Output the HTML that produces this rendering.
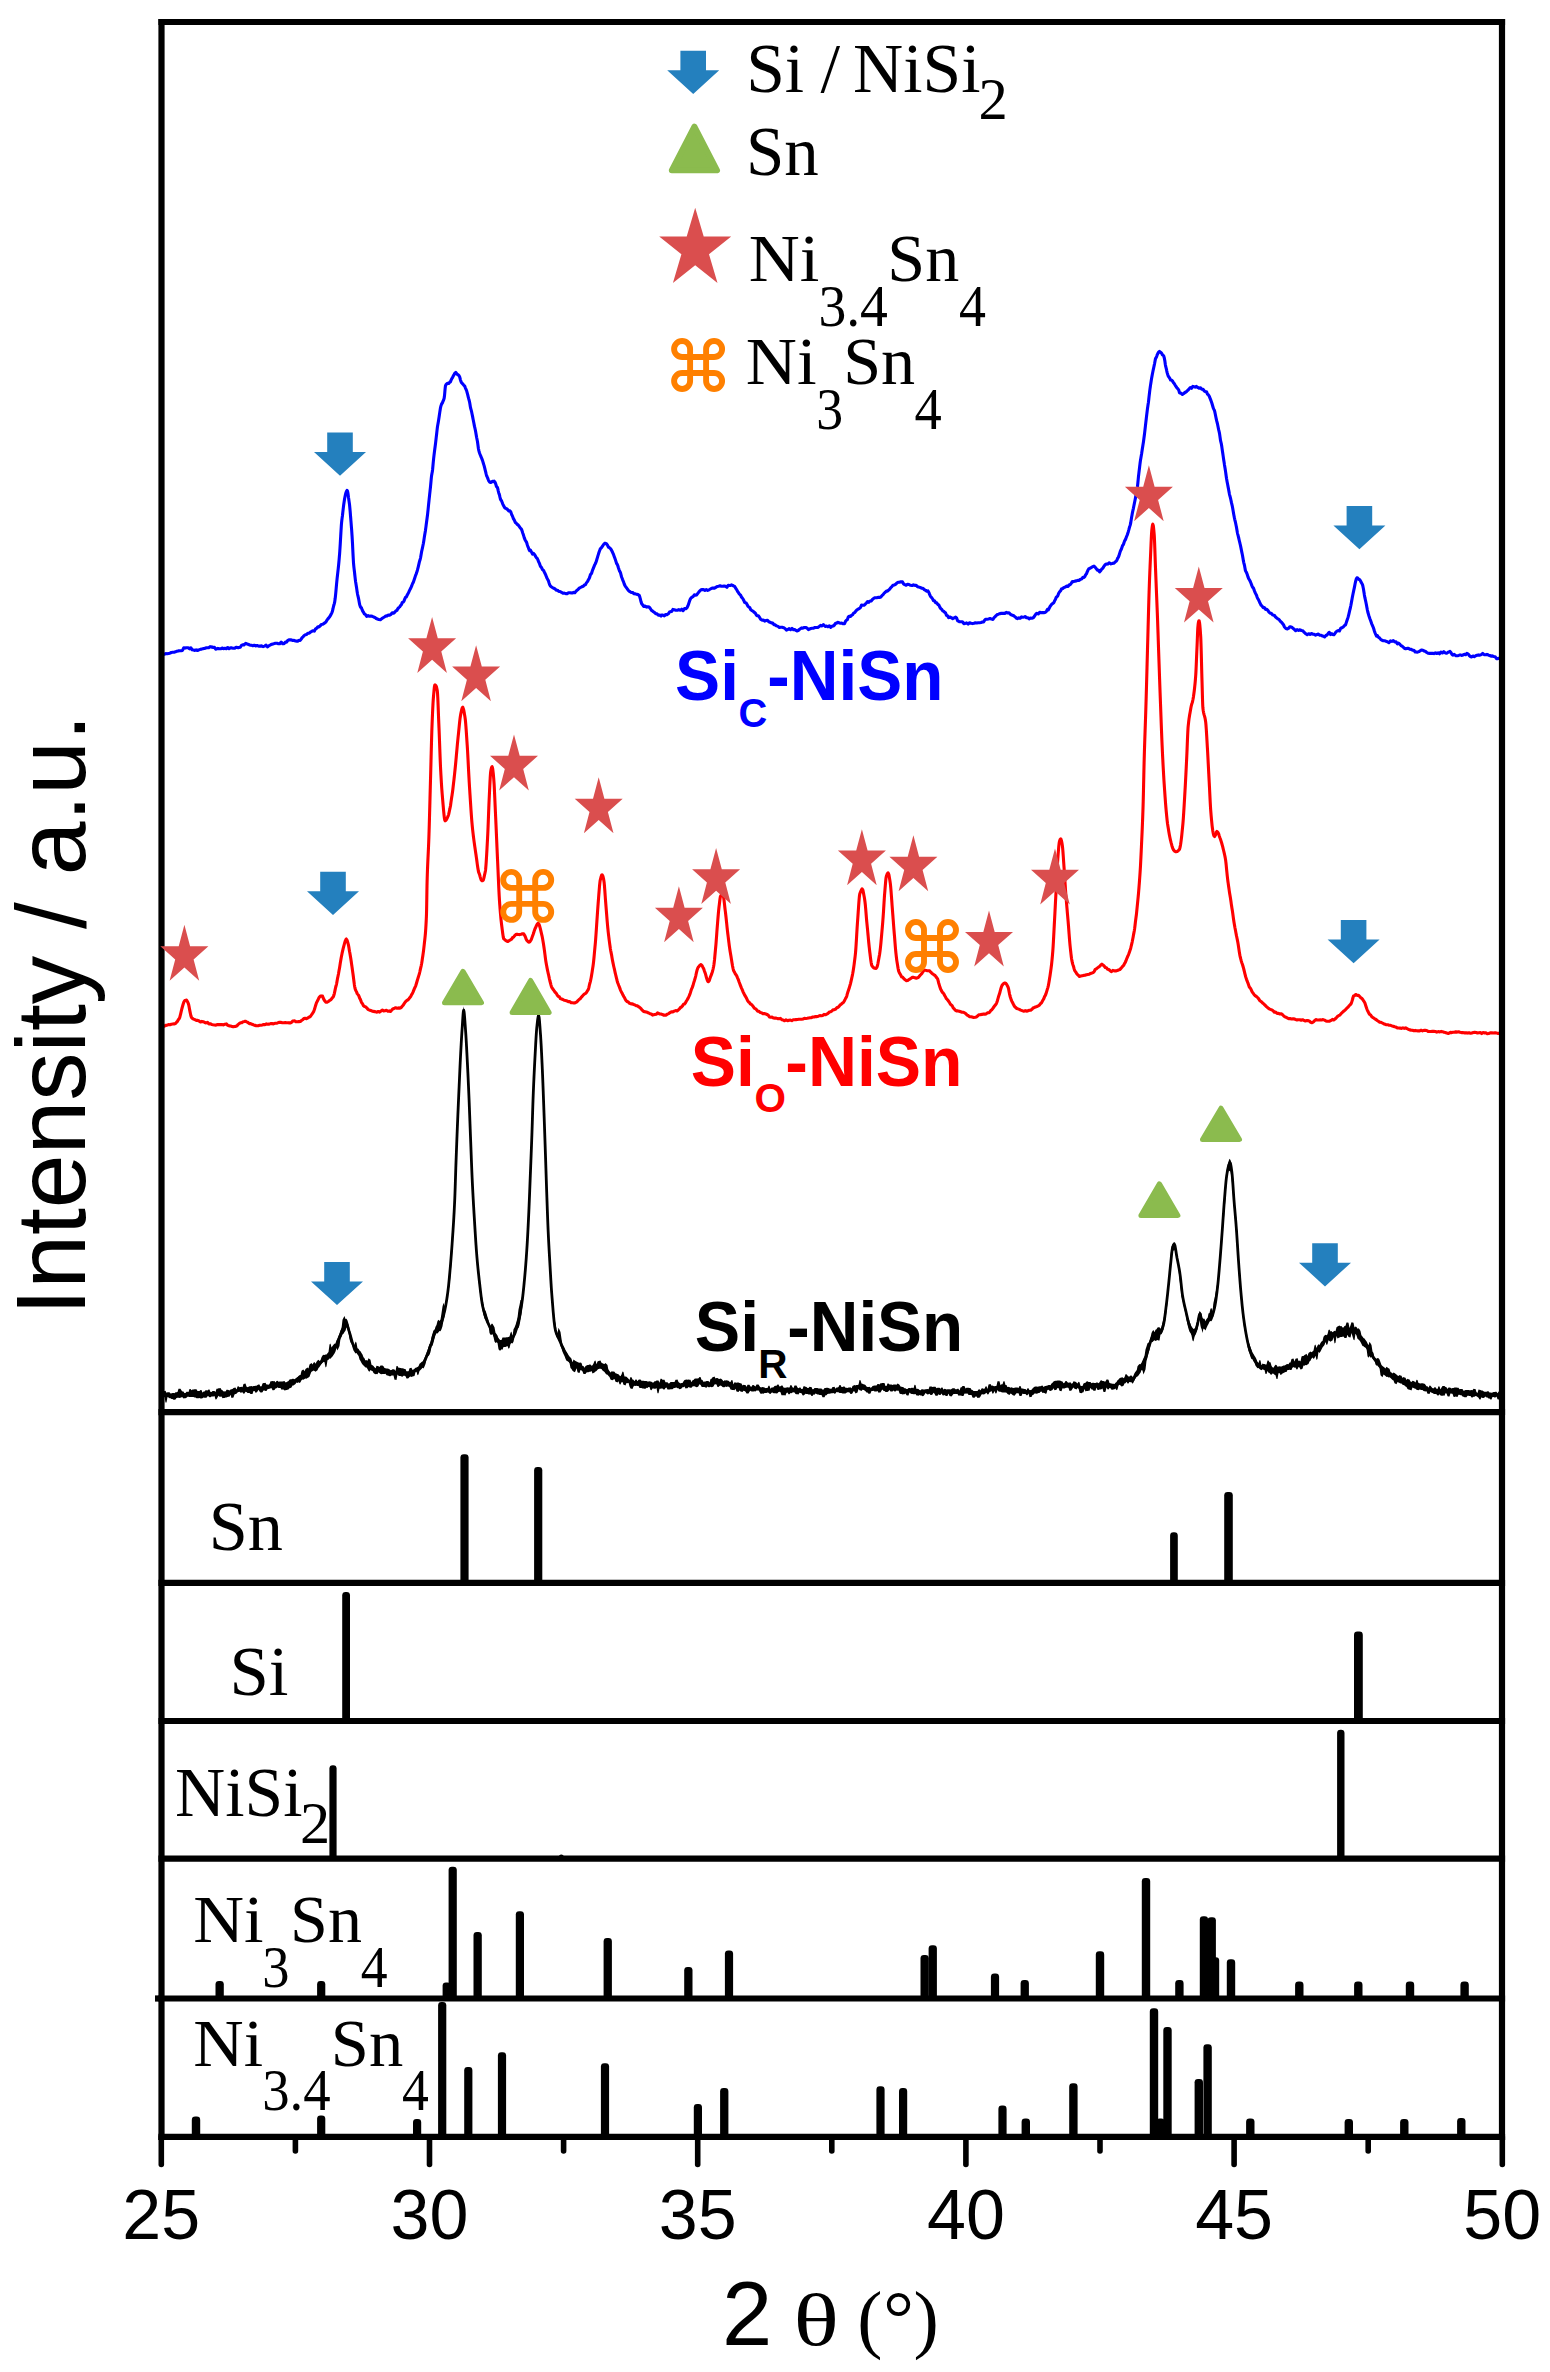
<!DOCTYPE html>
<html><head><meta charset="utf-8"><title>XRD patterns</title>
<style>html,body{margin:0;padding:0;background:#fff}svg text{white-space:pre}</style></head>
<body>
<svg width="1550" height="2372" viewBox="0 0 1550 2372" style="display:block">
<rect width="1550" height="2372" fill="#fff"/>
<path d="M161.5,1390.0 L162.5,1390.0 L163.5,1390.9 L164.5,1390.9 L165.5,1390.8 L166.5,1392.7 L167.5,1392.3 L168.5,1392.3 L169.5,1392.2 L170.5,1393.6 L171.5,1393.6 L172.5,1393.0 L173.5,1393.0 L174.5,1393.3 L175.5,1392.2 L176.5,1392.2 L177.5,1392.1 L178.5,1388.8 L179.5,1388.7 L180.5,1388.7 L181.5,1390.6 L182.5,1391.6 L183.5,1391.5 L184.5,1393.3 L185.5,1393.0 L186.5,1391.7 L187.5,1391.7 L188.5,1391.9 L189.5,1388.9 L190.5,1388.9 L191.5,1390.3 L192.5,1389.6 L193.5,1389.6 L194.5,1389.3 L195.5,1389.3 L196.5,1389.3 L197.5,1390.9 L198.5,1390.9 L199.5,1391.1 L200.5,1389.9 L201.5,1389.9 L202.5,1392.8 L203.5,1391.4 L204.5,1391.4 L205.5,1390.2 L206.5,1390.2 L207.5,1390.5 L208.5,1389.6 L209.5,1389.6 L210.5,1392.0 L211.5,1391.9 L212.5,1391.1 L213.5,1391.0 L214.5,1391.0 L215.5,1392.1 L216.5,1388.7 L217.5,1388.7 L218.5,1388.2 L219.5,1388.2 L220.5,1388.1 L221.5,1389.8 L222.5,1390.3 L223.5,1391.6 L224.5,1391.5 L225.5,1391.8 L226.5,1389.8 L227.5,1389.7 L228.5,1390.1 L229.5,1390.6 L230.5,1389.5 L231.5,1389.3 L232.5,1389.1 L233.5,1388.1 L234.5,1387.8 L235.5,1387.5 L236.5,1389.7 L237.5,1386.6 L238.5,1386.3 L239.5,1387.3 L240.5,1387.0 L241.5,1386.8 L242.5,1387.3 L243.5,1383.9 L244.5,1383.7 L245.5,1383.6 L246.5,1386.6 L247.5,1387.4 L248.5,1386.8 L249.5,1386.2 L250.5,1386.2 L251.5,1386.1 L252.5,1386.4 L253.5,1386.0 L254.5,1385.9 L255.5,1385.7 L256.5,1385.7 L257.5,1385.1 L258.5,1384.6 L259.5,1384.5 L260.5,1386.7 L261.5,1386.6 L262.5,1383.5 L263.5,1383.1 L264.5,1383.0 L265.5,1382.8 L266.5,1384.5 L267.5,1384.4 L268.5,1384.7 L269.5,1384.1 L270.5,1381.3 L271.5,1381.2 L272.5,1381.0 L273.5,1381.2 L274.5,1381.0 L275.5,1382.6 L276.5,1381.0 L277.5,1380.8 L278.5,1381.7 L279.5,1381.6 L280.5,1381.6 L281.5,1381.4 L282.5,1381.5 L283.5,1381.3 L284.5,1381.1 L285.5,1382.5 L286.5,1382.3 L287.5,1381.4 L288.5,1381.1 L289.5,1379.5 L290.5,1379.2 L291.5,1379.3 L292.5,1378.8 L293.5,1378.7 L294.5,1379.6 L295.5,1378.9 L296.5,1378.0 L297.5,1377.3 L298.5,1376.0 L299.5,1375.3 L300.5,1375.0 L301.5,1370.7 L302.5,1370.1 L303.5,1369.5 L304.5,1371.2 L305.5,1368.9 L306.5,1368.2 L307.5,1367.6 L308.5,1368.4 L309.5,1364.5 L310.5,1363.8 L311.5,1363.1 L312.5,1364.4 L313.5,1362.8 L314.5,1362.0 L315.5,1363.7 L316.5,1361.8 L317.5,1360.5 L318.5,1359.7 L319.5,1361.1 L320.5,1360.2 L321.5,1357.2 L322.5,1355.6 L323.5,1354.7 L324.5,1355.0 L325.5,1354.5 L326.5,1354.4 L327.5,1353.2 L328.5,1351.9 L329.5,1344.5 L330.5,1343.4 L331.5,1347.4 L332.5,1346.1 L333.5,1344.8 L334.5,1343.5 L335.5,1344.6 L336.5,1340.5 L337.5,1338.4 L338.5,1335.8 L339.5,1333.5 L340.5,1330.8 L341.5,1328.6 L342.5,1319.7 L343.5,1317.8 L344.5,1316.0 L345.5,1319.0 L346.5,1318.7 L347.5,1320.6 L348.5,1323.8 L349.5,1329.2 L350.5,1332.5 L351.5,1336.7 L352.5,1340.0 L353.5,1343.1 L354.5,1345.4 L355.5,1341.5 L356.5,1342.8 L357.5,1348.4 L358.5,1348.7 L359.5,1350.5 L360.5,1351.3 L361.5,1352.9 L362.5,1354.4 L363.5,1357.3 L364.5,1358.3 L365.5,1361.1 L366.5,1359.9 L367.5,1360.7 L368.5,1358.3 L369.5,1359.0 L370.5,1359.8 L371.5,1364.8 L372.5,1365.2 L373.5,1366.0 L374.5,1367.6 L375.5,1368.6 L376.5,1365.8 L377.5,1366.0 L378.5,1366.2 L379.5,1366.9 L380.5,1365.4 L381.5,1365.5 L382.5,1365.6 L383.5,1366.2 L384.5,1368.1 L385.5,1368.2 L386.5,1368.5 L387.5,1368.6 L388.5,1368.8 L389.5,1369.3 L390.5,1370.3 L391.5,1369.9 L392.5,1369.2 L393.5,1369.3 L394.5,1369.4 L395.5,1370.9 L396.5,1365.9 L397.5,1366.0 L398.5,1367.7 L399.5,1367.8 L400.5,1367.9 L401.5,1368.3 L402.5,1368.3 L403.5,1368.4 L404.5,1368.9 L405.5,1368.9 L406.5,1371.4 L407.5,1371.6 L408.5,1371.5 L409.5,1368.3 L410.5,1368.0 L411.5,1367.7 L412.5,1370.1 L413.5,1369.7 L414.5,1368.7 L415.5,1367.8 L416.5,1367.4 L417.5,1366.9 L418.5,1366.3 L419.5,1363.7 L420.5,1362.9 L421.5,1362.0 L422.5,1361.6 L423.5,1359.9 L424.5,1357.8 L425.5,1355.2 L426.5,1352.8 L427.5,1350.3 L428.5,1346.7 L429.5,1343.9 L430.5,1343.6 L431.5,1336.9 L432.5,1333.7 L433.5,1330.3 L434.5,1330.4 L435.5,1326.7 L436.5,1325.0 L437.5,1320.9 L438.5,1319.8 L439.5,1321.1 L440.5,1319.6 L441.5,1313.2 L442.5,1306.4 L443.5,1302.8 L444.5,1306.5 L445.5,1302.3 L446.5,1296.6 L447.5,1290.8 L448.5,1282.7 L449.5,1272.6 L450.5,1255.7 L451.5,1243.1 L452.5,1229.0 L453.5,1218.8 L454.5,1199.5 L455.5,1172.4 L456.5,1144.0 L457.5,1121.8 L458.5,1095.7 L459.5,1073.3 L460.5,1054.5 L461.5,1034.7 L462.5,1019.1 L463.5,1006.3 L464.5,1011.5 L465.5,1023.5 L466.5,1038.2 L467.5,1057.4 L468.5,1078.7 L469.5,1109.2 L470.5,1132.2 L471.5,1158.2 L472.5,1175.8 L473.5,1194.5 L474.5,1217.4 L475.5,1233.0 L476.5,1247.5 L477.5,1259.2 L478.5,1270.2 L479.5,1278.2 L480.5,1286.9 L481.5,1293.4 L482.5,1299.5 L483.5,1304.0 L484.5,1310.7 L485.5,1310.6 L486.5,1313.4 L487.5,1316.9 L488.5,1320.1 L489.5,1324.1 L490.5,1326.0 L491.5,1323.8 L492.5,1323.7 L493.5,1325.5 L494.5,1327.2 L495.5,1332.7 L496.5,1334.1 L497.5,1335.4 L498.5,1338.6 L499.5,1340.0 L500.5,1339.9 L501.5,1339.9 L502.5,1337.6 L503.5,1337.6 L504.5,1337.5 L505.5,1337.4 L506.5,1337.2 L507.5,1337.3 L508.5,1336.9 L509.5,1336.4 L510.5,1332.7 L511.5,1331.5 L512.5,1336.2 L513.5,1329.2 L514.5,1327.4 L515.5,1325.1 L516.5,1321.8 L517.5,1317.7 L518.5,1309.5 L519.5,1305.1 L520.5,1300.0 L521.5,1299.9 L522.5,1292.4 L523.5,1283.6 L524.5,1272.9 L525.5,1261.4 L526.5,1248.0 L527.5,1235.6 L528.5,1215.7 L529.5,1192.8 L530.5,1167.7 L531.5,1141.2 L532.5,1111.2 L533.5,1083.1 L534.5,1061.4 L535.5,1040.7 L536.5,1023.9 L537.5,1014.4 L538.5,1012.2 L539.5,1019.6 L540.5,1030.2 L541.5,1044.0 L542.5,1065.5 L543.5,1095.9 L544.5,1123.3 L545.5,1150.3 L546.5,1180.6 L547.5,1209.6 L548.5,1233.2 L549.5,1249.2 L550.5,1266.6 L551.5,1284.3 L552.5,1295.8 L553.5,1307.8 L554.5,1318.3 L555.5,1324.0 L556.5,1330.8 L557.5,1333.3 L558.5,1327.8 L559.5,1329.8 L560.5,1332.1 L561.5,1338.7 L562.5,1344.8 L563.5,1346.0 L564.5,1348.1 L565.5,1350.2 L566.5,1351.7 L567.5,1353.3 L568.5,1355.1 L569.5,1356.4 L570.5,1357.6 L571.5,1358.7 L572.5,1362.6 L573.5,1359.5 L574.5,1360.3 L575.5,1361.0 L576.5,1361.5 L577.5,1362.0 L578.5,1362.4 L579.5,1362.8 L580.5,1362.6 L581.5,1362.9 L582.5,1365.9 L583.5,1366.0 L584.5,1367.9 L585.5,1366.1 L586.5,1365.6 L587.5,1364.9 L588.5,1364.9 L589.5,1364.4 L590.5,1364.4 L591.5,1365.7 L592.5,1365.3 L593.5,1363.6 L594.5,1361.0 L595.5,1360.6 L596.5,1364.3 L597.5,1361.6 L598.5,1361.1 L599.5,1360.7 L600.5,1360.6 L601.5,1362.7 L602.5,1363.3 L603.5,1363.7 L604.5,1363.9 L605.5,1362.9 L606.5,1363.9 L607.5,1365.0 L608.5,1370.4 L609.5,1371.7 L610.5,1373.0 L611.5,1371.2 L612.5,1371.4 L613.5,1371.4 L614.5,1371.8 L615.5,1373.2 L616.5,1373.5 L617.5,1373.9 L618.5,1374.2 L619.5,1375.4 L620.5,1376.2 L621.5,1374.5 L622.5,1371.5 L623.5,1371.9 L624.5,1376.4 L625.5,1376.5 L626.5,1376.8 L627.5,1377.8 L628.5,1378.7 L629.5,1380.1 L630.5,1377.0 L631.5,1377.3 L632.5,1379.5 L633.5,1379.7 L634.5,1381.3 L635.5,1379.5 L636.5,1379.6 L637.5,1381.2 L638.5,1379.7 L639.5,1379.4 L640.5,1379.5 L641.5,1380.7 L642.5,1380.8 L643.5,1380.8 L644.5,1380.9 L645.5,1380.9 L646.5,1381.0 L647.5,1381.5 L648.5,1381.6 L649.5,1381.3 L650.5,1381.5 L651.5,1381.7 L652.5,1382.4 L653.5,1382.6 L654.5,1381.2 L655.5,1381.3 L656.5,1380.4 L657.5,1380.4 L658.5,1380.4 L659.5,1382.8 L660.5,1378.7 L661.5,1378.7 L662.5,1379.8 L663.5,1379.8 L664.5,1379.8 L665.5,1382.2 L666.5,1382.2 L667.5,1382.2 L668.5,1383.5 L669.5,1383.2 L670.5,1381.9 L671.5,1381.9 L672.5,1382.1 L673.5,1382.1 L674.5,1382.0 L675.5,1379.7 L676.5,1379.7 L677.5,1379.6 L678.5,1382.1 L679.5,1382.8 L680.5,1383.7 L681.5,1383.1 L682.5,1383.0 L683.5,1381.2 L684.5,1379.9 L685.5,1379.7 L686.5,1379.6 L687.5,1379.7 L688.5,1379.6 L689.5,1379.8 L690.5,1379.7 L691.5,1382.3 L692.5,1380.2 L693.5,1380.0 L694.5,1378.7 L695.5,1378.5 L696.5,1378.4 L697.5,1378.4 L698.5,1378.3 L699.5,1377.0 L700.5,1377.1 L701.5,1379.8 L702.5,1379.9 L703.5,1382.1 L704.5,1381.5 L705.5,1381.5 L706.5,1381.1 L707.5,1381.1 L708.5,1381.1 L709.5,1382.4 L710.5,1379.0 L711.5,1378.7 L712.5,1377.2 L713.5,1376.9 L714.5,1376.6 L715.5,1378.6 L716.5,1378.0 L717.5,1377.9 L718.5,1378.7 L719.5,1378.9 L720.5,1378.5 L721.5,1378.9 L722.5,1379.9 L723.5,1381.3 L724.5,1380.2 L725.5,1380.5 L726.5,1380.2 L727.5,1380.4 L728.5,1380.7 L729.5,1381.8 L730.5,1381.9 L731.5,1380.0 L732.5,1380.2 L733.5,1384.6 L734.5,1382.3 L735.5,1382.5 L736.5,1382.7 L737.5,1382.4 L738.5,1382.6 L739.5,1383.1 L740.5,1383.3 L741.5,1383.5 L742.5,1385.4 L743.5,1384.8 L744.5,1384.9 L745.5,1385.1 L746.5,1386.9 L747.5,1384.7 L748.5,1384.8 L749.5,1384.8 L750.5,1386.6 L751.5,1386.7 L752.5,1385.1 L753.5,1385.1 L754.5,1385.8 L755.5,1386.4 L756.5,1384.5 L757.5,1384.5 L758.5,1384.6 L759.5,1386.1 L760.5,1387.6 L761.5,1387.4 L762.5,1387.1 L763.5,1387.2 L764.5,1387.4 L765.5,1388.3 L766.5,1388.0 L767.5,1388.0 L768.5,1385.7 L769.5,1385.8 L770.5,1388.9 L771.5,1387.4 L772.5,1387.4 L773.5,1387.2 L774.5,1385.9 L775.5,1385.8 L776.5,1385.7 L777.5,1384.6 L778.5,1384.5 L779.5,1386.4 L780.5,1386.3 L781.5,1385.5 L782.5,1385.5 L783.5,1387.6 L784.5,1387.7 L785.5,1387.7 L786.5,1387.5 L787.5,1387.3 L788.5,1387.4 L789.5,1387.5 L790.5,1385.1 L791.5,1385.2 L792.5,1387.2 L793.5,1387.9 L794.5,1385.5 L795.5,1385.6 L796.5,1385.6 L797.5,1387.4 L798.5,1388.2 L799.5,1387.5 L800.5,1387.5 L801.5,1389.2 L802.5,1389.3 L803.5,1386.2 L804.5,1386.3 L805.5,1386.8 L806.5,1386.9 L807.5,1387.9 L808.5,1388.0 L809.5,1386.8 L810.5,1386.9 L811.5,1386.9 L812.5,1389.5 L813.5,1389.3 L814.5,1388.1 L815.5,1388.1 L816.5,1387.9 L817.5,1387.9 L818.5,1388.5 L819.5,1388.5 L820.5,1388.4 L821.5,1388.4 L822.5,1389.7 L823.5,1389.7 L824.5,1388.0 L825.5,1388.0 L826.5,1387.7 L827.5,1387.7 L828.5,1388.1 L829.5,1388.4 L830.5,1388.8 L831.5,1388.8 L832.5,1387.1 L833.5,1386.9 L834.5,1386.8 L835.5,1388.8 L836.5,1387.6 L837.5,1387.6 L838.5,1387.0 L839.5,1385.0 L840.5,1385.0 L841.5,1386.9 L842.5,1387.0 L843.5,1386.6 L844.5,1386.6 L845.5,1387.8 L846.5,1387.8 L847.5,1388.0 L848.5,1387.5 L849.5,1387.5 L850.5,1387.3 L851.5,1388.6 L852.5,1386.0 L853.5,1385.4 L854.5,1384.9 L855.5,1385.6 L856.5,1385.0 L857.5,1384.9 L858.5,1384.7 L859.5,1380.1 L860.5,1380.3 L861.5,1383.4 L862.5,1383.7 L863.5,1384.3 L864.5,1384.5 L865.5,1385.0 L866.5,1386.6 L867.5,1386.9 L868.5,1386.9 L869.5,1386.8 L870.5,1387.7 L871.5,1387.5 L872.5,1386.1 L873.5,1385.8 L874.5,1385.6 L875.5,1385.5 L876.5,1385.5 L877.5,1384.1 L878.5,1384.0 L879.5,1384.4 L880.5,1383.3 L881.5,1383.3 L882.5,1383.0 L883.5,1383.0 L884.5,1382.9 L885.5,1385.9 L886.5,1385.9 L887.5,1383.6 L888.5,1383.6 L889.5,1384.4 L890.5,1384.5 L891.5,1384.5 L892.5,1385.0 L893.5,1384.5 L894.5,1384.5 L895.5,1384.6 L896.5,1384.8 L897.5,1383.6 L898.5,1384.0 L899.5,1384.7 L900.5,1386.4 L901.5,1386.7 L902.5,1387.0 L903.5,1387.2 L904.5,1388.2 L905.5,1388.3 L906.5,1389.0 L907.5,1388.9 L908.5,1388.0 L909.5,1388.0 L910.5,1388.3 L911.5,1387.8 L912.5,1387.8 L913.5,1388.3 L914.5,1384.8 L915.5,1385.0 L916.5,1389.0 L917.5,1388.7 L918.5,1388.9 L919.5,1390.0 L920.5,1390.4 L921.5,1389.3 L922.5,1389.2 L923.5,1389.6 L924.5,1389.4 L925.5,1389.2 L926.5,1389.2 L927.5,1389.0 L928.5,1389.5 L929.5,1386.5 L930.5,1386.5 L931.5,1386.5 L932.5,1386.9 L933.5,1386.7 L934.5,1386.8 L935.5,1386.8 L936.5,1388.3 L937.5,1387.7 L938.5,1387.8 L939.5,1387.8 L940.5,1388.7 L941.5,1387.5 L942.5,1387.6 L943.5,1389.8 L944.5,1388.8 L945.5,1389.0 L946.5,1389.6 L947.5,1389.2 L948.5,1389.2 L949.5,1389.3 L950.5,1389.6 L951.5,1388.9 L952.5,1388.3 L953.5,1388.3 L954.5,1388.3 L955.5,1389.3 L956.5,1389.3 L957.5,1388.8 L958.5,1388.7 L959.5,1390.7 L960.5,1387.4 L961.5,1387.3 L962.5,1385.9 L963.5,1385.9 L964.5,1385.9 L965.5,1388.6 L966.5,1387.7 L967.5,1387.8 L968.5,1387.8 L969.5,1387.9 L970.5,1388.0 L971.5,1389.8 L972.5,1389.9 L973.5,1391.1 L974.5,1391.1 L975.5,1391.2 L976.5,1391.1 L977.5,1391.1 L978.5,1389.5 L979.5,1389.3 L980.5,1390.5 L981.5,1388.5 L982.5,1388.3 L983.5,1388.7 L984.5,1388.8 L985.5,1386.4 L986.5,1386.2 L987.5,1388.9 L988.5,1384.6 L989.5,1384.2 L990.5,1383.9 L991.5,1385.8 L992.5,1385.4 L993.5,1386.0 L994.5,1386.6 L995.5,1386.2 L996.5,1385.7 L997.5,1381.3 L998.5,1381.3 L999.5,1381.3 L1000.5,1385.3 L1001.5,1384.3 L1002.5,1384.3 L1003.5,1381.2 L1004.5,1381.3 L1005.5,1384.9 L1006.5,1385.1 L1007.5,1387.2 L1008.5,1386.8 L1009.5,1387.2 L1010.5,1387.7 L1011.5,1387.3 L1012.5,1387.8 L1013.5,1388.1 L1014.5,1387.8 L1015.5,1387.4 L1016.5,1387.4 L1017.5,1387.4 L1018.5,1387.9 L1019.5,1386.1 L1020.5,1386.1 L1021.5,1388.5 L1022.5,1388.5 L1023.5,1388.7 L1024.5,1389.1 L1025.5,1389.1 L1026.5,1390.2 L1027.5,1388.3 L1028.5,1388.3 L1029.5,1390.3 L1030.5,1390.2 L1031.5,1389.7 L1032.5,1388.5 L1033.5,1387.6 L1034.5,1386.7 L1035.5,1386.6 L1036.5,1386.4 L1037.5,1386.7 L1038.5,1386.5 L1039.5,1386.3 L1040.5,1386.2 L1041.5,1385.8 L1042.5,1385.6 L1043.5,1387.0 L1044.5,1386.3 L1045.5,1386.1 L1046.5,1385.7 L1047.5,1385.4 L1048.5,1385.1 L1049.5,1385.1 L1050.5,1385.3 L1051.5,1383.4 L1052.5,1382.7 L1053.5,1381.4 L1054.5,1381.0 L1055.5,1380.8 L1056.5,1380.7 L1057.5,1380.5 L1058.5,1380.4 L1059.5,1380.5 L1060.5,1380.7 L1061.5,1381.3 L1062.5,1381.5 L1063.5,1383.3 L1064.5,1382.7 L1065.5,1381.0 L1066.5,1381.0 L1067.5,1382.3 L1068.5,1382.7 L1069.5,1382.5 L1070.5,1382.3 L1071.5,1383.9 L1072.5,1383.4 L1073.5,1381.3 L1074.5,1381.4 L1075.5,1381.7 L1076.5,1382.4 L1077.5,1383.6 L1078.5,1381.8 L1079.5,1382.2 L1080.5,1385.8 L1081.5,1385.9 L1082.5,1385.9 L1083.5,1383.4 L1084.5,1383.1 L1085.5,1382.7 L1086.5,1381.4 L1087.5,1381.2 L1088.5,1382.0 L1089.5,1382.0 L1090.5,1382.0 L1091.5,1383.3 L1092.5,1382.7 L1093.5,1382.7 L1094.5,1383.1 L1095.5,1383.0 L1096.5,1382.5 L1097.5,1382.5 L1098.5,1383.2 L1099.5,1382.3 L1100.5,1380.5 L1101.5,1380.3 L1102.5,1381.1 L1103.5,1381.0 L1104.5,1381.6 L1105.5,1381.5 L1106.5,1379.6 L1107.5,1379.6 L1108.5,1379.8 L1109.5,1382.9 L1110.5,1383.2 L1111.5,1383.5 L1112.5,1383.8 L1113.5,1383.8 L1114.5,1384.0 L1115.5,1382.7 L1116.5,1382.1 L1117.5,1380.3 L1118.5,1379.6 L1119.5,1378.2 L1120.5,1377.8 L1121.5,1377.6 L1122.5,1377.2 L1123.5,1378.2 L1124.5,1377.3 L1125.5,1374.3 L1126.5,1374.2 L1127.5,1375.4 L1128.5,1376.6 L1129.5,1376.6 L1130.5,1375.6 L1131.5,1375.6 L1132.5,1376.7 L1133.5,1376.8 L1134.5,1375.0 L1135.5,1372.5 L1136.5,1371.4 L1137.5,1366.2 L1138.5,1365.1 L1139.5,1364.1 L1140.5,1364.2 L1141.5,1362.8 L1142.5,1360.4 L1143.5,1358.3 L1144.5,1356.0 L1145.5,1349.4 L1146.5,1346.6 L1147.5,1343.2 L1148.5,1342.8 L1149.5,1340.7 L1150.5,1337.5 L1151.5,1333.1 L1152.5,1331.0 L1153.5,1329.9 L1154.5,1332.3 L1155.5,1329.8 L1156.5,1329.3 L1157.5,1327.4 L1158.5,1327.3 L1159.5,1327.3 L1160.5,1328.7 L1161.5,1326.7 L1162.5,1322.4 L1163.5,1318.9 L1164.5,1313.3 L1165.5,1306.4 L1166.5,1299.0 L1167.5,1290.3 L1168.5,1283.1 L1169.5,1269.7 L1170.5,1256.3 L1171.5,1246.5 L1172.5,1245.2 L1173.5,1242.8 L1174.5,1242.1 L1175.5,1246.9 L1176.5,1251.0 L1177.5,1256.3 L1178.5,1261.4 L1179.5,1268.1 L1180.5,1275.3 L1181.5,1285.9 L1182.5,1294.0 L1183.5,1299.5 L1184.5,1303.4 L1185.5,1307.6 L1186.5,1311.9 L1187.5,1317.1 L1188.5,1318.2 L1189.5,1321.3 L1190.5,1323.9 L1191.5,1326.5 L1192.5,1327.8 L1193.5,1328.9 L1194.5,1328.5 L1195.5,1327.5 L1196.5,1323.3 L1197.5,1319.8 L1198.5,1314.5 L1199.5,1311.1 L1200.5,1312.0 L1201.5,1313.4 L1202.5,1317.9 L1203.5,1318.8 L1204.5,1318.7 L1205.5,1321.3 L1206.5,1321.0 L1207.5,1318.7 L1208.5,1313.6 L1209.5,1313.1 L1210.5,1308.7 L1211.5,1307.9 L1212.5,1311.5 L1213.5,1302.6 L1214.5,1298.4 L1215.5,1293.2 L1216.5,1287.8 L1217.5,1281.2 L1218.5,1271.4 L1219.5,1261.3 L1220.5,1249.1 L1221.5,1237.4 L1222.5,1223.8 L1223.5,1209.3 L1224.5,1196.1 L1225.5,1181.9 L1226.5,1172.0 L1227.5,1165.7 L1228.5,1161.6 L1229.5,1158.8 L1230.5,1160.1 L1231.5,1163.4 L1232.5,1172.7 L1233.5,1191.9 L1234.5,1203.6 L1235.5,1211.7 L1236.5,1220.3 L1237.5,1235.4 L1238.5,1250.6 L1239.5,1270.8 L1240.5,1283.6 L1241.5,1295.8 L1242.5,1305.9 L1243.5,1315.3 L1244.5,1321.7 L1245.5,1327.1 L1246.5,1332.8 L1247.5,1339.2 L1248.5,1341.1 L1249.5,1344.5 L1250.5,1347.2 L1251.5,1349.8 L1252.5,1352.5 L1253.5,1354.1 L1254.5,1355.8 L1255.5,1357.3 L1256.5,1359.3 L1257.5,1362.1 L1258.5,1362.9 L1259.5,1360.0 L1260.5,1360.6 L1261.5,1365.5 L1262.5,1363.6 L1263.5,1363.9 L1264.5,1364.1 L1265.5,1364.4 L1266.5,1364.5 L1267.5,1360.5 L1268.5,1360.6 L1269.5,1362.2 L1270.5,1362.3 L1271.5,1365.8 L1272.5,1367.4 L1273.5,1367.8 L1274.5,1366.0 L1275.5,1364.7 L1276.5,1364.9 L1277.5,1366.8 L1278.5,1366.6 L1279.5,1366.3 L1280.5,1366.5 L1281.5,1366.4 L1282.5,1365.9 L1283.5,1365.5 L1284.5,1365.4 L1285.5,1365.1 L1286.5,1364.2 L1287.5,1364.1 L1288.5,1364.2 L1289.5,1362.6 L1290.5,1362.4 L1291.5,1358.9 L1292.5,1358.7 L1293.5,1358.5 L1294.5,1361.4 L1295.5,1358.7 L1296.5,1358.4 L1297.5,1358.0 L1298.5,1361.0 L1299.5,1360.6 L1300.5,1361.4 L1301.5,1356.6 L1302.5,1356.1 L1303.5,1355.9 L1304.5,1355.0 L1305.5,1354.4 L1306.5,1353.8 L1307.5,1356.0 L1308.5,1352.9 L1309.5,1352.2 L1310.5,1351.4 L1311.5,1352.2 L1312.5,1351.4 L1313.5,1350.5 L1314.5,1345.4 L1315.5,1344.4 L1316.5,1347.9 L1317.5,1345.4 L1318.5,1344.3 L1319.5,1345.0 L1320.5,1343.0 L1321.5,1341.5 L1322.5,1340.9 L1323.5,1336.8 L1324.5,1335.6 L1325.5,1334.7 L1326.5,1335.3 L1327.5,1334.2 L1328.5,1330.0 L1329.5,1329.4 L1330.5,1331.6 L1331.5,1331.0 L1332.5,1332.3 L1333.5,1331.6 L1334.5,1330.8 L1335.5,1331.2 L1336.5,1327.2 L1337.5,1326.6 L1338.5,1326.0 L1339.5,1325.6 L1340.5,1326.3 L1341.5,1325.9 L1342.5,1327.6 L1343.5,1327.6 L1344.5,1325.9 L1345.5,1325.8 L1346.5,1322.5 L1347.5,1322.6 L1348.5,1322.8 L1349.5,1328.0 L1350.5,1325.2 L1351.5,1322.3 L1352.5,1322.5 L1353.5,1322.8 L1354.5,1327.4 L1355.5,1326.5 L1356.5,1327.1 L1357.5,1328.8 L1358.5,1328.3 L1359.5,1329.3 L1360.5,1331.0 L1361.5,1335.7 L1362.5,1336.4 L1363.5,1338.1 L1364.5,1338.5 L1365.5,1339.9 L1366.5,1341.2 L1367.5,1343.2 L1368.5,1345.2 L1369.5,1341.7 L1370.5,1343.3 L1371.5,1345.0 L1372.5,1351.5 L1373.5,1353.1 L1374.5,1357.4 L1375.5,1358.2 L1376.5,1358.8 L1377.5,1357.9 L1378.5,1358.3 L1379.5,1359.6 L1380.5,1362.2 L1381.5,1365.0 L1382.5,1366.1 L1383.5,1366.7 L1384.5,1367.5 L1385.5,1368.5 L1386.5,1366.8 L1387.5,1367.5 L1388.5,1368.2 L1389.5,1368.8 L1390.5,1372.0 L1391.5,1372.6 L1392.5,1373.6 L1393.5,1372.6 L1394.5,1373.1 L1395.5,1373.7 L1396.5,1374.6 L1397.5,1375.6 L1398.5,1376.0 L1399.5,1374.9 L1400.5,1375.4 L1401.5,1375.8 L1402.5,1377.9 L1403.5,1377.0 L1404.5,1377.4 L1405.5,1377.8 L1406.5,1380.1 L1407.5,1378.8 L1408.5,1379.2 L1409.5,1379.6 L1410.5,1381.6 L1411.5,1382.0 L1412.5,1380.8 L1413.5,1381.1 L1414.5,1381.4 L1415.5,1382.6 L1416.5,1379.8 L1417.5,1380.1 L1418.5,1383.0 L1419.5,1383.2 L1420.5,1383.5 L1421.5,1383.2 L1422.5,1383.2 L1423.5,1383.4 L1424.5,1383.7 L1425.5,1384.7 L1426.5,1386.2 L1427.5,1386.3 L1428.5,1387.7 L1429.5,1385.5 L1430.5,1385.7 L1431.5,1387.0 L1432.5,1388.3 L1433.5,1388.6 L1434.5,1387.2 L1435.5,1387.3 L1436.5,1388.7 L1437.5,1388.9 L1438.5,1386.3 L1439.5,1386.4 L1440.5,1389.6 L1441.5,1387.5 L1442.5,1385.9 L1443.5,1386.0 L1444.5,1386.1 L1445.5,1387.1 L1446.5,1387.2 L1447.5,1389.0 L1448.5,1387.5 L1449.5,1387.6 L1450.5,1387.7 L1451.5,1388.4 L1452.5,1388.0 L1453.5,1388.1 L1454.5,1387.5 L1455.5,1387.6 L1456.5,1387.6 L1457.5,1387.7 L1458.5,1387.8 L1459.5,1389.3 L1460.5,1389.0 L1461.5,1389.0 L1462.5,1389.1 L1463.5,1390.7 L1464.5,1390.4 L1465.5,1390.1 L1466.5,1390.1 L1467.5,1389.9 L1468.5,1389.9 L1469.5,1390.2 L1470.5,1390.2 L1471.5,1390.1 L1472.5,1390.2 L1473.5,1388.8 L1474.5,1389.0 L1475.5,1389.1 L1476.5,1392.2 L1477.5,1392.9 L1478.5,1389.6 L1479.5,1389.8 L1480.5,1389.9 L1481.5,1390.5 L1482.5,1390.5 L1483.5,1391.2 L1484.5,1391.7 L1485.5,1391.7 L1486.5,1391.7 L1487.5,1391.2 L1488.5,1391.2 L1489.5,1392.4 L1490.5,1392.4 L1491.5,1392.8 L1492.5,1392.5 L1493.5,1392.0 L1494.5,1392.0 L1495.5,1391.7 L1496.5,1391.8 L1497.5,1393.2 L1498.5,1391.7 L1499.5,1390.7 L1500.5,1390.7 L1501.5,1392.7 L1501.5,1397.3 L1500.5,1397.3 L1499.5,1399.5 L1498.5,1399.4 L1497.5,1399.3 L1496.5,1396.6 L1495.5,1397.6 L1494.5,1397.5 L1493.5,1396.9 L1492.5,1396.9 L1491.5,1399.6 L1490.5,1399.6 L1489.5,1398.4 L1488.5,1398.4 L1487.5,1397.4 L1486.5,1397.4 L1485.5,1396.6 L1484.5,1397.5 L1483.5,1397.9 L1482.5,1397.9 L1481.5,1397.3 L1480.5,1399.6 L1479.5,1399.5 L1478.5,1397.7 L1477.5,1397.1 L1476.5,1396.3 L1475.5,1396.1 L1474.5,1396.8 L1473.5,1396.7 L1472.5,1397.5 L1471.5,1397.4 L1470.5,1396.0 L1469.5,1395.9 L1468.5,1395.7 L1467.5,1395.7 L1466.5,1397.2 L1465.5,1397.2 L1464.5,1397.2 L1463.5,1396.7 L1462.5,1396.4 L1461.5,1395.2 L1460.5,1395.2 L1459.5,1394.8 L1458.5,1394.7 L1457.5,1396.9 L1456.5,1396.8 L1455.5,1396.5 L1454.5,1396.9 L1453.5,1396.8 L1452.5,1393.8 L1451.5,1393.3 L1450.5,1393.2 L1449.5,1396.5 L1448.5,1396.4 L1447.5,1396.3 L1446.5,1393.4 L1445.5,1393.3 L1444.5,1395.7 L1443.5,1395.6 L1442.5,1395.8 L1441.5,1395.7 L1440.5,1395.6 L1439.5,1394.2 L1438.5,1395.6 L1437.5,1395.5 L1436.5,1394.3 L1435.5,1394.1 L1434.5,1393.9 L1433.5,1393.8 L1432.5,1392.9 L1431.5,1392.8 L1430.5,1391.7 L1429.5,1394.0 L1428.5,1393.8 L1427.5,1393.7 L1426.5,1391.2 L1425.5,1391.5 L1424.5,1391.3 L1423.5,1391.1 L1422.5,1389.9 L1421.5,1389.9 L1420.5,1389.7 L1419.5,1389.4 L1418.5,1390.3 L1417.5,1390.0 L1416.5,1389.7 L1415.5,1388.8 L1414.5,1388.5 L1413.5,1388.1 L1412.5,1387.5 L1411.5,1390.5 L1410.5,1390.1 L1409.5,1389.7 L1408.5,1389.4 L1407.5,1389.0 L1406.5,1387.0 L1405.5,1386.6 L1404.5,1385.5 L1403.5,1385.1 L1402.5,1384.7 L1401.5,1383.6 L1400.5,1383.5 L1399.5,1383.1 L1398.5,1382.6 L1397.5,1382.1 L1396.5,1384.3 L1395.5,1383.8 L1394.5,1383.3 L1393.5,1380.4 L1392.5,1379.9 L1391.5,1379.0 L1390.5,1377.9 L1389.5,1377.3 L1388.5,1377.5 L1387.5,1376.8 L1386.5,1376.9 L1385.5,1376.1 L1384.5,1375.3 L1383.5,1374.5 L1382.5,1377.2 L1381.5,1376.3 L1380.5,1375.2 L1379.5,1367.7 L1378.5,1366.0 L1377.5,1364.7 L1376.5,1365.8 L1375.5,1364.4 L1374.5,1360.4 L1373.5,1359.9 L1372.5,1358.7 L1371.5,1357.0 L1370.5,1357.7 L1369.5,1356.1 L1368.5,1357.7 L1367.5,1356.3 L1366.5,1348.4 L1365.5,1347.2 L1364.5,1347.3 L1363.5,1346.2 L1362.5,1345.9 L1361.5,1343.9 L1360.5,1341.9 L1359.5,1340.6 L1358.5,1339.5 L1357.5,1338.8 L1356.5,1335.5 L1355.5,1333.5 L1354.5,1340.2 L1353.5,1339.8 L1352.5,1336.4 L1351.5,1332.9 L1350.5,1337.4 L1349.5,1337.2 L1348.5,1337.0 L1347.5,1334.8 L1346.5,1337.9 L1345.5,1337.9 L1344.5,1337.9 L1343.5,1336.5 L1342.5,1336.7 L1341.5,1337.1 L1340.5,1337.0 L1339.5,1337.5 L1338.5,1338.0 L1337.5,1338.5 L1336.5,1335.9 L1335.5,1342.7 L1334.5,1343.4 L1333.5,1337.3 L1332.5,1340.4 L1331.5,1341.1 L1330.5,1341.7 L1329.5,1340.9 L1328.5,1340.2 L1327.5,1344.2 L1326.5,1344.9 L1325.5,1341.7 L1324.5,1345.1 L1323.5,1346.2 L1322.5,1347.5 L1321.5,1349.5 L1320.5,1351.5 L1319.5,1352.9 L1318.5,1351.8 L1317.5,1358.9 L1316.5,1360.0 L1315.5,1355.8 L1314.5,1357.9 L1313.5,1358.9 L1312.5,1357.1 L1311.5,1358.3 L1310.5,1360.8 L1309.5,1361.6 L1308.5,1363.9 L1307.5,1364.6 L1306.5,1365.2 L1305.5,1365.1 L1304.5,1365.7 L1303.5,1365.6 L1302.5,1368.7 L1301.5,1369.2 L1300.5,1369.6 L1299.5,1367.4 L1298.5,1367.1 L1297.5,1369.3 L1296.5,1369.6 L1295.5,1367.4 L1294.5,1367.7 L1293.5,1367.0 L1292.5,1367.4 L1291.5,1369.9 L1290.5,1370.1 L1289.5,1369.8 L1288.5,1370.0 L1287.5,1370.1 L1286.5,1371.9 L1285.5,1372.1 L1284.5,1372.4 L1283.5,1372.9 L1282.5,1373.5 L1281.5,1374.5 L1280.5,1375.1 L1279.5,1372.9 L1278.5,1373.2 L1277.5,1379.1 L1276.5,1379.1 L1275.5,1375.2 L1274.5,1374.8 L1273.5,1373.7 L1272.5,1373.4 L1271.5,1374.8 L1270.5,1374.6 L1269.5,1372.9 L1268.5,1372.8 L1267.5,1371.1 L1266.5,1374.0 L1265.5,1373.9 L1264.5,1370.0 L1263.5,1369.7 L1262.5,1369.2 L1261.5,1370.2 L1260.5,1369.7 L1259.5,1369.1 L1258.5,1368.1 L1257.5,1368.2 L1256.5,1367.1 L1255.5,1365.8 L1254.5,1362.7 L1253.5,1361.0 L1252.5,1357.9 L1251.5,1359.3 L1250.5,1356.7 L1249.5,1353.6 L1248.5,1350.9 L1247.5,1346.7 L1246.5,1339.3 L1245.5,1331.8 L1244.5,1330.7 L1243.5,1323.4 L1242.5,1315.0 L1241.5,1303.8 L1240.5,1296.6 L1239.5,1283.8 L1238.5,1270.0 L1237.5,1250.0 L1236.5,1238.9 L1235.5,1226.3 L1234.5,1214.7 L1233.5,1202.2 L1232.5,1187.7 L1231.5,1178.4 L1230.5,1171.4 L1229.5,1171.1 L1228.5,1170.4 L1227.5,1175.0 L1226.5,1181.5 L1225.5,1198.5 L1224.5,1210.9 L1223.5,1224.2 L1222.5,1232.1 L1221.5,1246.6 L1220.5,1259.7 L1219.5,1270.2 L1218.5,1281.3 L1217.5,1292.0 L1216.5,1300.2 L1215.5,1307.1 L1214.5,1310.9 L1213.5,1315.9 L1212.5,1319.3 L1211.5,1321.3 L1210.5,1321.1 L1209.5,1321.7 L1208.5,1324.1 L1207.5,1325.7 L1206.5,1328.1 L1205.5,1330.5 L1204.5,1329.3 L1203.5,1328.3 L1202.5,1333.1 L1201.5,1328.6 L1200.5,1321.1 L1199.5,1316.6 L1198.5,1324.4 L1197.5,1329.6 L1196.5,1331.1 L1195.5,1334.5 L1194.5,1337.0 L1193.5,1341.6 L1192.5,1340.5 L1191.5,1335.6 L1190.5,1333.0 L1189.5,1331.8 L1188.5,1328.7 L1187.5,1324.7 L1186.5,1319.7 L1185.5,1314.1 L1184.5,1309.9 L1183.5,1305.3 L1182.5,1300.5 L1181.5,1296.4 L1180.5,1287.2 L1179.5,1279.3 L1178.5,1269.7 L1177.5,1262.1 L1176.5,1259.3 L1175.5,1252.8 L1174.5,1249.8 L1173.5,1250.4 L1172.5,1251.7 L1171.5,1257.0 L1170.5,1268.3 L1169.5,1278.9 L1168.5,1289.7 L1167.5,1302.7 L1166.5,1311.4 L1165.5,1319.5 L1164.5,1323.9 L1163.5,1329.5 L1162.5,1331.4 L1161.5,1334.2 L1160.5,1334.5 L1159.5,1340.5 L1158.5,1340.5 L1157.5,1340.0 L1156.5,1340.4 L1155.5,1340.9 L1154.5,1340.2 L1153.5,1341.1 L1152.5,1342.2 L1151.5,1341.4 L1150.5,1344.7 L1149.5,1349.7 L1148.5,1352.9 L1147.5,1357.6 L1146.5,1361.0 L1145.5,1369.5 L1144.5,1372.1 L1143.5,1374.5 L1142.5,1370.5 L1141.5,1370.1 L1140.5,1372.8 L1139.5,1373.9 L1138.5,1375.4 L1137.5,1376.4 L1136.5,1377.1 L1135.5,1378.6 L1134.5,1380.0 L1133.5,1382.5 L1132.5,1383.8 L1131.5,1382.2 L1130.5,1382.2 L1129.5,1381.8 L1128.5,1383.6 L1127.5,1383.6 L1126.5,1381.8 L1125.5,1383.3 L1124.5,1383.6 L1123.5,1385.7 L1122.5,1386.2 L1121.5,1386.6 L1120.5,1385.5 L1119.5,1384.5 L1118.5,1385.5 L1117.5,1389.5 L1116.5,1390.2 L1115.5,1388.5 L1114.5,1389.3 L1113.5,1389.5 L1112.5,1389.8 L1111.5,1389.7 L1110.5,1388.2 L1109.5,1388.0 L1108.5,1389.4 L1107.5,1389.2 L1106.5,1387.4 L1105.5,1391.8 L1104.5,1391.9 L1103.5,1392.0 L1102.5,1388.6 L1101.5,1389.3 L1100.5,1389.5 L1099.5,1389.6 L1098.5,1389.9 L1097.5,1389.9 L1096.5,1387.4 L1095.5,1390.8 L1094.5,1390.8 L1093.5,1390.8 L1092.5,1389.5 L1091.5,1389.5 L1090.5,1387.7 L1089.5,1390.7 L1088.5,1390.7 L1087.5,1390.9 L1086.5,1391.1 L1085.5,1391.5 L1084.5,1388.9 L1083.5,1392.2 L1082.5,1392.4 L1081.5,1393.3 L1080.5,1393.1 L1079.5,1392.8 L1078.5,1388.2 L1077.5,1388.1 L1076.5,1389.5 L1075.5,1389.0 L1074.5,1388.7 L1073.5,1387.6 L1072.5,1388.8 L1071.5,1390.5 L1070.5,1390.7 L1069.5,1390.9 L1068.5,1388.1 L1067.5,1387.3 L1066.5,1387.4 L1065.5,1387.9 L1064.5,1388.5 L1063.5,1388.4 L1062.5,1388.2 L1061.5,1391.2 L1060.5,1391.0 L1059.5,1390.8 L1058.5,1388.1 L1057.5,1388.0 L1056.5,1389.7 L1055.5,1389.9 L1054.5,1390.2 L1053.5,1388.3 L1052.5,1390.0 L1051.5,1390.5 L1050.5,1391.0 L1049.5,1390.8 L1048.5,1389.5 L1047.5,1389.7 L1046.5,1393.6 L1045.5,1393.8 L1044.5,1393.0 L1043.5,1392.7 L1042.5,1392.9 L1041.5,1391.6 L1040.5,1391.8 L1039.5,1392.9 L1038.5,1393.1 L1037.5,1393.6 L1036.5,1393.8 L1035.5,1393.4 L1034.5,1393.6 L1033.5,1394.8 L1032.5,1395.0 L1031.5,1397.0 L1030.5,1397.1 L1029.5,1397.2 L1028.5,1393.6 L1027.5,1395.3 L1026.5,1395.3 L1025.5,1394.0 L1024.5,1394.0 L1023.5,1394.0 L1022.5,1393.6 L1021.5,1396.0 L1020.5,1396.0 L1019.5,1396.0 L1018.5,1393.1 L1017.5,1393.1 L1016.5,1393.1 L1015.5,1394.6 L1014.5,1395.8 L1013.5,1395.4 L1012.5,1395.0 L1011.5,1394.1 L1010.5,1393.6 L1009.5,1394.9 L1008.5,1394.4 L1007.5,1394.1 L1006.5,1392.7 L1005.5,1392.5 L1004.5,1392.4 L1003.5,1392.5 L1002.5,1392.4 L1001.5,1392.2 L1000.5,1391.7 L999.5,1391.7 L998.5,1391.6 L997.5,1390.1 L996.5,1393.2 L995.5,1393.4 L994.5,1391.0 L993.5,1393.3 L992.5,1393.7 L991.5,1391.1 L990.5,1391.8 L989.5,1392.2 L988.5,1394.2 L987.5,1394.5 L986.5,1392.8 L985.5,1393.6 L984.5,1394.2 L983.5,1394.4 L982.5,1394.2 L981.5,1394.4 L980.5,1396.6 L979.5,1397.7 L978.5,1397.8 L977.5,1397.9 L976.5,1396.5 L975.5,1396.6 L974.5,1397.7 L973.5,1397.7 L972.5,1397.6 L971.5,1395.0 L970.5,1394.9 L969.5,1395.0 L968.5,1394.9 L967.5,1393.2 L966.5,1393.5 L965.5,1393.4 L964.5,1393.4 L963.5,1396.1 L962.5,1396.1 L961.5,1395.7 L960.5,1395.5 L959.5,1395.6 L958.5,1395.7 L957.5,1394.0 L956.5,1394.0 L955.5,1393.8 L954.5,1393.9 L953.5,1393.9 L952.5,1395.2 L951.5,1396.4 L950.5,1396.3 L949.5,1396.1 L948.5,1393.4 L947.5,1396.1 L946.5,1396.0 L945.5,1395.8 L944.5,1395.0 L943.5,1395.4 L942.5,1395.2 L941.5,1393.4 L940.5,1394.9 L939.5,1394.9 L938.5,1394.2 L937.5,1395.8 L936.5,1395.7 L935.5,1395.7 L934.5,1393.8 L933.5,1392.7 L932.5,1394.4 L931.5,1395.0 L930.5,1395.0 L929.5,1393.7 L928.5,1394.3 L927.5,1394.5 L926.5,1393.7 L925.5,1392.9 L924.5,1394.7 L923.5,1396.0 L922.5,1396.2 L921.5,1395.6 L920.5,1395.6 L919.5,1394.9 L918.5,1395.7 L917.5,1395.6 L916.5,1395.4 L915.5,1393.9 L914.5,1394.3 L913.5,1394.2 L912.5,1394.0 L911.5,1393.9 L910.5,1393.5 L909.5,1392.6 L908.5,1395.4 L907.5,1395.4 L906.5,1395.3 L905.5,1393.4 L904.5,1394.3 L903.5,1394.2 L902.5,1394.4 L901.5,1394.1 L900.5,1394.0 L899.5,1393.6 L898.5,1390.2 L897.5,1390.7 L896.5,1390.4 L895.5,1391.6 L894.5,1391.5 L893.5,1390.4 L892.5,1391.4 L891.5,1391.4 L890.5,1391.4 L889.5,1389.9 L888.5,1391.2 L887.5,1392.0 L886.5,1392.0 L885.5,1392.0 L884.5,1391.1 L883.5,1391.1 L882.5,1389.3 L881.5,1390.8 L880.5,1392.5 L879.5,1392.6 L878.5,1392.7 L877.5,1391.1 L876.5,1391.4 L875.5,1391.5 L874.5,1391.6 L873.5,1390.8 L872.5,1391.0 L871.5,1391.1 L870.5,1393.6 L869.5,1393.7 L868.5,1393.8 L867.5,1392.5 L866.5,1392.5 L865.5,1391.2 L864.5,1390.3 L863.5,1389.7 L862.5,1389.7 L861.5,1390.9 L860.5,1390.4 L859.5,1390.2 L858.5,1389.0 L857.5,1392.5 L856.5,1393.0 L855.5,1393.6 L854.5,1391.5 L853.5,1391.3 L852.5,1393.3 L851.5,1393.9 L850.5,1394.0 L849.5,1392.6 L848.5,1392.3 L847.5,1392.3 L846.5,1392.7 L845.5,1393.4 L844.5,1393.6 L843.5,1393.5 L842.5,1393.4 L841.5,1393.1 L840.5,1393.0 L839.5,1393.0 L838.5,1392.3 L837.5,1392.3 L836.5,1391.9 L835.5,1393.6 L834.5,1393.7 L833.5,1392.9 L832.5,1393.2 L831.5,1393.3 L830.5,1393.6 L829.5,1393.8 L828.5,1393.8 L827.5,1393.9 L826.5,1395.2 L825.5,1395.2 L824.5,1397.2 L823.5,1397.2 L822.5,1397.2 L821.5,1395.1 L820.5,1395.1 L819.5,1395.1 L818.5,1394.4 L817.5,1394.4 L816.5,1393.9 L815.5,1393.5 L814.5,1394.7 L813.5,1394.6 L812.5,1395.9 L811.5,1395.9 L810.5,1394.5 L809.5,1394.5 L808.5,1394.4 L807.5,1394.1 L806.5,1394.1 L805.5,1393.7 L804.5,1394.8 L803.5,1395.4 L802.5,1395.3 L801.5,1393.3 L800.5,1392.9 L799.5,1392.8 L798.5,1394.4 L797.5,1394.3 L796.5,1394.3 L795.5,1394.0 L794.5,1392.4 L793.5,1392.3 L792.5,1392.6 L791.5,1393.2 L790.5,1393.1 L789.5,1394.3 L788.5,1394.2 L787.5,1392.4 L786.5,1393.1 L785.5,1395.4 L784.5,1395.3 L783.5,1395.2 L782.5,1395.2 L781.5,1395.2 L780.5,1392.2 L779.5,1391.8 L778.5,1391.9 L777.5,1393.3 L776.5,1393.4 L775.5,1393.2 L774.5,1393.3 L773.5,1393.3 L772.5,1392.5 L771.5,1392.7 L770.5,1393.9 L769.5,1393.8 L768.5,1392.7 L767.5,1392.6 L766.5,1393.1 L765.5,1393.1 L764.5,1392.9 L763.5,1393.8 L762.5,1393.6 L761.5,1393.8 L760.5,1393.7 L759.5,1391.9 L758.5,1390.3 L757.5,1390.5 L756.5,1390.5 L755.5,1391.4 L754.5,1391.3 L753.5,1391.5 L752.5,1391.5 L751.5,1391.4 L750.5,1390.8 L749.5,1391.7 L748.5,1393.6 L747.5,1393.5 L746.5,1393.4 L745.5,1391.7 L744.5,1390.9 L743.5,1390.8 L742.5,1391.9 L741.5,1391.7 L740.5,1391.5 L739.5,1390.6 L738.5,1391.9 L737.5,1391.8 L736.5,1391.6 L735.5,1388.7 L734.5,1390.3 L733.5,1390.1 L732.5,1390.0 L731.5,1389.7 L730.5,1389.5 L729.5,1387.2 L728.5,1386.6 L727.5,1386.4 L726.5,1386.9 L725.5,1386.6 L724.5,1387.2 L723.5,1387.3 L722.5,1386.9 L721.5,1385.9 L720.5,1385.6 L719.5,1385.9 L718.5,1387.1 L717.5,1387.1 L716.5,1384.4 L715.5,1384.3 L714.5,1384.5 L713.5,1386.6 L712.5,1386.9 L711.5,1387.3 L710.5,1386.7 L709.5,1387.2 L708.5,1387.3 L707.5,1386.6 L706.5,1387.7 L705.5,1387.6 L704.5,1387.0 L703.5,1387.1 L702.5,1387.0 L701.5,1386.8 L700.5,1384.8 L699.5,1384.1 L698.5,1386.3 L697.5,1387.1 L696.5,1387.2 L695.5,1386.7 L694.5,1386.2 L693.5,1386.3 L692.5,1386.6 L691.5,1387.7 L690.5,1387.8 L689.5,1387.4 L688.5,1387.0 L687.5,1388.2 L686.5,1388.3 L685.5,1388.5 L684.5,1386.5 L683.5,1387.2 L682.5,1387.3 L681.5,1388.5 L680.5,1389.1 L679.5,1389.2 L678.5,1388.3 L677.5,1388.3 L676.5,1387.5 L675.5,1387.7 L674.5,1388.1 L673.5,1388.2 L672.5,1389.2 L671.5,1389.3 L670.5,1389.3 L669.5,1389.6 L668.5,1389.6 L667.5,1389.6 L666.5,1387.5 L665.5,1388.1 L664.5,1389.5 L663.5,1389.5 L662.5,1388.6 L661.5,1388.6 L660.5,1388.8 L659.5,1388.8 L658.5,1393.3 L657.5,1393.3 L656.5,1388.0 L655.5,1388.7 L654.5,1388.7 L653.5,1388.6 L652.5,1388.4 L651.5,1390.3 L650.5,1390.1 L649.5,1387.0 L648.5,1386.9 L647.5,1388.0 L646.5,1387.8 L645.5,1388.8 L644.5,1388.7 L643.5,1388.6 L642.5,1388.5 L641.5,1388.1 L640.5,1388.0 L639.5,1387.9 L638.5,1386.0 L637.5,1386.0 L636.5,1385.8 L635.5,1386.0 L634.5,1385.8 L633.5,1386.4 L632.5,1389.0 L631.5,1388.8 L630.5,1388.5 L629.5,1386.4 L628.5,1382.8 L627.5,1383.3 L626.5,1383.0 L625.5,1385.4 L624.5,1385.1 L623.5,1384.8 L622.5,1382.0 L621.5,1382.3 L620.5,1384.5 L619.5,1384.2 L618.5,1381.3 L617.5,1382.5 L616.5,1382.1 L615.5,1381.8 L614.5,1378.9 L613.5,1379.5 L612.5,1380.3 L611.5,1380.0 L610.5,1379.4 L609.5,1376.9 L608.5,1376.1 L607.5,1374.8 L606.5,1374.4 L605.5,1373.5 L604.5,1372.1 L603.5,1371.3 L602.5,1370.5 L601.5,1368.9 L600.5,1368.7 L599.5,1368.7 L598.5,1369.0 L597.5,1369.8 L596.5,1371.1 L595.5,1371.6 L594.5,1372.5 L593.5,1372.9 L592.5,1373.4 L591.5,1370.9 L590.5,1371.8 L589.5,1371.8 L588.5,1372.3 L587.5,1372.3 L586.5,1372.6 L585.5,1374.1 L584.5,1374.1 L583.5,1374.1 L582.5,1371.6 L581.5,1370.2 L580.5,1369.9 L579.5,1373.1 L578.5,1372.7 L577.5,1372.2 L576.5,1368.1 L575.5,1371.3 L574.5,1372.3 L573.5,1371.6 L572.5,1370.7 L571.5,1368.9 L570.5,1367.9 L569.5,1363.1 L568.5,1361.6 L567.5,1361.3 L566.5,1360.8 L565.5,1358.8 L564.5,1356.1 L563.5,1354.0 L562.5,1351.8 L561.5,1348.3 L560.5,1345.9 L559.5,1341.5 L558.5,1340.1 L557.5,1338.1 L556.5,1336.7 L555.5,1333.4 L554.5,1330.5 L553.5,1320.9 L552.5,1309.0 L551.5,1294.1 L550.5,1277.9 L549.5,1258.4 L548.5,1246.7 L547.5,1223.1 L546.5,1194.7 L545.5,1163.2 L544.5,1134.1 L543.5,1106.4 L542.5,1080.4 L541.5,1053.3 L540.5,1038.2 L539.5,1028.0 L538.5,1022.5 L537.5,1022.8 L536.5,1032.2 L535.5,1054.3 L534.5,1073.2 L533.5,1094.8 L532.5,1120.7 L531.5,1149.7 L530.5,1175.1 L529.5,1200.3 L528.5,1223.6 L527.5,1243.0 L526.5,1257.4 L525.5,1272.3 L524.5,1283.8 L523.5,1295.7 L522.5,1304.6 L521.5,1314.2 L520.5,1320.1 L519.5,1325.2 L518.5,1328.2 L517.5,1327.9 L516.5,1331.7 L515.5,1333.8 L514.5,1337.2 L513.5,1341.7 L512.5,1343.4 L511.5,1342.9 L510.5,1344.1 L509.5,1348.1 L508.5,1348.7 L507.5,1346.1 L506.5,1346.4 L505.5,1346.9 L504.5,1347.0 L503.5,1347.1 L502.5,1349.7 L501.5,1349.3 L500.5,1350.5 L499.5,1350.4 L498.5,1349.3 L497.5,1343.1 L496.5,1342.3 L495.5,1343.0 L494.5,1341.4 L493.5,1337.1 L492.5,1332.9 L491.5,1335.1 L490.5,1334.7 L489.5,1332.9 L488.5,1325.5 L487.5,1323.3 L486.5,1322.4 L485.5,1319.6 L484.5,1318.6 L483.5,1314.8 L482.5,1310.3 L481.5,1304.1 L480.5,1297.9 L479.5,1289.2 L478.5,1279.8 L477.5,1269.8 L476.5,1258.1 L475.5,1241.6 L474.5,1225.5 L473.5,1208.3 L472.5,1189.7 L471.5,1168.5 L470.5,1146.7 L469.5,1120.5 L468.5,1093.6 L467.5,1072.3 L466.5,1049.6 L465.5,1035.0 L464.5,1021.3 L463.5,1016.1 L462.5,1027.1 L461.5,1044.4 L460.5,1062.5 L459.5,1082.5 L458.5,1104.8 L457.5,1128.1 L456.5,1154.4 L455.5,1183.5 L454.5,1210.6 L453.5,1228.2 L452.5,1243.4 L451.5,1262.8 L450.5,1275.3 L449.5,1286.6 L448.5,1289.4 L447.5,1298.5 L446.5,1305.2 L445.5,1310.3 L444.5,1316.5 L443.5,1320.6 L442.5,1326.3 L441.5,1329.2 L440.5,1331.2 L439.5,1331.1 L438.5,1332.3 L437.5,1333.4 L436.5,1333.3 L435.5,1335.0 L434.5,1338.4 L433.5,1342.4 L432.5,1345.8 L431.5,1346.4 L430.5,1351.9 L429.5,1354.8 L428.5,1356.0 L427.5,1356.3 L426.5,1359.2 L425.5,1364.1 L424.5,1366.4 L423.5,1368.5 L422.5,1367.8 L421.5,1368.9 L420.5,1370.1 L419.5,1370.9 L418.5,1374.6 L417.5,1375.2 L416.5,1371.8 L415.5,1372.2 L414.5,1375.9 L413.5,1376.3 L412.5,1376.6 L411.5,1377.0 L410.5,1376.6 L409.5,1376.9 L408.5,1378.2 L407.5,1378.4 L406.5,1378.5 L405.5,1376.3 L404.5,1375.7 L403.5,1375.7 L402.5,1376.7 L401.5,1376.6 L400.5,1376.1 L399.5,1375.9 L398.5,1375.8 L397.5,1374.4 L396.5,1379.9 L395.5,1379.8 L394.5,1379.7 L393.5,1375.5 L392.5,1375.5 L391.5,1375.4 L390.5,1376.3 L389.5,1376.2 L388.5,1375.8 L387.5,1375.4 L386.5,1375.3 L385.5,1373.8 L384.5,1374.1 L383.5,1374.0 L382.5,1374.0 L381.5,1374.2 L380.5,1374.1 L379.5,1373.2 L378.5,1372.2 L377.5,1374.3 L376.5,1374.0 L375.5,1374.3 L374.5,1373.7 L373.5,1373.0 L372.5,1371.0 L371.5,1370.7 L370.5,1369.9 L369.5,1371.8 L368.5,1371.1 L367.5,1369.1 L366.5,1367.5 L365.5,1367.4 L364.5,1366.5 L363.5,1365.6 L362.5,1364.4 L361.5,1362.9 L360.5,1361.1 L359.5,1359.4 L358.5,1355.5 L357.5,1354.5 L356.5,1353.1 L355.5,1353.5 L354.5,1352.1 L353.5,1350.4 L352.5,1347.4 L351.5,1343.4 L350.5,1342.6 L349.5,1339.3 L348.5,1332.8 L347.5,1329.3 L346.5,1327.3 L345.5,1330.8 L344.5,1332.1 L343.5,1333.8 L342.5,1334.4 L341.5,1337.0 L340.5,1338.5 L339.5,1346.0 L338.5,1348.3 L337.5,1350.5 L336.5,1348.0 L335.5,1351.6 L334.5,1353.4 L333.5,1355.1 L332.5,1356.5 L331.5,1357.5 L330.5,1358.7 L329.5,1358.6 L328.5,1359.7 L327.5,1360.2 L326.5,1366.5 L325.5,1367.4 L324.5,1362.3 L323.5,1361.5 L322.5,1362.3 L321.5,1363.9 L320.5,1365.4 L319.5,1367.1 L318.5,1367.9 L317.5,1370.3 L316.5,1371.0 L315.5,1371.8 L314.5,1370.9 L313.5,1370.4 L312.5,1371.2 L311.5,1371.5 L310.5,1374.1 L309.5,1376.8 L308.5,1377.5 L307.5,1378.1 L306.5,1378.7 L305.5,1378.5 L304.5,1379.1 L303.5,1379.7 L302.5,1379.6 L301.5,1380.2 L300.5,1382.3 L299.5,1382.9 L298.5,1382.2 L297.5,1382.9 L296.5,1382.6 L295.5,1384.1 L294.5,1384.8 L293.5,1385.4 L292.5,1385.5 L291.5,1387.5 L290.5,1387.9 L289.5,1388.2 L288.5,1389.5 L287.5,1389.7 L286.5,1390.0 L285.5,1390.2 L284.5,1390.4 L283.5,1389.4 L282.5,1389.6 L281.5,1389.8 L280.5,1387.9 L279.5,1388.1 L278.5,1388.0 L277.5,1387.2 L276.5,1388.2 L275.5,1388.4 L274.5,1390.0 L273.5,1390.2 L272.5,1390.3 L271.5,1388.0 L270.5,1388.1 L269.5,1388.4 L268.5,1389.1 L267.5,1389.3 L266.5,1390.9 L265.5,1391.0 L264.5,1390.4 L263.5,1390.5 L262.5,1392.3 L261.5,1392.4 L260.5,1392.5 L259.5,1391.4 L258.5,1389.7 L257.5,1391.5 L256.5,1392.6 L255.5,1392.7 L254.5,1391.0 L253.5,1391.1 L252.5,1393.9 L251.5,1393.9 L250.5,1393.9 L249.5,1392.9 L248.5,1393.0 L247.5,1393.1 L246.5,1392.1 L245.5,1391.8 L244.5,1393.5 L243.5,1393.7 L242.5,1392.3 L241.5,1392.5 L240.5,1392.7 L239.5,1391.6 L238.5,1391.9 L237.5,1392.6 L236.5,1393.8 L235.5,1394.1 L234.5,1394.4 L233.5,1397.5 L232.5,1397.8 L231.5,1398.0 L230.5,1394.7 L229.5,1396.7 L228.5,1396.8 L227.5,1396.9 L226.5,1397.4 L225.5,1397.5 L224.5,1398.1 L223.5,1398.1 L222.5,1398.2 L221.5,1396.5 L220.5,1396.8 L219.5,1396.8 L218.5,1395.7 L217.5,1397.5 L216.5,1399.3 L215.5,1399.4 L214.5,1395.9 L213.5,1396.4 L212.5,1396.5 L211.5,1396.4 L210.5,1397.2 L209.5,1397.3 L208.5,1396.2 L207.5,1396.2 L206.5,1397.7 L205.5,1397.7 L204.5,1397.7 L203.5,1397.4 L202.5,1398.3 L201.5,1398.4 L200.5,1398.4 L199.5,1397.9 L198.5,1398.3 L197.5,1398.3 L196.5,1398.3 L195.5,1397.6 L194.5,1397.6 L193.5,1397.0 L192.5,1397.0 L191.5,1396.9 L190.5,1396.9 L189.5,1397.0 L188.5,1396.8 L187.5,1396.8 L186.5,1397.8 L185.5,1398.3 L184.5,1398.3 L183.5,1398.4 L182.5,1397.2 L181.5,1397.2 L180.5,1397.8 L179.5,1397.9 L178.5,1397.7 L177.5,1397.7 L176.5,1398.0 L175.5,1399.6 L174.5,1399.7 L173.5,1399.7 L172.5,1399.1 L171.5,1399.1 L170.5,1398.2 L169.5,1398.3 L168.5,1397.5 L167.5,1397.1 L166.5,1402.4 L165.5,1402.5 L164.5,1396.9 L163.5,1397.6 L162.5,1400.4 L161.5,1400.4 Z" fill="#000" stroke="none"/>
<path d="M161.5,1395.6 L163.0,1395.6 L164.5,1395.6 L165.9,1395.5 L167.3,1395.5 L168.7,1395.4 L170.1,1395.3 L171.5,1395.2 L172.9,1395.1 L174.3,1395.1 L175.7,1395.0 L177.1,1394.9 L178.5,1394.9 L179.9,1394.8 L181.3,1394.8 L182.7,1394.7 L184.1,1394.7 L185.5,1394.6 L186.9,1394.6 L188.3,1394.5 L189.7,1394.5 L191.1,1394.4 L192.5,1394.4 L193.9,1394.4 L195.3,1394.3 L196.7,1394.3 L198.1,1394.3 L199.5,1394.2 L200.9,1394.2 L202.3,1394.1 L203.7,1394.1 L205.1,1394.0 L206.5,1394.0 L207.9,1393.9 L209.3,1393.9 L210.7,1393.8 L212.1,1393.8 L213.5,1393.7 L214.9,1393.7 L216.3,1393.6 L217.7,1393.5 L219.1,1393.5 L220.5,1393.4 L221.9,1393.3 L223.3,1393.2 L224.7,1393.1 L226.1,1393.0 L227.5,1392.9 L228.9,1392.8 L230.3,1392.6 L231.7,1392.3 L233.1,1391.9 L234.5,1391.5 L235.9,1391.1 L237.3,1390.7 L238.7,1390.3 L240.1,1389.9 L241.5,1389.6 L242.9,1389.3 L244.3,1389.0 L245.7,1388.8 L247.1,1388.7 L248.5,1388.6 L249.9,1388.6 L251.3,1388.5 L252.7,1388.4 L254.1,1388.4 L255.5,1388.3 L256.9,1388.2 L258.3,1388.2 L259.7,1388.1 L261.1,1388.0 L262.5,1387.9 L263.9,1387.7 L265.3,1387.6 L266.7,1387.4 L268.1,1387.2 L269.5,1387.0 L270.9,1386.8 L272.3,1386.5 L273.7,1386.3 L275.1,1386.1 L276.5,1385.8 L277.9,1385.6 L279.3,1385.4 L280.7,1385.1 L282.1,1384.9 L283.5,1384.6 L284.9,1384.3 L286.3,1384.0 L287.7,1383.7 L289.1,1383.3 L290.5,1382.9 L291.9,1382.4 L293.2,1381.7 L294.4,1381.0 L295.6,1380.2 L296.8,1379.3 L298.0,1378.4 L299.2,1377.6 L300.4,1376.8 L301.6,1376.1 L302.8,1375.4 L304.0,1374.7 L305.2,1373.9 L306.4,1373.2 L307.6,1372.4 L308.8,1371.6 L310.0,1370.8 L311.2,1369.9 L312.4,1369.1 L313.6,1368.2 L314.8,1367.3 L316.0,1366.3 L317.1,1365.5 L318.2,1364.6 L319.3,1363.7 L320.4,1362.8 L321.5,1361.9 L322.6,1360.9 L323.7,1360.0 L324.8,1359.0 L325.9,1357.9 L327.0,1356.9 L328.0,1355.9 L329.0,1354.8 L330.0,1353.8 L331.0,1352.6 L331.9,1351.6 L332.8,1350.4 L333.7,1349.1 L334.5,1347.9 L335.3,1346.5 L336.0,1345.2 L336.7,1343.8 L337.4,1342.3 L338.0,1341.0 L338.6,1339.7 L339.2,1338.3 L339.8,1336.9 L340.3,1335.5 L340.8,1334.1 L341.3,1332.6 L341.8,1331.1 L342.4,1329.6 L343.1,1328.2 L343.8,1326.9 L344.5,1325.7 L345.4,1324.5 L346.3,1324.0 L347.2,1325.1 L347.8,1326.7 L348.3,1328.4 L348.7,1329.8 L349.1,1331.2 L349.6,1332.8 L350.1,1334.4 L350.5,1335.8 L350.9,1337.3 L351.3,1338.8 L351.7,1340.3 L352.1,1341.7 L352.6,1343.2 L353.2,1344.6 L353.9,1345.9 L354.7,1347.2 L355.6,1348.4 L356.5,1349.6 L357.4,1350.9 L358.2,1352.1 L359.0,1353.5 L359.7,1354.7 L360.4,1356.0 L361.2,1357.3 L362.0,1358.6 L362.9,1359.8 L363.9,1360.9 L365.0,1361.9 L366.1,1362.9 L367.2,1363.7 L368.4,1364.6 L369.6,1365.5 L370.8,1366.4 L371.9,1367.3 L373.0,1368.2 L374.2,1369.1 L375.4,1369.8 L376.8,1370.3 L378.2,1370.6 L379.6,1370.8 L381.0,1371.0 L382.4,1371.1 L383.8,1371.2 L385.2,1371.4 L386.6,1371.5 L388.0,1371.7 L389.4,1371.9 L390.8,1372.0 L392.2,1372.2 L393.6,1372.3 L395.0,1372.4 L396.4,1372.5 L397.8,1372.6 L399.2,1372.7 L400.6,1372.8 L402.0,1372.9 L403.4,1373.0 L404.8,1373.0 L406.1,1373.0 L407.5,1372.9 L408.9,1372.7 L410.3,1372.3 L411.7,1371.8 L413.0,1371.2 L414.3,1370.7 L415.6,1370.1 L416.9,1369.5 L418.2,1368.8 L419.4,1368.0 L420.6,1367.1 L421.7,1366.0 L422.6,1365.0 L423.4,1363.6 L424.1,1362.2 L424.7,1360.9 L425.3,1359.5 L425.9,1358.1 L426.5,1356.7 L427.1,1355.2 L427.7,1353.7 L428.2,1352.3 L428.7,1350.9 L429.2,1349.5 L429.7,1348.0 L430.2,1346.6 L430.7,1345.1 L431.2,1343.7 L431.7,1342.1 L432.2,1340.5 L432.7,1338.8 L433.2,1337.1 L433.7,1335.5 L434.2,1334.0 L434.7,1332.6 L435.3,1331.2 L436.0,1329.9 L436.8,1328.7 L437.7,1327.6 L438.7,1326.5 L439.6,1325.4 L440.4,1324.2 L441.1,1323.0 L441.7,1321.6 L442.2,1320.2 L442.7,1318.5 L443.1,1317.1 L443.5,1315.6 L443.9,1314.0 L444.3,1312.3 L444.7,1310.6 L445.1,1308.7 L445.4,1307.3 L445.7,1305.7 L446.0,1304.1 L446.3,1302.3 L446.6,1300.5 L446.9,1298.5 L447.2,1296.5 L447.4,1295.0 L447.6,1293.6 L447.8,1292.1 L448.0,1290.5 L448.2,1288.9 L448.4,1287.1 L448.6,1285.3 L448.8,1283.4 L449.0,1281.3 L449.2,1279.3 L449.4,1277.2 L449.6,1275.0 L449.8,1272.8 L450.0,1270.5 L450.2,1268.3 L450.4,1266.0 L450.6,1263.6 L450.8,1261.2 L451.0,1258.7 L451.2,1256.2 L451.4,1253.6 L451.6,1250.9 L451.8,1248.2 L452.0,1245.4 L452.1,1244.0 L452.2,1242.5 L452.3,1241.1 L452.4,1239.6 L452.5,1238.2 L452.6,1236.7 L452.7,1235.2 L452.8,1233.7 L452.9,1232.3 L453.0,1230.8 L453.1,1229.2 L453.2,1227.7 L453.3,1226.2 L453.4,1224.6 L453.5,1223.0 L453.6,1221.3 L453.7,1219.7 L453.8,1218.0 L453.9,1216.2 L454.0,1214.4 L454.1,1212.6 L454.2,1210.7 L454.3,1208.8 L454.4,1206.8 L454.5,1204.8 L454.6,1202.6 L454.7,1200.5 L454.8,1198.1 L454.9,1195.5 L455.0,1192.8 L455.1,1189.9 L455.2,1186.9 L455.3,1183.9 L455.4,1180.7 L455.5,1177.6 L455.6,1174.5 L455.7,1171.4 L455.8,1168.3 L455.9,1165.4 L456.0,1162.6 L456.1,1159.9 L456.2,1157.2 L456.3,1154.5 L456.4,1151.8 L456.5,1149.2 L456.6,1146.6 L456.7,1144.0 L456.8,1141.4 L456.9,1138.8 L457.0,1136.3 L457.1,1133.8 L457.2,1131.3 L457.3,1128.8 L457.4,1126.3 L457.5,1123.9 L457.6,1121.5 L457.7,1119.1 L457.8,1116.7 L457.9,1114.3 L458.0,1112.0 L458.1,1109.7 L458.2,1107.4 L458.3,1105.1 L458.4,1102.8 L458.5,1100.6 L458.6,1098.3 L458.7,1096.1 L458.8,1093.8 L458.9,1091.6 L459.0,1089.4 L459.1,1087.2 L459.2,1084.9 L459.3,1082.7 L459.4,1080.5 L459.5,1078.2 L459.6,1076.0 L459.7,1073.7 L459.8,1071.5 L459.9,1069.3 L460.0,1067.1 L460.1,1064.9 L460.2,1062.8 L460.3,1060.7 L460.4,1058.7 L460.5,1056.8 L460.6,1054.8 L460.7,1052.9 L460.8,1051.1 L460.9,1049.2 L461.0,1047.4 L461.1,1045.6 L461.2,1043.8 L461.3,1042.0 L461.4,1040.3 L461.5,1038.6 L461.6,1037.0 L461.7,1035.4 L461.8,1033.8 L461.9,1032.2 L462.0,1030.8 L462.1,1029.3 L462.2,1027.8 L462.3,1026.3 L462.4,1024.7 L462.5,1023.1 L462.6,1021.4 L462.7,1019.8 L462.8,1018.3 L462.9,1016.8 L463.0,1015.4 L463.2,1012.9 L463.4,1011.2 L463.7,1010.2 L464.1,1011.8 L464.3,1013.6 L464.5,1015.8 L464.7,1018.3 L464.9,1021.1 L465.0,1022.5 L465.1,1024.0 L465.2,1025.4 L465.3,1026.8 L465.5,1029.6 L465.7,1032.4 L465.8,1033.9 L465.9,1035.4 L466.0,1037.1 L466.1,1038.7 L466.2,1040.5 L466.3,1042.2 L466.4,1044.0 L466.5,1045.9 L466.6,1047.7 L466.7,1049.6 L466.8,1051.5 L466.9,1053.4 L467.0,1055.3 L467.1,1057.3 L467.2,1059.2 L467.3,1061.2 L467.4,1063.1 L467.5,1065.1 L467.6,1067.1 L467.7,1069.1 L467.8,1071.2 L467.9,1073.3 L468.0,1075.4 L468.1,1077.5 L468.2,1079.7 L468.3,1081.9 L468.4,1084.1 L468.5,1086.3 L468.6,1088.6 L468.7,1090.9 L468.8,1093.2 L468.9,1095.5 L469.0,1097.9 L469.1,1100.3 L469.2,1102.8 L469.3,1105.4 L469.4,1107.9 L469.5,1110.5 L469.6,1113.2 L469.7,1115.8 L469.8,1118.4 L469.9,1121.1 L470.0,1123.7 L470.1,1126.4 L470.2,1129.0 L470.3,1131.6 L470.4,1134.2 L470.5,1136.7 L470.6,1139.3 L470.7,1141.9 L470.8,1144.5 L470.9,1147.1 L471.0,1149.7 L471.1,1152.4 L471.2,1155.0 L471.3,1157.6 L471.4,1160.2 L471.5,1162.8 L471.6,1165.3 L471.7,1167.8 L471.8,1170.2 L471.9,1172.6 L472.0,1175.0 L472.1,1177.2 L472.2,1179.4 L472.3,1181.5 L472.4,1183.6 L472.5,1185.6 L472.6,1187.6 L472.7,1189.6 L472.8,1191.5 L472.9,1193.4 L473.0,1195.3 L473.1,1197.1 L473.2,1199.0 L473.3,1200.7 L473.4,1202.5 L473.5,1204.3 L473.6,1206.0 L473.7,1207.7 L473.8,1209.4 L473.9,1211.1 L474.0,1212.8 L474.1,1214.4 L474.2,1216.1 L474.3,1217.7 L474.4,1219.4 L474.5,1221.0 L474.6,1222.7 L474.7,1224.3 L474.8,1225.9 L474.9,1227.6 L475.0,1229.2 L475.1,1230.8 L475.2,1232.4 L475.3,1234.0 L475.4,1235.6 L475.5,1237.2 L475.6,1238.7 L475.7,1240.3 L475.8,1241.8 L475.9,1243.3 L476.0,1244.8 L476.1,1246.2 L476.2,1247.6 L476.4,1250.4 L476.6,1253.0 L476.8,1255.5 L477.0,1257.8 L477.2,1260.1 L477.4,1262.3 L477.6,1264.5 L477.8,1266.6 L478.0,1268.6 L478.2,1270.5 L478.4,1272.5 L478.6,1274.3 L478.8,1276.2 L479.0,1278.0 L479.2,1279.8 L479.4,1281.5 L479.6,1283.3 L479.8,1285.0 L480.0,1286.8 L480.2,1288.5 L480.4,1290.3 L480.6,1292.0 L480.8,1293.7 L481.0,1295.3 L481.2,1296.9 L481.4,1298.4 L481.6,1299.9 L481.9,1301.9 L482.2,1303.7 L482.5,1305.2 L482.8,1306.7 L483.2,1308.4 L483.6,1310.1 L484.0,1311.7 L484.4,1313.1 L484.8,1314.5 L485.3,1316.1 L485.8,1317.6 L486.3,1319.0 L486.8,1320.3 L487.4,1321.8 L488.0,1323.2 L488.7,1324.6 L489.4,1326.0 L490.1,1327.3 L490.8,1328.5 L491.5,1329.8 L492.2,1331.0 L492.9,1332.3 L493.6,1333.5 L494.4,1334.9 L495.2,1336.2 L496.0,1337.4 L496.9,1338.5 L497.9,1339.6 L498.9,1340.7 L499.9,1341.7 L501.0,1342.6 L502.3,1343.2 L502.8,1343.2 L504.2,1343.1 L505.6,1342.9 L507.0,1342.5 L508.4,1342.1 L509.7,1341.3 L510.7,1340.3 L511.6,1339.2 L512.4,1338.0 L513.2,1336.8 L514.0,1335.4 L514.7,1333.9 L515.3,1332.4 L515.8,1330.9 L516.3,1329.3 L516.7,1327.8 L517.1,1326.4 L517.5,1324.8 L517.9,1323.3 L518.3,1321.7 L518.7,1320.0 L519.1,1318.3 L519.5,1316.5 L519.8,1315.0 L520.1,1313.5 L520.4,1311.9 L520.7,1310.3 L521.0,1308.5 L521.3,1306.7 L521.6,1304.8 L521.9,1302.8 L522.1,1301.4 L522.3,1300.0 L522.5,1298.4 L522.7,1296.8 L522.9,1295.0 L523.1,1293.3 L523.3,1291.4 L523.5,1289.5 L523.7,1287.6 L523.9,1285.6 L524.1,1283.5 L524.3,1281.4 L524.5,1279.3 L524.7,1277.1 L524.9,1274.9 L525.1,1272.6 L525.3,1270.3 L525.5,1267.8 L525.7,1265.3 L525.9,1262.7 L526.1,1260.1 L526.3,1257.3 L526.4,1255.9 L526.5,1254.4 L526.6,1253.0 L526.7,1251.5 L526.8,1250.0 L526.9,1248.4 L527.0,1246.9 L527.1,1245.3 L527.2,1243.6 L527.3,1241.9 L527.4,1240.2 L527.5,1238.4 L527.6,1236.6 L527.7,1234.8 L527.8,1232.9 L527.9,1231.0 L528.0,1229.0 L528.1,1227.1 L528.2,1225.1 L528.3,1223.0 L528.4,1221.0 L528.5,1218.9 L528.6,1216.8 L528.7,1214.7 L528.8,1212.6 L528.9,1210.4 L529.0,1208.1 L529.1,1205.8 L529.2,1203.4 L529.3,1201.0 L529.4,1198.5 L529.5,1196.1 L529.6,1193.6 L529.7,1191.0 L529.8,1188.5 L529.9,1186.0 L530.0,1183.4 L530.1,1180.9 L530.2,1178.4 L530.3,1175.9 L530.4,1173.4 L530.5,1170.9 L530.6,1168.4 L530.7,1165.9 L530.8,1163.4 L530.9,1160.9 L531.0,1158.4 L531.1,1155.9 L531.2,1153.3 L531.3,1150.7 L531.4,1148.1 L531.5,1145.5 L531.6,1142.9 L531.7,1140.2 L531.8,1137.4 L531.9,1134.7 L532.0,1131.8 L532.1,1128.8 L532.2,1125.7 L532.3,1122.6 L532.4,1119.4 L532.5,1116.3 L532.6,1113.1 L532.7,1109.9 L532.8,1106.8 L532.9,1103.8 L533.0,1100.9 L533.1,1098.1 L533.2,1095.5 L533.3,1093.0 L533.4,1090.5 L533.5,1088.2 L533.6,1085.8 L533.7,1083.5 L533.8,1081.3 L533.9,1079.1 L534.0,1076.9 L534.1,1074.8 L534.2,1072.7 L534.3,1070.6 L534.4,1068.6 L534.5,1066.6 L534.6,1064.6 L534.7,1062.7 L534.8,1060.8 L534.9,1058.9 L535.0,1057.0 L535.1,1055.2 L535.2,1053.3 L535.3,1051.4 L535.4,1049.6 L535.5,1047.7 L535.6,1045.8 L535.7,1043.9 L535.8,1042.1 L535.9,1040.3 L536.0,1038.6 L536.1,1036.9 L536.2,1035.3 L536.3,1033.8 L536.4,1032.3 L536.6,1029.7 L536.8,1027.5 L537.0,1025.6 L537.2,1023.7 L537.4,1021.9 L537.6,1020.2 L537.8,1018.7 L538.1,1016.9 L538.5,1015.5 L538.6,1015.4 L539.1,1017.1 L539.3,1018.9 L539.5,1021.0 L539.7,1023.5 L539.9,1026.2 L540.1,1029.0 L540.2,1030.4 L540.4,1033.2 L540.6,1035.9 L540.7,1037.4 L540.8,1039.0 L540.9,1040.6 L541.0,1042.3 L541.1,1044.1 L541.2,1045.9 L541.3,1047.8 L541.4,1049.8 L541.5,1051.7 L541.6,1053.8 L541.7,1055.8 L541.8,1057.9 L541.9,1060.0 L542.0,1062.2 L542.1,1064.3 L542.2,1066.5 L542.3,1068.7 L542.4,1070.9 L542.5,1073.2 L542.6,1075.6 L542.7,1078.1 L542.8,1080.6 L542.9,1083.1 L543.0,1085.7 L543.1,1088.4 L543.2,1091.0 L543.3,1093.7 L543.4,1096.4 L543.5,1099.2 L543.6,1101.9 L543.7,1104.6 L543.8,1107.3 L543.9,1110.1 L544.0,1112.8 L544.1,1115.6 L544.2,1118.3 L544.3,1121.2 L544.4,1124.0 L544.5,1126.8 L544.6,1129.7 L544.7,1132.6 L544.8,1135.5 L544.9,1138.4 L545.0,1141.3 L545.1,1144.2 L545.2,1147.1 L545.3,1150.1 L545.4,1153.0 L545.5,1155.9 L545.6,1158.9 L545.7,1161.9 L545.8,1165.0 L545.9,1168.0 L546.0,1171.1 L546.1,1174.1 L546.2,1177.2 L546.3,1180.2 L546.4,1183.3 L546.5,1186.2 L546.6,1189.2 L546.7,1192.1 L546.8,1194.9 L546.9,1197.8 L547.0,1200.6 L547.1,1203.4 L547.2,1206.3 L547.3,1209.1 L547.4,1211.9 L547.5,1214.6 L547.6,1217.3 L547.7,1219.9 L547.8,1222.5 L547.9,1225.0 L548.0,1227.4 L548.1,1229.7 L548.2,1231.9 L548.3,1234.0 L548.4,1236.1 L548.5,1238.2 L548.6,1240.2 L548.7,1242.1 L548.8,1244.0 L548.9,1245.9 L549.0,1247.8 L549.1,1249.6 L549.2,1251.4 L549.3,1253.1 L549.4,1254.9 L549.5,1256.6 L549.6,1258.4 L549.7,1260.1 L549.8,1261.8 L549.9,1263.6 L550.0,1265.3 L550.1,1267.1 L550.2,1268.8 L550.3,1270.6 L550.4,1272.3 L550.5,1274.1 L550.6,1275.8 L550.7,1277.6 L550.8,1279.3 L550.9,1280.9 L551.0,1282.6 L551.1,1284.2 L551.2,1285.8 L551.3,1287.3 L551.4,1288.8 L551.5,1290.3 L551.7,1293.0 L551.9,1295.6 L552.1,1298.1 L552.3,1300.7 L552.5,1303.2 L552.7,1305.7 L552.9,1308.2 L553.1,1310.6 L553.3,1312.9 L553.5,1315.1 L553.7,1317.3 L553.9,1319.3 L554.1,1321.3 L554.3,1323.0 L554.5,1324.7 L554.7,1326.2 L555.0,1328.1 L555.3,1329.6 L555.7,1331.1 L556.1,1332.5 L556.6,1334.0 L557.2,1335.5 L557.8,1336.8 L558.5,1338.2 L559.2,1339.6 L559.8,1340.9 L560.4,1342.3 L561.0,1343.7 L561.6,1345.1 L562.2,1346.5 L562.8,1347.8 L563.4,1349.1 L564.1,1350.6 L564.8,1352.0 L565.5,1353.5 L566.2,1354.9 L566.9,1356.3 L567.6,1357.6 L568.3,1358.8 L569.1,1360.1 L570.0,1361.3 L571.0,1362.4 L572.0,1363.4 L573.1,1364.4 L574.2,1365.3 L575.4,1366.2 L576.7,1366.9 L578.0,1367.5 L579.3,1368.1 L580.7,1368.7 L582.1,1369.0 L583.5,1369.2 L584.9,1369.2 L586.4,1369.2 L587.9,1369.2 L589.4,1369.2 L590.8,1369.2 L592.2,1368.8 L593.5,1368.2 L594.8,1367.6 L596.1,1367.0 L597.4,1366.4 L598.7,1365.7 L600.1,1365.4 L600.5,1365.4 L601.9,1365.7 L603.1,1366.5 L604.2,1367.4 L605.3,1368.4 L606.4,1369.4 L607.4,1370.6 L608.3,1371.8 L609.2,1372.9 L610.2,1374.0 L611.4,1374.9 L612.7,1375.6 L614.0,1376.2 L615.3,1376.7 L616.7,1377.3 L618.1,1377.8 L619.5,1378.3 L620.9,1378.8 L622.3,1379.2 L623.7,1379.7 L625.1,1380.1 L626.5,1380.5 L627.9,1380.9 L629.3,1381.3 L630.7,1381.7 L632.1,1382.1 L633.5,1382.4 L634.9,1382.7 L636.3,1382.9 L637.7,1383.0 L639.1,1383.2 L640.5,1383.3 L641.9,1383.4 L643.3,1383.5 L644.7,1383.6 L646.1,1383.8 L647.5,1384.0 L648.9,1384.2 L650.3,1384.5 L651.7,1384.8 L653.1,1385.1 L654.5,1385.3 L655.9,1385.5 L657.3,1385.7 L658.7,1385.7 L660.2,1385.7 L661.7,1385.7 L663.2,1385.7 L664.7,1385.7 L666.2,1385.7 L667.7,1385.7 L669.2,1385.7 L670.6,1385.7 L672.0,1385.6 L673.4,1385.6 L674.8,1385.5 L676.2,1385.4 L677.6,1385.3 L679.0,1385.1 L680.4,1385.0 L681.8,1384.9 L683.2,1384.7 L684.6,1384.6 L686.0,1384.4 L687.4,1384.2 L688.8,1384.0 L690.2,1383.8 L691.6,1383.6 L693.0,1383.4 L694.4,1383.1 L695.8,1382.9 L697.2,1382.8 L698.6,1382.7 L698.7,1382.7 L700.1,1382.8 L701.5,1383.0 L702.9,1383.2 L704.3,1383.5 L705.7,1383.7 L707.1,1383.9 L707.7,1383.9 L709.1,1383.8 L710.5,1383.5 L711.9,1383.0 L713.3,1382.6 L714.7,1382.1 L716.1,1381.8 L717.5,1381.6 L717.9,1381.6 L719.3,1381.8 L720.7,1382.2 L722.0,1382.8 L723.3,1383.4 L724.6,1383.9 L726.0,1384.4 L727.4,1384.7 L728.8,1385.0 L730.2,1385.3 L731.6,1385.6 L733.0,1385.9 L734.4,1386.1 L735.8,1386.4 L737.2,1386.6 L738.6,1386.9 L740.0,1387.1 L741.4,1387.4 L742.8,1387.7 L744.2,1387.9 L745.6,1388.1 L747.0,1388.3 L748.4,1388.4 L749.8,1388.5 L751.2,1388.5 L752.6,1388.6 L754.0,1388.6 L755.4,1388.7 L756.8,1388.7 L758.2,1388.8 L759.6,1388.8 L761.0,1389.0 L762.4,1389.1 L763.8,1389.3 L765.2,1389.6 L766.6,1389.8 L768.0,1390.0 L769.4,1390.1 L770.8,1390.2 L771.0,1390.2 L772.4,1390.2 L773.8,1390.1 L775.2,1390.0 L776.6,1389.9 L778.0,1389.7 L779.4,1389.6 L780.8,1389.5 L782.2,1389.5 L782.3,1389.5 L783.7,1389.5 L785.1,1389.6 L786.5,1389.7 L787.9,1389.8 L789.3,1389.9 L790.7,1390.0 L792.1,1390.1 L793.5,1390.2 L794.9,1390.3 L796.3,1390.3 L797.7,1390.4 L799.1,1390.4 L800.5,1390.5 L801.9,1390.5 L803.3,1390.6 L804.7,1390.6 L806.1,1390.7 L807.5,1390.8 L808.9,1390.8 L810.3,1390.9 L811.7,1391.0 L813.1,1391.0 L814.5,1391.1 L815.9,1391.1 L817.3,1391.1 L818.8,1391.1 L820.3,1391.1 L821.8,1391.1 L823.3,1391.1 L824.8,1391.1 L826.3,1391.1 L827.7,1391.1 L829.1,1391.0 L830.5,1390.9 L831.9,1390.8 L833.3,1390.6 L834.7,1390.5 L836.1,1390.3 L837.5,1390.2 L838.7,1390.2 L840.1,1390.2 L841.5,1390.3 L842.9,1390.4 L844.3,1390.4 L845.7,1390.5 L847.1,1390.6 L848.5,1390.6 L849.0,1390.6 L850.4,1390.4 L851.7,1389.9 L853.0,1389.1 L854.2,1388.3 L855.4,1387.5 L856.7,1386.8 L858.1,1386.3 L859.2,1386.1 L860.6,1386.4 L861.9,1387.0 L863.1,1387.8 L864.3,1388.5 L865.6,1389.2 L867.0,1389.5 L867.1,1389.5 L868.5,1389.5 L869.9,1389.3 L871.3,1389.1 L872.7,1388.8 L874.1,1388.6 L875.5,1388.4 L876.9,1388.3 L878.3,1388.2 L879.7,1388.1 L881.1,1388.1 L882.5,1388.0 L883.9,1387.9 L885.3,1387.9 L886.8,1387.9 L888.3,1387.9 L889.8,1387.9 L891.3,1387.9 L892.8,1387.9 L894.2,1387.9 L895.6,1388.1 L897.0,1388.4 L898.4,1388.9 L899.8,1389.4 L901.2,1389.8 L902.6,1390.1 L904.0,1390.3 L905.4,1390.3 L906.8,1390.4 L908.2,1390.4 L909.6,1390.5 L911.0,1390.6 L912.4,1390.7 L913.8,1390.8 L915.2,1391.0 L916.6,1391.3 L918.0,1391.5 L919.4,1391.7 L920.8,1391.8 L921.3,1391.8 L922.7,1391.7 L924.1,1391.5 L925.5,1391.3 L926.9,1391.0 L928.3,1390.8 L929.7,1390.7 L930.3,1390.6 L931.7,1390.7 L933.1,1390.7 L934.5,1390.7 L935.9,1390.8 L937.3,1390.9 L938.7,1390.9 L940.1,1391.0 L941.5,1391.1 L942.9,1391.2 L944.3,1391.4 L945.7,1391.6 L947.1,1391.8 L948.5,1392.1 L949.9,1392.3 L951.3,1392.4 L952.7,1392.5 L952.9,1392.5 L954.3,1392.4 L955.7,1392.3 L957.1,1392.2 L958.5,1392.1 L959.9,1392.0 L961.3,1391.9 L962.7,1391.8 L964.1,1391.8 L964.2,1391.8 L965.6,1391.8 L967.0,1391.9 L968.4,1392.0 L969.8,1392.1 L971.2,1392.2 L972.6,1392.3 L974.0,1392.4 L975.4,1392.5 L975.5,1392.5 L976.9,1392.4 L978.3,1392.3 L979.7,1392.1 L981.1,1391.8 L982.5,1391.6 L983.9,1391.3 L985.3,1391.0 L986.7,1390.7 L988.1,1390.3 L989.5,1389.8 L990.9,1389.3 L992.2,1388.7 L993.6,1388.2 L995.0,1387.7 L996.4,1387.4 L997.8,1387.3 L998.1,1387.3 L999.5,1387.3 L1000.9,1387.4 L1002.3,1387.6 L1003.7,1387.8 L1005.1,1388.0 L1006.5,1388.3 L1007.9,1388.6 L1009.3,1389.1 L1010.6,1389.8 L1011.9,1390.4 L1013.2,1391.1 L1014.6,1391.6 L1016.0,1391.8 L1017.4,1391.8 L1018.9,1391.8 L1020.4,1391.8 L1021.9,1391.8 L1023.4,1391.8 L1024.8,1391.8 L1026.3,1391.8 L1027.7,1391.8 L1029.1,1391.7 L1030.5,1391.6 L1031.9,1391.4 L1033.3,1391.2 L1034.7,1390.9 L1036.1,1390.7 L1037.5,1390.4 L1038.9,1390.2 L1040.3,1389.9 L1041.7,1389.7 L1043.1,1389.4 L1044.5,1389.1 L1045.9,1388.8 L1047.3,1388.5 L1048.7,1388.1 L1050.0,1387.5 L1051.3,1386.9 L1052.6,1386.2 L1053.9,1385.6 L1055.3,1385.2 L1056.7,1385.0 L1056.8,1385.0 L1058.2,1385.1 L1059.6,1385.3 L1061.0,1385.5 L1062.4,1385.8 L1063.8,1386.0 L1065.2,1386.1 L1065.8,1386.1 L1067.2,1386.0 L1068.6,1385.8 L1070.0,1385.5 L1071.4,1385.2 L1072.8,1385.0 L1073.7,1385.0 L1075.1,1385.2 L1076.4,1385.8 L1077.7,1386.5 L1079.0,1387.2 L1080.3,1387.7 L1081.6,1387.9 L1083.0,1387.7 L1084.4,1387.3 L1085.8,1386.7 L1087.2,1386.3 L1088.6,1386.1 L1090.0,1386.1 L1091.5,1386.1 L1093.0,1386.1 L1094.5,1386.1 L1096.0,1386.1 L1097.4,1386.1 L1098.8,1386.1 L1100.2,1385.9 L1101.6,1385.6 L1103.0,1385.4 L1104.4,1385.1 L1105.8,1385.0 L1106.4,1385.0 L1107.8,1385.1 L1109.2,1385.4 L1110.6,1385.8 L1112.0,1386.0 L1113.2,1386.1 L1114.6,1385.9 L1115.9,1385.2 L1117.1,1384.5 L1118.3,1383.7 L1119.6,1382.9 L1120.9,1382.4 L1122.2,1381.8 L1123.5,1381.2 L1124.9,1380.8 L1126.3,1380.5 L1127.7,1380.5 L1129.2,1380.5 L1130.7,1380.5 L1132.1,1380.5 L1133.2,1379.8 L1133.9,1378.3 L1134.4,1377.0 L1134.9,1375.7 L1135.5,1374.3 L1136.3,1373.0 L1137.2,1371.9 L1138.2,1370.8 L1139.2,1369.8 L1140.2,1368.7 L1141.1,1367.5 L1141.9,1366.2 L1142.6,1364.9 L1143.3,1363.4 L1143.9,1362.0 L1144.5,1360.6 L1145.1,1359.1 L1145.6,1357.8 L1146.1,1356.4 L1146.6,1354.9 L1147.1,1353.2 L1147.5,1351.8 L1147.9,1350.4 L1148.3,1349.0 L1148.7,1347.6 L1149.2,1346.0 L1149.7,1344.4 L1150.2,1342.8 L1150.7,1341.2 L1151.2,1339.7 L1151.7,1338.3 L1152.3,1337.1 L1153.2,1336.0 L1154.3,1335.0 L1155.5,1334.1 L1156.8,1333.4 L1158.2,1333.1 L1159.6,1333.1 L1160.8,1332.5 L1161.5,1331.1 L1162.0,1329.8 L1162.5,1328.2 L1162.9,1326.9 L1163.3,1325.5 L1163.7,1323.9 L1164.0,1322.3 L1164.3,1320.5 L1164.6,1318.5 L1164.8,1317.0 L1165.0,1315.5 L1165.2,1313.9 L1165.4,1312.3 L1165.6,1310.7 L1165.8,1309.1 L1166.0,1307.4 L1166.2,1305.8 L1166.4,1304.2 L1166.6,1302.6 L1166.8,1300.9 L1167.0,1299.2 L1167.2,1297.4 L1167.4,1295.6 L1167.6,1293.8 L1167.8,1291.9 L1168.0,1290.0 L1168.2,1288.1 L1168.4,1286.2 L1168.6,1284.3 L1168.8,1282.4 L1169.0,1280.4 L1169.2,1278.4 L1169.4,1276.3 L1169.6,1274.3 L1169.8,1272.2 L1170.0,1270.2 L1170.2,1268.1 L1170.4,1266.1 L1170.6,1264.2 L1170.8,1262.3 L1171.0,1260.4 L1171.2,1258.4 L1171.4,1256.4 L1171.6,1254.4 L1171.8,1252.5 L1172.0,1250.9 L1172.3,1248.9 L1172.7,1247.3 L1173.1,1245.9 L1173.6,1244.6 L1174.2,1243.9 L1174.9,1245.3 L1175.2,1246.7 L1175.5,1248.4 L1175.8,1250.3 L1176.1,1252.3 L1176.4,1254.3 L1176.7,1256.1 L1177.0,1257.8 L1177.3,1259.3 L1177.6,1260.8 L1177.9,1262.3 L1178.2,1263.8 L1178.5,1265.3 L1178.8,1266.9 L1179.1,1268.6 L1179.4,1270.3 L1179.7,1272.1 L1180.0,1274.1 L1180.2,1275.6 L1180.4,1277.2 L1180.6,1278.9 L1180.8,1280.7 L1181.0,1282.6 L1181.2,1284.4 L1181.4,1286.3 L1181.6,1288.1 L1181.8,1289.9 L1182.0,1291.6 L1182.2,1293.2 L1182.4,1294.6 L1182.7,1296.5 L1183.0,1298.2 L1183.3,1299.8 L1183.6,1301.3 L1183.9,1302.8 L1184.3,1304.6 L1184.7,1306.3 L1185.1,1308.0 L1185.5,1309.6 L1185.9,1311.3 L1186.3,1313.1 L1186.7,1314.8 L1187.1,1316.6 L1187.5,1318.4 L1187.9,1320.1 L1188.3,1321.7 L1188.7,1323.1 L1189.2,1324.7 L1189.7,1326.1 L1190.2,1327.5 L1190.7,1328.9 L1191.2,1330.2 L1191.8,1331.6 L1192.5,1333.0 L1193.5,1334.1 L1193.9,1334.2 L1194.8,1333.1 L1195.4,1331.6 L1195.9,1330.0 L1196.3,1328.5 L1196.7,1327.1 L1197.1,1325.7 L1197.5,1324.2 L1197.8,1322.8 L1198.1,1321.3 L1198.4,1319.6 L1198.7,1317.9 L1199.0,1316.4 L1199.4,1314.8 L1200.0,1313.9 L1200.5,1315.5 L1200.8,1317.4 L1201.0,1318.9 L1201.2,1320.6 L1201.4,1322.2 L1201.6,1323.7 L1201.9,1325.7 L1202.3,1327.3 L1202.5,1327.4 L1203.8,1326.7 L1204.8,1325.6 L1205.7,1324.3 L1206.3,1322.8 L1206.9,1321.3 L1207.5,1320.0 L1208.5,1319.0 L1209.8,1318.4 L1211.1,1317.6 L1212.0,1316.5 L1212.6,1315.0 L1213.1,1313.4 L1213.5,1311.9 L1213.9,1310.3 L1214.3,1308.6 L1214.7,1306.9 L1215.0,1305.4 L1215.3,1303.7 L1215.6,1301.9 L1215.9,1300.0 L1216.1,1298.6 L1216.3,1297.1 L1216.5,1295.6 L1216.7,1294.1 L1216.9,1292.5 L1217.1,1290.8 L1217.3,1289.2 L1217.5,1287.5 L1217.7,1285.7 L1217.9,1283.9 L1218.1,1281.9 L1218.3,1279.8 L1218.5,1277.6 L1218.7,1275.4 L1218.9,1273.1 L1219.1,1270.8 L1219.3,1268.4 L1219.5,1266.0 L1219.7,1263.6 L1219.9,1261.2 L1220.1,1258.8 L1220.3,1256.3 L1220.5,1253.8 L1220.7,1251.2 L1220.9,1248.6 L1221.1,1246.0 L1221.3,1243.3 L1221.5,1240.6 L1221.7,1237.9 L1221.9,1235.2 L1222.1,1232.5 L1222.3,1229.8 L1222.4,1228.4 L1222.5,1227.0 L1222.6,1225.5 L1222.7,1224.1 L1222.8,1222.7 L1222.9,1221.2 L1223.0,1219.7 L1223.1,1218.3 L1223.2,1216.8 L1223.3,1215.4 L1223.4,1213.9 L1223.5,1212.5 L1223.6,1211.1 L1223.7,1209.7 L1223.9,1206.9 L1224.1,1204.2 L1224.3,1201.6 L1224.5,1199.2 L1224.7,1196.7 L1224.9,1194.1 L1225.1,1191.6 L1225.3,1189.2 L1225.5,1186.8 L1225.7,1184.5 L1225.9,1182.4 L1226.1,1180.4 L1226.3,1178.6 L1226.5,1176.9 L1226.7,1175.5 L1227.0,1173.6 L1227.3,1171.7 L1227.6,1170.1 L1227.9,1168.5 L1228.3,1166.8 L1228.7,1165.3 L1229.2,1163.9 L1229.9,1162.6 L1230.0,1162.6 L1230.6,1164.0 L1230.9,1165.5 L1231.2,1167.3 L1231.5,1169.4 L1231.7,1170.9 L1231.9,1172.3 L1232.1,1174.1 L1232.3,1176.3 L1232.5,1178.7 L1232.7,1181.4 L1232.8,1182.8 L1232.9,1184.3 L1233.0,1185.7 L1233.1,1187.2 L1233.2,1188.7 L1233.3,1190.2 L1233.4,1191.7 L1233.5,1193.2 L1233.6,1194.6 L1233.7,1196.1 L1233.8,1197.5 L1234.0,1200.2 L1234.2,1202.6 L1234.4,1205.1 L1234.6,1207.4 L1234.8,1209.7 L1235.0,1212.0 L1235.2,1214.3 L1235.4,1216.7 L1235.6,1219.0 L1235.8,1221.4 L1236.0,1223.9 L1236.2,1226.5 L1236.4,1229.1 L1236.6,1231.9 L1236.7,1233.3 L1236.8,1234.8 L1236.9,1236.3 L1237.0,1237.8 L1237.1,1239.4 L1237.2,1240.9 L1237.3,1242.5 L1237.4,1244.0 L1237.5,1245.6 L1237.6,1247.2 L1237.7,1248.7 L1237.8,1250.3 L1237.9,1251.8 L1238.0,1253.4 L1238.1,1254.9 L1238.2,1256.4 L1238.3,1257.9 L1238.4,1259.4 L1238.5,1260.8 L1238.6,1262.2 L1238.8,1265.0 L1239.0,1267.8 L1239.2,1270.5 L1239.4,1273.2 L1239.6,1275.9 L1239.8,1278.5 L1240.0,1281.1 L1240.2,1283.7 L1240.4,1286.1 L1240.6,1288.5 L1240.8,1290.9 L1241.0,1293.1 L1241.2,1295.3 L1241.4,1297.5 L1241.6,1299.6 L1241.8,1301.7 L1242.0,1303.8 L1242.2,1305.8 L1242.4,1307.7 L1242.6,1309.5 L1242.8,1311.3 L1243.0,1313.1 L1243.2,1314.7 L1243.4,1316.3 L1243.6,1317.9 L1243.8,1319.4 L1244.0,1320.8 L1244.2,1322.3 L1244.5,1324.3 L1244.8,1326.3 L1245.1,1328.1 L1245.4,1329.9 L1245.7,1331.7 L1246.0,1333.4 L1246.3,1335.1 L1246.6,1336.7 L1246.9,1338.3 L1247.2,1339.8 L1247.5,1341.2 L1247.9,1343.0 L1248.3,1344.7 L1248.7,1346.1 L1249.1,1347.5 L1249.6,1349.2 L1250.1,1350.7 L1250.6,1352.1 L1251.1,1353.5 L1251.7,1354.9 L1252.3,1356.2 L1253.0,1357.6 L1253.7,1358.8 L1254.5,1360.2 L1255.3,1361.4 L1256.2,1362.6 L1257.2,1363.8 L1258.3,1364.7 L1259.5,1365.6 L1260.7,1366.3 L1262.0,1367.0 L1263.4,1367.5 L1264.8,1367.8 L1266.2,1368.0 L1267.6,1368.1 L1269.0,1368.3 L1270.4,1368.5 L1271.8,1368.8 L1273.2,1369.3 L1274.6,1369.8 L1276.0,1370.2 L1277.4,1370.3 L1278.8,1370.1 L1280.1,1369.6 L1281.4,1368.9 L1282.7,1368.2 L1284.0,1367.7 L1285.4,1367.3 L1286.8,1367.0 L1288.2,1366.8 L1289.6,1366.5 L1291.0,1366.3 L1292.4,1366.0 L1293.8,1365.7 L1295.2,1365.2 L1296.6,1364.8 L1298.0,1364.2 L1299.3,1363.7 L1300.6,1363.2 L1301.9,1362.6 L1303.2,1362.0 L1304.5,1361.3 L1305.8,1360.5 L1307.0,1359.8 L1308.2,1359.0 L1309.4,1358.2 L1310.6,1357.3 L1311.8,1356.4 L1312.9,1355.4 L1314.0,1354.4 L1315.0,1353.4 L1316.0,1352.3 L1317.0,1351.2 L1318.0,1350.1 L1318.9,1349.0 L1319.8,1347.7 L1320.6,1346.5 L1321.4,1345.3 L1322.2,1344.2 L1323.1,1342.9 L1324.0,1341.8 L1325.0,1340.8 L1326.1,1339.9 L1327.3,1339.1 L1328.5,1338.4 L1329.8,1337.6 L1331.0,1336.8 L1332.2,1336.0 L1333.4,1335.2 L1334.6,1334.3 L1335.8,1333.4 L1337.0,1332.7 L1338.3,1332.0 L1339.6,1331.4 L1340.9,1330.8 L1342.2,1330.3 L1343.6,1329.9 L1345.0,1329.7 L1345.2,1329.7 L1346.6,1329.7 L1348.0,1329.9 L1349.4,1330.2 L1350.8,1330.5 L1352.2,1330.9 L1353.6,1331.3 L1354.9,1331.8 L1356.2,1332.5 L1357.4,1333.2 L1358.6,1334.1 L1359.6,1335.2 L1360.4,1336.6 L1361.1,1338.0 L1361.8,1339.4 L1362.5,1340.8 L1363.2,1342.1 L1364.0,1343.3 L1364.9,1344.5 L1365.8,1345.8 L1366.7,1347.0 L1367.6,1348.2 L1368.5,1349.5 L1369.3,1350.7 L1370.1,1351.9 L1370.9,1353.2 L1371.7,1354.6 L1372.5,1355.9 L1373.3,1357.2 L1374.1,1358.4 L1374.9,1359.6 L1375.7,1360.8 L1376.5,1361.9 L1377.4,1363.2 L1378.3,1364.5 L1379.2,1365.6 L1380.1,1366.7 L1381.1,1367.9 L1382.1,1368.9 L1383.2,1369.9 L1384.3,1370.9 L1385.4,1371.8 L1386.6,1372.7 L1387.8,1373.5 L1389.0,1374.3 L1390.2,1375.1 L1391.4,1375.8 L1392.7,1376.6 L1394.0,1377.3 L1395.3,1378.0 L1396.6,1378.7 L1397.9,1379.3 L1399.2,1379.9 L1400.5,1380.5 L1401.8,1381.0 L1403.1,1381.5 L1404.4,1382.1 L1405.8,1382.6 L1407.1,1383.1 L1408.4,1383.7 L1409.7,1384.2 L1411.1,1384.7 L1412.5,1385.2 L1413.9,1385.7 L1415.3,1386.2 L1416.7,1386.6 L1418.1,1387.0 L1419.5,1387.3 L1420.9,1387.7 L1422.3,1388.0 L1423.7,1388.3 L1425.1,1388.6 L1426.5,1388.8 L1427.9,1389.1 L1429.3,1389.4 L1430.7,1389.6 L1432.1,1389.8 L1433.5,1390.1 L1434.9,1390.3 L1436.3,1390.5 L1437.7,1390.6 L1439.1,1390.8 L1440.5,1391.0 L1441.9,1391.1 L1443.3,1391.2 L1444.7,1391.4 L1446.1,1391.5 L1447.5,1391.6 L1448.9,1391.8 L1450.3,1391.9 L1451.7,1392.1 L1453.1,1392.2 L1454.5,1392.4 L1455.9,1392.5 L1457.3,1392.7 L1458.7,1392.8 L1460.1,1392.9 L1461.5,1393.0 L1462.9,1393.0 L1464.3,1393.1 L1465.7,1393.1 L1467.1,1393.2 L1468.5,1393.2 L1469.9,1393.3 L1471.3,1393.3 L1472.7,1393.4 L1474.1,1393.6 L1475.5,1393.8 L1476.9,1394.1 L1478.3,1394.3 L1479.7,1394.5 L1481.1,1394.6 L1482.5,1394.7 L1483.9,1394.7 L1485.4,1394.7 L1486.9,1394.7 L1488.3,1394.7 L1489.8,1394.7 L1491.3,1394.7 L1492.8,1394.7 L1494.2,1394.7 L1495.6,1394.8 L1497.0,1394.9 L1498.4,1395.1 L1499.8,1395.2 L1501.3,1395.2 L1501.5,1395.2" fill="none" stroke="#000" stroke-width="2.8" stroke-linejoin="round" stroke-linecap="butt"/>
<path d="M161.5,1026.3 L162.9,1026.0 L164.3,1026.3 L165.7,1025.4 L167.1,1025.2 L168.5,1024.6 L169.9,1024.7 L171.3,1024.2 L172.7,1024.0 L174.1,1023.9 L175.5,1023.5 L176.6,1022.2 L177.5,1021.3 L178.3,1019.8 L179.1,1018.8 L179.7,1017.6 L180.2,1015.7 L180.6,1014.1 L181.0,1012.4 L181.4,1010.7 L181.8,1009.0 L182.2,1007.5 L182.7,1005.8 L183.2,1004.0 L183.7,1002.5 L184.2,1001.4 L184.9,1000.5 L185.3,1000.4 L186.5,1000.1 L187.3,1001.4 L188.0,1002.8 L188.6,1004.4 L189.0,1006.3 L189.3,1008.0 L189.6,1009.6 L189.9,1011.1 L190.2,1012.6 L190.5,1014.0 L190.9,1015.8 L191.4,1017.4 L192.4,1018.4 L193.6,1019.1 L194.9,1019.7 L196.3,1020.4 L197.7,1020.3 L199.1,1021.0 L200.5,1022.0 L201.9,1021.4 L203.3,1021.7 L204.7,1022.5 L206.1,1022.9 L207.5,1022.4 L208.9,1023.9 L210.3,1023.7 L211.7,1024.5 L213.1,1024.8 L214.5,1025.0 L216.0,1025.1 L217.5,1024.5 L219.0,1024.6 L220.5,1024.6 L222.0,1024.6 L223.5,1024.9 L225.0,1024.2 L226.4,1023.9 L227.8,1025.3 L229.2,1025.9 L230.6,1026.0 L232.0,1026.4 L233.4,1026.8 L234.5,1026.5 L235.8,1026.4 L236.9,1025.9 L238.0,1024.6 L239.2,1023.6 L240.5,1022.8 L241.8,1022.6 L243.2,1021.7 L244.6,1021.5 L245.3,1021.2 L246.7,1021.9 L248.0,1022.5 L249.3,1023.6 L250.6,1023.6 L252.0,1024.3 L253.4,1024.8 L254.8,1025.4 L256.2,1025.6 L257.6,1025.7 L258.2,1025.7 L259.6,1025.3 L260.9,1025.2 L262.2,1024.9 L263.6,1024.5 L265.0,1024.6 L266.4,1023.9 L267.8,1024.3 L269.2,1024.1 L270.6,1023.6 L272.0,1023.5 L273.4,1023.9 L274.8,1023.3 L276.2,1023.3 L277.6,1022.9 L279.0,1022.3 L279.7,1022.2 L281.1,1022.4 L282.5,1022.8 L283.9,1022.8 L285.3,1022.6 L286.7,1022.7 L288.1,1022.7 L288.7,1022.9 L290.1,1022.9 L291.4,1022.5 L292.7,1021.1 L294.1,1020.8 L294.4,1020.7 L295.8,1021.6 L297.2,1021.7 L298.6,1021.6 L298.9,1021.6 L300.3,1021.5 L301.5,1020.5 L302.6,1019.8 L303.8,1018.6 L305.1,1018.3 L306.5,1018.7 L307.9,1017.9 L309.3,1017.0 L310.4,1016.5 L311.4,1015.0 L312.2,1013.8 L313.0,1012.7 L313.7,1011.5 L314.3,1009.8 L314.8,1008.2 L315.2,1006.9 L315.6,1005.5 L316.0,1004.2 L316.5,1002.8 L317.1,1001.6 L317.8,1000.2 L318.6,998.6 L319.4,997.1 L320.4,996.1 L321.4,995.9 L322.5,996.1 L323.3,998.3 L324.0,999.7 L324.7,1000.8 L325.7,1002.0 L326.0,1002.2 L327.4,1002.1 L328.7,1001.2 L329.9,1000.3 L331.0,999.6 L332.0,998.3 L332.9,997.3 L333.5,996.4 L334.0,994.8 L334.4,993.3 L334.8,991.4 L335.2,989.4 L335.6,987.5 L336.0,986.0 L336.4,984.6 L336.7,983.2 L337.0,981.5 L337.3,979.8 L337.6,978.1 L337.9,976.7 L338.2,975.3 L338.5,973.8 L338.8,972.1 L339.1,970.3 L339.4,968.7 L339.7,966.9 L340.0,965.0 L340.3,963.1 L340.6,961.3 L340.9,959.5 L341.2,957.8 L341.5,956.2 L341.8,954.7 L342.1,953.2 L342.4,951.9 L342.8,950.1 L343.2,948.4 L343.6,946.8 L344.0,945.3 L344.4,943.9 L344.8,942.4 L345.3,940.8 L346.0,939.3 L346.3,939.0 L347.1,940.3 L347.6,942.0 L348.0,943.3 L348.3,944.4 L348.6,945.8 L348.9,947.6 L349.2,949.4 L349.5,951.2 L349.8,952.7 L350.1,954.4 L350.4,956.2 L350.7,958.1 L351.0,960.0 L351.2,961.3 L351.4,962.7 L351.6,964.1 L351.8,965.5 L352.0,966.9 L352.2,968.3 L352.4,969.7 L352.6,971.1 L352.8,972.6 L353.1,974.8 L353.4,977.0 L353.6,978.6 L353.8,980.2 L354.0,981.8 L354.2,983.4 L354.4,984.9 L354.7,986.8 L355.0,988.3 L355.4,989.6 L355.9,990.7 L356.5,991.7 L357.2,993.6 L358.0,994.6 L358.7,995.5 L359.4,997.5 L360.0,998.8 L360.6,1000.0 L361.2,1001.6 L361.9,1003.0 L362.6,1003.9 L363.5,1005.8 L364.5,1006.5 L365.6,1006.8 L366.7,1007.8 L367.9,1009.3 L369.2,1010.0 L370.6,1010.4 L372.0,1011.0 L373.4,1011.4 L374.8,1011.6 L376.2,1011.9 L376.8,1012.2 L378.2,1011.5 L379.6,1012.1 L381.0,1011.0 L382.4,1010.1 L383.6,1010.9 L385.0,1010.7 L386.4,1010.3 L387.8,1011.2 L389.2,1010.9 L390.5,1011.5 L391.6,1010.3 L392.7,1009.0 L394.1,1008.5 L395.6,1007.7 L397.1,1008.2 L398.6,1007.9 L400.0,1008.1 L401.2,1007.5 L402.2,1006.3 L403.1,1005.3 L404.0,1003.9 L404.9,1002.5 L405.9,1001.3 L406.9,1000.4 L407.9,999.8 L408.9,998.8 L409.9,997.6 L410.8,996.4 L411.6,994.7 L412.3,993.7 L413.0,992.2 L413.6,990.7 L414.2,989.1 L414.7,987.9 L415.2,987.0 L415.7,985.8 L416.2,984.2 L416.7,982.5 L417.2,980.8 L417.7,979.1 L418.2,977.5 L418.7,975.9 L419.1,974.6 L419.5,973.2 L419.9,971.5 L420.3,969.6 L420.7,967.9 L421.0,966.6 L421.3,965.3 L421.6,963.8 L421.9,961.9 L422.2,959.9 L422.5,957.8 L422.8,955.9 L423.0,954.5 L423.2,953.1 L423.4,951.7 L423.6,950.1 L423.8,948.4 L424.0,946.6 L424.2,944.8 L424.4,943.0 L424.6,941.3 L424.8,939.5 L425.0,937.7 L425.2,935.7 L425.4,933.5 L425.6,930.9 L425.8,928.0 L425.9,926.4 L426.0,924.7 L426.1,922.8 L426.2,920.9 L426.3,918.8 L426.4,916.6 L426.5,914.0 L426.6,909.7 L426.7,904.1 L426.8,897.9 L426.9,891.6 L427.0,886.0 L427.1,881.6 L427.2,878.2 L427.3,875.0 L427.4,872.1 L427.5,869.3 L427.6,866.8 L427.7,864.4 L427.8,862.1 L427.9,859.9 L428.0,857.8 L428.1,855.7 L428.2,853.7 L428.3,851.6 L428.4,849.4 L428.5,847.2 L428.6,844.8 L428.7,842.4 L428.8,839.7 L428.9,836.9 L429.0,833.9 L429.1,830.7 L429.2,827.4 L429.3,824.0 L429.4,820.6 L429.5,817.0 L429.6,813.3 L429.7,809.6 L429.8,805.9 L429.9,802.2 L430.0,798.4 L430.1,794.6 L430.2,790.9 L430.3,787.2 L430.4,783.5 L430.5,780.0 L430.6,776.3 L430.7,772.6 L430.8,768.8 L430.9,764.9 L431.0,761.0 L431.1,757.1 L431.2,753.2 L431.3,749.4 L431.4,745.6 L431.5,742.0 L431.6,738.5 L431.7,735.1 L431.8,731.9 L431.9,728.9 L432.0,726.2 L432.1,723.6 L432.2,721.2 L432.3,718.7 L432.4,716.4 L432.5,714.1 L432.6,711.8 L432.7,709.6 L432.8,707.5 L432.9,705.6 L433.0,703.7 L433.1,702.0 L433.2,700.4 L433.3,698.9 L433.5,696.5 L433.7,694.1 L433.9,691.8 L434.1,689.7 L434.3,687.8 L434.5,686.3 L434.8,685.0 L435.0,684.8 L436.0,685.9 L436.5,687.0 L436.9,688.8 L437.3,690.9 L437.5,693.1 L437.6,694.5 L437.7,696.3 L437.8,698.2 L437.9,700.4 L438.0,702.8 L438.1,705.3 L438.2,707.9 L438.3,710.5 L438.4,713.2 L438.5,715.8 L438.6,718.4 L438.7,720.9 L438.8,723.3 L438.9,725.6 L439.0,727.9 L439.1,730.3 L439.2,732.8 L439.3,735.4 L439.4,738.0 L439.5,740.7 L439.6,743.5 L439.7,746.2 L439.8,749.0 L439.9,751.8 L440.0,754.4 L440.1,757.1 L440.2,759.6 L440.3,762.1 L440.4,764.5 L440.5,766.7 L440.6,768.8 L440.7,770.7 L440.8,772.5 L440.9,774.4 L441.0,776.2 L441.1,777.9 L441.2,779.7 L441.3,781.4 L441.4,783.0 L441.5,784.7 L441.6,786.2 L441.7,787.6 L441.8,789.0 L441.9,790.4 L442.0,791.7 L442.1,793.0 L442.3,795.4 L442.5,797.7 L442.7,800.2 L442.9,802.5 L443.1,804.8 L443.3,807.1 L443.5,809.5 L443.7,811.6 L443.9,813.7 L444.1,815.6 L444.3,817.3 L444.5,818.8 L444.8,820.2 L445.2,820.8 L446.3,819.8 L447.0,818.5 L447.6,817.2 L448.2,815.9 L448.6,814.6 L449.0,812.9 L449.3,811.5 L449.6,810.0 L449.9,808.7 L450.2,807.2 L450.5,805.7 L450.8,803.5 L451.1,801.4 L451.4,799.2 L451.7,797.3 L452.0,795.4 L452.2,794.1 L452.4,792.8 L452.6,791.3 L452.8,789.7 L453.0,788.0 L453.2,786.3 L453.4,784.5 L453.6,782.8 L453.8,781.1 L454.0,779.3 L454.2,777.5 L454.4,775.7 L454.6,773.9 L454.8,771.9 L455.0,770.0 L455.2,768.0 L455.4,766.0 L455.6,764.0 L455.8,761.9 L456.0,759.7 L456.2,757.5 L456.4,755.2 L456.6,753.0 L456.8,750.8 L457.0,748.6 L457.2,746.4 L457.4,744.2 L457.6,742.1 L457.8,740.1 L458.0,738.1 L458.2,736.2 L458.4,734.3 L458.6,732.3 L458.8,730.3 L459.0,728.3 L459.2,726.3 L459.4,724.4 L459.6,722.5 L459.8,720.6 L460.0,718.9 L460.2,717.4 L460.5,715.5 L460.8,713.9 L461.1,712.4 L461.4,711.0 L461.8,709.2 L462.3,707.6 L462.8,707.2 L463.5,709.2 L463.9,710.9 L464.2,712.6 L464.5,714.4 L464.8,716.1 L465.1,718.0 L465.3,719.5 L465.5,721.3 L465.7,723.6 L465.9,726.1 L466.1,728.8 L466.2,730.2 L466.3,731.7 L466.4,733.1 L466.5,734.6 L466.6,736.1 L466.7,737.6 L466.8,739.1 L466.9,740.6 L467.0,742.1 L467.1,743.7 L467.2,745.2 L467.3,746.6 L467.4,748.2 L467.5,749.7 L467.6,751.5 L467.7,753.3 L467.8,755.2 L467.9,757.1 L468.0,759.0 L468.1,760.9 L468.2,762.9 L468.3,764.9 L468.4,766.9 L468.5,768.9 L468.6,770.8 L468.7,772.7 L468.8,774.6 L468.9,776.4 L469.0,778.2 L469.1,780.0 L469.2,781.8 L469.3,783.5 L469.4,785.2 L469.5,786.8 L469.6,788.4 L469.7,789.9 L469.8,791.5 L469.9,793.1 L470.0,794.7 L470.1,796.2 L470.2,797.8 L470.3,799.3 L470.4,800.9 L470.5,802.4 L470.6,803.9 L470.7,805.5 L470.8,807.0 L470.9,808.5 L471.0,810.0 L471.1,811.4 L471.2,812.9 L471.4,815.6 L471.6,818.3 L471.8,820.8 L472.0,823.1 L472.2,825.3 L472.4,827.4 L472.6,829.3 L472.8,831.2 L473.0,832.9 L473.2,834.6 L473.4,836.3 L473.6,837.9 L473.8,839.4 L474.0,840.9 L474.2,842.4 L474.4,843.8 L474.6,845.2 L474.8,846.6 L475.0,848.0 L475.2,849.4 L475.5,851.5 L475.8,853.5 L476.0,854.8 L476.2,856.2 L476.4,857.6 L476.6,859.0 L476.9,861.3 L477.2,863.6 L477.5,865.7 L477.8,867.7 L478.1,869.6 L478.4,871.3 L478.8,872.7 L479.2,873.6 L479.6,874.6 L480.1,876.6 L480.6,878.3 L481.2,879.9 L482.0,880.8 L482.4,880.8 L483.3,880.0 L483.8,878.4 L484.2,876.7 L484.5,875.2 L484.8,873.9 L485.1,872.5 L485.4,871.0 L485.6,869.5 L485.8,867.4 L486.0,864.9 L486.2,862.1 L486.3,860.5 L486.4,858.9 L486.5,857.2 L486.6,855.6 L486.7,853.9 L486.8,852.1 L486.9,850.4 L487.0,848.6 L487.1,846.7 L487.2,844.9 L487.3,843.0 L487.4,841.1 L487.5,839.3 L487.6,837.4 L487.7,835.5 L487.8,833.4 L487.9,831.1 L488.0,828.7 L488.1,826.3 L488.2,823.7 L488.3,821.1 L488.4,818.5 L488.5,815.8 L488.6,813.1 L488.7,810.5 L488.8,807.9 L488.9,805.4 L489.0,802.9 L489.1,800.7 L489.2,798.5 L489.3,796.5 L489.4,794.3 L489.5,792.2 L489.6,790.0 L489.7,787.9 L489.8,785.7 L489.9,783.7 L490.0,781.7 L490.1,779.8 L490.2,778.0 L490.3,776.3 L490.4,774.8 L490.6,772.4 L490.8,771.0 L491.1,769.4 L491.4,768.1 L491.9,766.8 L492.1,766.7 L492.6,768.3 L492.9,770.4 L493.1,772.1 L493.3,774.0 L493.5,776.1 L493.7,778.3 L493.9,780.8 L494.0,782.3 L494.1,783.9 L494.2,785.7 L494.3,787.6 L494.4,789.7 L494.5,791.8 L494.6,793.9 L494.7,796.1 L494.8,798.3 L494.9,800.5 L495.0,802.8 L495.1,805.1 L495.2,807.3 L495.3,809.5 L495.4,811.7 L495.5,813.8 L495.6,816.0 L495.7,818.1 L495.8,820.3 L495.9,822.6 L496.0,824.8 L496.1,827.1 L496.2,829.4 L496.3,831.6 L496.4,833.9 L496.5,836.2 L496.6,838.5 L496.7,840.8 L496.8,843.1 L496.9,845.4 L497.0,847.7 L497.1,849.9 L497.2,852.2 L497.3,854.4 L497.4,856.7 L497.5,858.9 L497.6,861.0 L497.7,863.2 L497.8,865.5 L497.9,867.7 L498.0,870.0 L498.1,872.3 L498.2,874.6 L498.3,876.9 L498.4,879.1 L498.5,881.4 L498.6,883.7 L498.7,885.9 L498.8,888.1 L498.9,890.2 L499.0,892.2 L499.1,894.2 L499.2,896.0 L499.3,897.7 L499.4,899.4 L499.5,901.0 L499.6,902.4 L499.7,903.8 L499.8,905.1 L499.9,906.5 L500.1,909.1 L500.3,911.5 L500.5,913.9 L500.7,916.1 L500.9,918.3 L501.1,920.3 L501.3,922.2 L501.5,923.9 L501.7,925.5 L501.9,927.0 L502.1,928.6 L502.3,930.1 L502.5,931.6 L502.7,933.2 L503.0,935.4 L503.3,937.3 L503.7,938.7 L504.7,939.6 L505.9,940.7 L507.3,941.4 L507.9,941.5 L509.3,940.5 L510.5,939.8 L511.6,939.1 L512.7,937.5 L513.6,937.1 L514.5,935.9 L515.6,934.7 L516.3,934.2 L517.7,934.4 L519.1,934.5 L519.7,934.6 L521.1,934.3 L522.5,933.8 L523.7,933.9 L524.6,935.3 L525.1,936.3 L525.6,937.4 L526.2,939.2 L526.9,940.4 L527.6,941.1 L528.6,942.1 L528.7,942.2 L529.9,941.8 L530.7,940.5 L531.4,939.2 L532.1,937.3 L532.7,935.6 L533.2,934.3 L533.6,933.1 L534.0,931.8 L534.4,930.4 L534.9,929.0 L535.5,927.8 L536.2,926.1 L536.9,924.7 L537.8,923.5 L538.2,923.2 L539.1,924.4 L539.6,926.0 L540.0,927.4 L540.4,928.9 L540.8,930.6 L541.2,932.3 L541.6,934.1 L541.9,935.4 L542.2,936.7 L542.5,938.2 L542.8,939.9 L543.1,941.7 L543.4,943.6 L543.7,945.5 L544.0,947.5 L544.3,949.6 L544.6,951.8 L544.8,953.4 L545.0,954.9 L545.2,956.5 L545.4,958.1 L545.6,959.6 L545.8,960.9 L546.1,962.7 L546.4,964.4 L546.7,966.0 L547.0,967.6 L547.3,969.1 L547.6,970.6 L547.9,972.0 L548.2,973.3 L548.6,975.0 L549.0,976.9 L549.4,978.8 L549.8,980.5 L550.2,982.0 L550.6,983.5 L551.0,985.1 L551.5,986.8 L552.1,987.9 L552.8,989.0 L553.6,990.0 L554.4,991.3 L555.3,992.4 L556.3,993.4 L557.3,995.3 L558.3,996.4 L559.3,996.8 L560.4,998.6 L561.6,999.0 L562.9,999.5 L564.2,1000.3 L565.6,1000.5 L567.0,1000.9 L568.4,1001.8 L569.8,1001.6 L571.2,1002.8 L572.6,1002.7 L574.0,1003.0 L574.5,1003.0 L575.9,1002.3 L577.0,1001.8 L578.0,1000.6 L579.1,999.5 L580.2,998.7 L581.2,997.4 L582.2,996.4 L583.2,995.1 L584.3,994.1 L585.4,993.5 L586.4,992.6 L587.2,991.2 L587.8,990.2 L588.3,989.5 L588.8,987.9 L589.2,986.0 L589.6,984.2 L590.0,982.8 L590.4,981.3 L590.8,979.5 L591.1,978.0 L591.4,976.4 L591.7,974.6 L592.0,972.8 L592.3,970.8 L592.6,968.8 L592.8,967.5 L593.0,966.2 L593.2,964.8 L593.4,963.3 L593.6,961.5 L593.8,959.5 L594.0,957.5 L594.2,955.3 L594.4,953.1 L594.6,950.9 L594.8,948.9 L595.0,946.7 L595.2,944.6 L595.4,942.3 L595.6,939.9 L595.8,937.2 L596.0,934.5 L596.1,933.0 L596.2,931.6 L596.3,930.2 L596.4,928.7 L596.5,927.3 L596.6,925.7 L596.7,924.2 L596.8,922.7 L596.9,921.2 L597.0,919.7 L597.2,916.8 L597.3,915.3 L597.4,913.8 L597.5,912.3 L597.6,910.9 L597.7,909.5 L597.8,908.2 L597.9,906.8 L598.0,905.4 L598.1,904.1 L598.2,902.7 L598.4,900.1 L598.6,897.5 L598.8,894.9 L599.0,892.5 L599.2,890.0 L599.4,887.5 L599.6,885.2 L599.8,883.3 L600.0,881.6 L600.2,880.3 L600.5,879.1 L601.0,877.0 L601.7,875.1 L602.1,874.8 L602.8,875.9 L603.2,877.3 L603.5,878.6 L603.8,880.2 L604.1,882.2 L604.3,884.1 L604.5,886.4 L604.7,889.0 L604.9,891.7 L605.0,893.1 L605.1,894.6 L605.2,896.0 L605.4,898.8 L605.6,901.4 L605.8,903.8 L606.0,906.3 L606.2,908.8 L606.4,911.3 L606.6,913.9 L606.8,916.4 L607.0,918.9 L607.2,921.3 L607.4,923.7 L607.6,925.9 L607.8,928.0 L608.0,929.9 L608.2,931.8 L608.4,933.6 L608.6,935.3 L608.8,936.9 L609.0,938.5 L609.2,940.1 L609.4,941.6 L609.6,943.1 L609.8,944.6 L610.1,946.8 L610.4,948.9 L610.7,950.6 L611.0,952.1 L611.3,953.6 L611.6,955.1 L611.9,956.9 L612.2,958.7 L612.5,960.4 L612.8,961.9 L613.1,963.4 L613.4,964.8 L613.7,966.2 L614.0,967.5 L614.4,969.2 L614.8,971.0 L615.2,972.8 L615.6,974.5 L616.0,976.2 L616.4,977.8 L616.8,979.4 L617.2,981.0 L617.7,982.7 L618.2,984.0 L618.7,985.3 L619.2,986.5 L619.8,988.1 L620.4,989.8 L621.0,991.1 L621.7,992.5 L622.4,993.8 L623.1,995.3 L623.8,996.6 L624.5,997.6 L625.3,999.4 L626.1,1000.6 L627.1,1001.5 L628.3,1002.0 L629.6,1003.4 L631.0,1003.9 L632.4,1003.8 L633.7,1004.6 L635.0,1004.9 L636.3,1005.8 L637.6,1005.9 L638.9,1006.9 L640.1,1007.7 L641.2,1008.9 L642.2,1010.2 L643.3,1011.2 L644.6,1011.7 L645.9,1011.9 L647.3,1012.3 L648.7,1013.0 L650.0,1013.7 L651.3,1014.0 L652.6,1015.1 L653.5,1014.8 L654.9,1014.5 L656.2,1014.3 L657.6,1012.9 L658.1,1013.1 L659.5,1013.9 L660.9,1014.0 L662.3,1014.4 L663.7,1015.3 L664.8,1015.0 L666.2,1015.1 L667.5,1014.1 L668.8,1013.6 L670.1,1012.6 L671.4,1011.8 L672.8,1011.9 L674.2,1011.1 L675.6,1010.6 L677.0,1010.9 L678.3,1009.9 L679.5,1008.8 L680.5,1007.5 L681.5,1007.0 L682.5,1005.9 L683.5,1004.2 L684.5,1004.0 L685.5,1002.7 L686.4,1001.0 L687.2,999.8 L687.9,998.6 L688.6,997.2 L689.2,995.9 L689.8,994.4 L690.3,993.0 L690.8,991.4 L691.3,989.7 L691.8,988.5 L692.3,987.6 L692.8,986.1 L693.3,984.3 L693.7,982.9 L694.1,981.6 L694.5,980.4 L694.9,979.0 L695.3,977.6 L695.7,976.1 L696.1,974.2 L696.5,972.4 L696.9,970.8 L697.3,969.4 L697.8,968.0 L698.5,966.9 L699.5,965.7 L700.7,964.6 L701.0,964.5 L702.0,965.5 L702.7,966.9 L703.4,968.2 L704.0,969.7 L704.5,971.3 L705.0,972.6 L705.5,974.0 L706.0,975.8 L706.5,977.8 L706.9,979.1 L707.4,980.5 L708.1,981.8 L708.2,981.8 L709.1,980.9 L709.6,979.6 L710.1,978.1 L710.6,976.6 L711.1,975.4 L711.7,973.9 L712.3,972.0 L712.8,970.2 L713.2,968.5 L713.6,966.5 L713.9,964.7 L714.1,963.2 L714.3,961.6 L714.5,959.9 L714.7,957.8 L714.9,955.7 L715.1,953.5 L715.3,951.3 L715.5,949.1 L715.7,947.0 L715.9,944.8 L716.1,942.3 L716.3,939.7 L716.5,937.1 L716.7,934.3 L716.9,931.5 L717.1,928.9 L717.3,926.4 L717.5,923.8 L717.7,921.4 L717.9,918.9 L718.1,916.5 L718.3,914.1 L718.5,911.9 L718.7,909.9 L718.9,908.0 L719.1,906.3 L719.3,904.7 L719.5,903.0 L719.7,901.3 L719.9,899.7 L720.1,898.3 L720.4,896.6 L721.1,895.3 L722.6,895.6 L723.5,896.7 L723.8,898.4 L724.0,899.9 L724.2,901.6 L724.4,903.4 L724.6,905.2 L724.8,907.0 L725.0,908.7 L725.2,910.4 L725.4,911.9 L725.6,913.5 L725.8,915.2 L726.0,917.0 L726.2,918.9 L726.4,920.8 L726.6,922.7 L726.8,924.6 L727.0,926.6 L727.2,928.5 L727.4,930.3 L727.6,932.0 L727.8,933.7 L728.0,935.3 L728.2,936.9 L728.4,938.5 L728.6,940.1 L728.8,941.8 L729.0,943.4 L729.2,945.0 L729.4,946.5 L729.6,947.9 L729.8,949.3 L730.1,951.2 L730.4,953.0 L730.7,954.8 L731.0,956.6 L731.3,958.5 L731.6,960.3 L731.9,962.2 L732.2,964.1 L732.5,965.8 L732.8,967.3 L733.2,969.1 L733.6,970.5 L734.1,971.5 L734.7,972.6 L735.4,974.0 L736.2,975.0 L736.9,976.3 L737.5,977.9 L738.1,979.2 L738.7,980.7 L739.2,982.2 L739.7,983.5 L740.3,985.1 L740.9,986.6 L741.5,988.1 L742.1,989.4 L742.7,990.8 L743.3,992.3 L743.9,993.6 L744.6,994.9 L745.3,996.1 L746.0,997.3 L746.8,998.8 L747.6,1000.6 L748.5,1001.9 L749.4,1002.5 L750.3,1003.8 L751.3,1004.4 L752.3,1005.3 L753.3,1006.7 L754.3,1008.2 L755.4,1008.6 L756.5,1009.6 L757.6,1011.2 L758.8,1011.2 L760.1,1012.5 L761.5,1012.7 L762.9,1013.6 L764.3,1013.5 L765.7,1013.9 L767.0,1014.5 L768.2,1015.1 L769.4,1016.9 L770.6,1017.2 L772.0,1017.1 L773.4,1018.0 L774.8,1018.1 L776.2,1018.1 L777.6,1018.6 L779.0,1018.8 L780.4,1018.4 L781.8,1019.7 L783.2,1020.0 L784.6,1020.8 L786.0,1019.9 L787.4,1020.6 L788.8,1020.4 L789.0,1020.3 L790.4,1020.1 L791.8,1020.7 L793.2,1019.8 L794.6,1019.8 L796.0,1019.6 L797.4,1019.5 L798.8,1019.3 L800.2,1019.2 L801.6,1019.3 L803.0,1019.0 L804.4,1018.4 L805.8,1018.5 L807.2,1018.3 L808.6,1018.0 L810.0,1017.8 L811.4,1017.7 L812.8,1017.0 L814.2,1017.0 L815.6,1016.5 L817.0,1016.6 L818.4,1016.2 L819.8,1015.6 L821.2,1015.8 L822.6,1015.4 L824.0,1014.4 L825.4,1014.8 L826.7,1014.2 L828.0,1013.4 L829.3,1012.1 L830.6,1011.8 L831.9,1010.9 L833.2,1009.8 L834.4,1009.7 L835.6,1009.1 L836.8,1007.8 L838.0,1007.3 L839.1,1006.3 L840.2,1004.9 L841.3,1004.2 L842.4,1003.1 L843.4,1002.5 L844.3,1001.0 L845.1,999.4 L845.7,998.1 L846.3,997.3 L846.8,995.9 L847.3,993.9 L847.8,992.3 L848.3,990.8 L848.8,989.3 L849.3,987.7 L849.7,986.4 L850.1,985.0 L850.5,983.6 L850.9,981.9 L851.3,980.2 L851.7,978.4 L852.0,977.0 L852.3,975.6 L852.6,974.1 L852.9,972.4 L853.2,970.7 L853.5,968.8 L853.8,966.8 L854.1,964.6 L854.3,963.0 L854.5,961.4 L854.7,959.9 L854.9,958.3 L855.1,956.6 L855.3,954.9 L855.5,952.9 L855.7,950.5 L855.9,947.8 L856.0,946.3 L856.1,944.8 L856.2,943.2 L856.3,941.6 L856.4,940.0 L856.5,938.3 L856.6,936.6 L856.7,934.9 L856.8,933.2 L856.9,931.5 L857.0,929.9 L857.1,928.2 L857.2,926.6 L857.3,925.1 L857.4,923.6 L857.5,922.1 L857.7,919.4 L857.8,918.0 L857.9,916.6 L858.0,915.2 L858.1,913.7 L858.2,912.2 L858.3,910.7 L858.4,909.3 L858.5,907.8 L858.6,906.3 L858.7,904.9 L858.9,902.1 L859.1,899.6 L859.3,897.4 L859.5,895.5 L859.8,893.8 L860.2,892.7 L860.7,891.5 L861.3,890.3 L862.1,888.8 L862.9,890.0 L863.3,892.0 L863.6,893.6 L863.9,895.2 L864.2,896.8 L864.5,898.5 L864.8,900.5 L865.0,902.0 L865.2,903.7 L865.4,905.6 L865.6,907.8 L865.8,910.2 L866.0,912.7 L866.2,915.2 L866.4,917.7 L866.6,920.0 L866.8,922.1 L867.0,924.1 L867.2,926.1 L867.4,928.1 L867.6,930.2 L867.8,932.3 L868.0,934.5 L868.2,936.7 L868.4,938.9 L868.6,941.0 L868.8,943.0 L869.0,945.0 L869.2,946.9 L869.4,948.7 L869.6,950.5 L869.8,952.2 L870.0,953.8 L870.2,955.5 L870.4,957.1 L870.6,958.7 L870.8,960.2 L871.1,962.3 L871.4,964.0 L871.8,965.6 L872.6,966.6 L873.6,967.7 L874.8,968.2 L876.1,968.4 L877.0,967.1 L877.4,965.8 L877.8,964.1 L878.1,962.5 L878.4,960.8 L878.7,959.2 L879.0,957.5 L879.3,955.9 L879.6,954.2 L879.9,952.1 L880.1,950.6 L880.3,948.9 L880.5,947.1 L880.7,945.2 L880.9,943.1 L881.1,940.9 L881.3,938.7 L881.5,936.4 L881.7,934.2 L881.9,931.9 L882.1,929.6 L882.3,927.3 L882.5,925.0 L882.7,922.6 L882.9,920.0 L883.0,918.7 L883.1,917.3 L883.2,915.9 L883.3,914.5 L883.4,913.0 L883.5,911.6 L883.6,909.9 L883.7,908.2 L883.8,906.6 L883.9,904.9 L884.0,903.3 L884.1,901.7 L884.2,900.1 L884.3,898.5 L884.5,895.4 L884.7,893.1 L884.9,890.7 L885.1,888.2 L885.3,885.7 L885.5,883.3 L885.7,881.0 L885.9,879.0 L886.1,877.4 L886.5,875.8 L887.0,874.4 L887.8,873.1 L888.1,872.9 L888.8,874.4 L889.2,876.4 L889.5,878.3 L889.8,880.1 L890.1,882.0 L890.3,883.4 L890.5,885.2 L890.7,887.2 L890.9,889.4 L891.1,891.9 L891.3,894.5 L891.5,897.2 L891.7,899.9 L891.9,902.7 L892.1,905.5 L892.3,908.1 L892.5,910.7 L892.7,913.3 L892.9,915.9 L893.1,918.6 L893.3,921.2 L893.5,923.9 L893.7,926.5 L893.9,929.1 L894.1,931.5 L894.3,933.9 L894.5,936.2 L894.7,938.7 L894.9,941.3 L895.1,943.8 L895.3,946.3 L895.5,948.7 L895.7,950.8 L895.9,952.8 L896.1,954.7 L896.3,956.5 L896.5,958.1 L896.7,959.7 L896.9,961.1 L897.2,963.0 L897.5,964.8 L897.8,966.7 L898.1,968.5 L898.4,970.0 L898.8,971.5 L899.3,972.7 L900.0,973.8 L900.8,975.2 L901.7,976.9 L902.7,977.3 L903.9,978.7 L905.1,979.8 L906.4,980.6 L907.7,980.5 L909.0,979.6 L910.0,978.9 L911.0,978.2 L912.3,977.4 L913.7,977.3 L915.1,977.9 L916.5,978.1 L916.8,978.1 L918.1,977.6 L919.1,976.5 L920.0,975.4 L920.9,974.5 L921.9,973.4 L922.9,971.8 L923.9,970.3 L925.2,970.2 L925.4,970.3 L926.8,970.6 L928.2,970.8 L929.6,970.9 L930.8,972.2 L931.8,973.2 L932.8,973.9 L933.9,974.8 L935.0,975.4 L936.0,976.8 L936.9,978.0 L937.6,978.8 L938.1,980.7 L938.6,982.7 L939.0,984.0 L939.4,985.4 L939.9,987.1 L940.4,988.5 L941.0,989.8 L941.7,991.2 L942.4,992.3 L943.2,993.0 L944.0,994.2 L944.8,995.7 L945.6,997.1 L946.4,998.7 L947.2,999.4 L948.1,1000.5 L949.0,1001.8 L949.9,1003.3 L950.8,1004.6 L951.7,1005.2 L952.5,1006.4 L953.3,1008.1 L954.2,1008.8 L955.2,1010.2 L956.5,1010.9 L957.9,1010.9 L959.3,1011.2 L960.7,1011.7 L962.1,1012.2 L963.5,1012.2 L964.8,1013.0 L965.9,1013.8 L967.0,1015.1 L968.1,1015.5 L969.4,1016.6 L970.8,1016.7 L972.2,1017.1 L973.6,1017.5 L975.0,1017.3 L975.5,1017.2 L976.8,1016.8 L977.9,1015.6 L979.0,1014.7 L980.4,1014.6 L981.9,1014.4 L983.4,1014.0 L984.8,1014.1 L986.2,1013.9 L987.4,1012.9 L988.6,1012.8 L989.7,1012.2 L990.8,1010.5 L991.9,1009.7 L992.9,1008.3 L993.8,1007.0 L994.7,1005.8 L995.5,1004.9 L996.2,1003.9 L996.8,1002.5 L997.4,1000.7 L997.9,998.9 L998.4,997.1 L998.9,995.6 L999.4,994.1 L999.8,992.7 L1000.2,991.2 L1000.6,989.7 L1001.0,988.3 L1001.4,987.1 L1001.9,985.7 L1002.8,984.3 L1003.8,983.4 L1004.8,983.0 L1006.0,983.5 L1006.8,984.7 L1007.5,986.0 L1008.1,987.2 L1008.5,988.5 L1008.9,990.6 L1009.2,992.2 L1009.5,993.8 L1009.9,995.5 L1010.3,997.0 L1010.8,998.5 L1011.3,1000.1 L1011.8,1001.2 L1012.4,1002.3 L1013.0,1003.5 L1013.8,1005.1 L1014.7,1006.6 L1015.7,1007.5 L1016.8,1008.5 L1018.0,1008.9 L1019.3,1009.4 L1020.7,1010.1 L1022.1,1010.6 L1023.5,1011.2 L1024.9,1010.9 L1025.2,1010.6 L1026.6,1011.2 L1028.0,1010.7 L1029.4,1010.2 L1030.8,1010.1 L1032.0,1009.3 L1033.1,1008.0 L1034.3,1007.5 L1035.6,1006.9 L1036.9,1006.5 L1038.2,1005.9 L1039.4,1005.2 L1040.5,1003.6 L1041.4,1003.0 L1042.2,1001.5 L1043.0,1000.1 L1043.7,998.9 L1044.4,997.1 L1045.1,995.8 L1045.7,994.5 L1046.3,992.7 L1046.8,991.1 L1047.3,989.4 L1047.7,988.1 L1048.1,986.6 L1048.4,985.4 L1048.7,983.8 L1049.0,982.1 L1049.3,980.2 L1049.6,978.3 L1049.9,976.4 L1050.2,974.4 L1050.4,973.1 L1050.6,971.7 L1050.8,970.3 L1051.0,968.9 L1051.2,967.3 L1051.4,965.8 L1051.6,964.0 L1051.8,962.1 L1052.0,960.1 L1052.2,958.0 L1052.4,955.8 L1052.6,953.5 L1052.8,951.1 L1053.0,948.3 L1053.1,946.8 L1053.2,945.2 L1053.3,943.5 L1053.4,941.7 L1053.5,939.9 L1053.6,938.1 L1053.7,936.2 L1053.8,934.3 L1053.9,932.4 L1054.0,930.5 L1054.1,928.5 L1054.2,926.6 L1054.3,924.7 L1054.4,922.8 L1054.5,921.0 L1054.6,919.1 L1054.7,917.2 L1054.8,915.3 L1054.9,913.4 L1055.0,911.5 L1055.1,909.5 L1055.2,907.6 L1055.3,905.6 L1055.4,903.7 L1055.5,901.7 L1055.6,899.9 L1055.7,898.1 L1055.8,896.2 L1055.9,894.4 L1056.0,892.6 L1056.1,890.8 L1056.2,889.0 L1056.3,887.2 L1056.4,885.3 L1056.5,883.5 L1056.6,881.5 L1056.7,879.4 L1056.8,877.4 L1056.9,875.3 L1057.0,873.3 L1057.1,871.3 L1057.2,869.3 L1057.3,867.3 L1057.4,865.5 L1057.5,863.7 L1057.6,861.9 L1057.7,860.3 L1057.8,858.8 L1058.0,856.1 L1058.2,853.5 L1058.4,851.0 L1058.6,848.5 L1058.8,846.2 L1059.0,844.3 L1059.2,842.7 L1059.5,841.2 L1060.1,839.6 L1060.8,838.8 L1061.5,840.8 L1061.8,842.3 L1062.1,844.1 L1062.4,846.1 L1062.6,847.7 L1062.8,849.8 L1063.0,852.3 L1063.2,855.1 L1063.3,856.5 L1063.4,858.0 L1063.5,859.6 L1063.6,861.1 L1063.7,862.6 L1063.8,864.0 L1063.9,865.5 L1064.0,866.9 L1064.1,868.3 L1064.2,869.7 L1064.3,871.2 L1064.4,872.7 L1064.5,874.2 L1064.6,875.8 L1064.7,877.3 L1064.8,878.9 L1064.9,880.5 L1065.0,882.1 L1065.1,883.6 L1065.2,885.2 L1065.3,886.7 L1065.4,888.3 L1065.5,889.8 L1065.6,891.2 L1065.7,892.5 L1065.9,895.1 L1066.1,897.7 L1066.3,900.1 L1066.5,902.5 L1066.7,904.9 L1066.9,907.3 L1067.1,909.7 L1067.3,912.1 L1067.5,914.4 L1067.7,916.6 L1067.9,918.9 L1068.1,921.2 L1068.3,923.6 L1068.5,926.0 L1068.7,928.7 L1068.9,931.3 L1069.1,934.0 L1069.3,936.6 L1069.5,939.1 L1069.7,941.5 L1069.9,943.8 L1070.1,945.9 L1070.3,947.8 L1070.5,949.6 L1070.7,951.5 L1070.9,953.3 L1071.1,955.0 L1071.3,956.7 L1071.5,958.3 L1071.7,959.5 L1072.0,961.2 L1072.3,962.5 L1072.7,964.0 L1073.1,965.3 L1073.5,966.4 L1074.0,968.4 L1074.5,970.2 L1075.1,971.1 L1075.8,972.1 L1076.6,973.5 L1077.5,974.6 L1078.6,975.5 L1079.4,976.4 L1080.8,976.0 L1082.2,975.7 L1083.6,975.4 L1085.0,975.3 L1086.4,974.8 L1087.8,974.5 L1089.2,974.3 L1090.6,973.4 L1091.9,973.0 L1093.1,972.6 L1094.2,971.5 L1095.3,969.3 L1096.4,968.8 L1097.5,967.9 L1098.5,967.1 L1099.5,966.5 L1100.6,965.3 L1101.9,964.2 L1103.2,965.2 L1104.3,966.2 L1105.3,967.5 L1106.4,967.7 L1107.6,969.2 L1108.8,969.5 L1110.1,970.7 L1111.5,971.6 L1112.9,970.4 L1114.4,970.9 L1115.9,970.9 L1117.3,970.6 L1118.6,969.9 L1119.8,969.6 L1120.9,968.4 L1121.9,967.3 L1122.9,966.1 L1123.8,965.2 L1124.6,963.4 L1125.3,962.4 L1126.0,960.7 L1126.6,959.0 L1127.2,957.6 L1127.8,956.2 L1128.3,955.1 L1128.8,953.8 L1129.3,952.4 L1129.8,951.0 L1130.3,949.6 L1130.7,948.2 L1131.1,946.5 L1131.5,944.8 L1131.9,943.1 L1132.2,941.8 L1132.5,940.3 L1132.8,938.8 L1133.1,937.2 L1133.4,935.5 L1133.7,933.9 L1134.0,932.4 L1134.3,930.8 L1134.6,928.9 L1134.9,926.5 L1135.1,924.8 L1135.3,923.0 L1135.5,921.2 L1135.7,919.8 L1135.9,918.3 L1136.1,916.8 L1136.3,915.2 L1136.5,913.6 L1136.7,911.7 L1136.9,909.7 L1137.1,907.7 L1137.3,905.7 L1137.5,903.7 L1137.7,901.7 L1137.9,899.7 L1138.1,897.6 L1138.3,895.5 L1138.5,893.3 L1138.7,890.9 L1138.9,888.5 L1139.1,885.9 L1139.3,883.3 L1139.5,880.6 L1139.7,877.9 L1139.8,876.5 L1139.9,875.1 L1140.0,873.6 L1140.1,872.1 L1140.2,870.6 L1140.3,868.9 L1140.4,867.3 L1140.5,865.6 L1140.6,863.7 L1140.7,861.7 L1140.8,859.7 L1140.9,857.7 L1141.0,855.7 L1141.1,853.6 L1141.2,851.5 L1141.3,849.3 L1141.4,847.2 L1141.5,845.0 L1141.6,842.8 L1141.7,840.7 L1141.8,838.5 L1141.9,836.3 L1142.0,834.1 L1142.1,831.9 L1142.2,829.6 L1142.3,827.2 L1142.4,824.8 L1142.5,822.3 L1142.6,819.7 L1142.7,817.1 L1142.8,814.3 L1142.9,811.5 L1143.0,808.5 L1143.1,805.3 L1143.2,801.7 L1143.3,797.8 L1143.4,793.7 L1143.5,789.4 L1143.6,784.9 L1143.7,780.3 L1143.8,775.7 L1143.9,771.3 L1144.0,767.0 L1144.1,762.9 L1144.2,759.1 L1144.3,755.6 L1144.4,752.1 L1144.5,748.8 L1144.6,745.6 L1144.7,742.6 L1144.8,739.5 L1144.9,736.6 L1145.0,733.7 L1145.1,730.8 L1145.2,727.9 L1145.3,725.0 L1145.4,722.1 L1145.5,719.2 L1145.6,716.2 L1145.7,713.1 L1145.8,710.0 L1145.9,706.8 L1146.0,703.5 L1146.1,700.2 L1146.2,696.7 L1146.3,693.3 L1146.4,689.8 L1146.5,686.2 L1146.6,682.6 L1146.7,678.9 L1146.8,675.3 L1146.9,671.6 L1147.0,667.9 L1147.1,664.1 L1147.2,660.4 L1147.3,656.7 L1147.4,653.1 L1147.5,649.4 L1147.6,645.9 L1147.7,642.3 L1147.8,638.7 L1147.9,635.0 L1148.0,631.3 L1148.1,627.5 L1148.2,623.8 L1148.3,620.1 L1148.4,616.4 L1148.5,612.8 L1148.6,609.1 L1148.7,605.5 L1148.8,602.0 L1148.9,598.6 L1149.0,595.3 L1149.1,592.1 L1149.2,589.1 L1149.3,586.2 L1149.4,583.4 L1149.5,580.6 L1149.6,578.0 L1149.7,575.5 L1149.8,573.0 L1149.9,570.5 L1150.0,568.2 L1150.1,565.8 L1150.2,563.5 L1150.3,561.2 L1150.4,559.0 L1150.5,556.8 L1150.6,554.5 L1150.7,552.2 L1150.8,549.9 L1150.9,547.5 L1151.0,545.1 L1151.1,542.8 L1151.2,540.6 L1151.3,538.4 L1151.4,536.4 L1151.5,534.5 L1151.6,532.9 L1151.7,531.5 L1151.9,529.4 L1152.1,527.7 L1152.3,526.2 L1152.6,524.6 L1152.8,524.2 L1153.3,525.8 L1153.5,527.3 L1153.7,529.1 L1153.9,531.1 L1154.1,533.3 L1154.3,536.1 L1154.4,538.0 L1154.5,540.2 L1154.6,542.6 L1154.7,545.3 L1154.8,548.0 L1154.9,550.9 L1155.0,553.8 L1155.1,556.8 L1155.2,559.7 L1155.3,562.5 L1155.4,565.3 L1155.5,567.8 L1155.6,570.4 L1155.7,572.9 L1155.8,575.5 L1155.9,578.0 L1156.0,580.5 L1156.1,583.0 L1156.2,585.6 L1156.3,588.1 L1156.4,590.6 L1156.5,593.1 L1156.6,595.5 L1156.7,597.9 L1156.8,600.3 L1156.9,602.8 L1157.0,605.2 L1157.1,607.7 L1157.2,610.2 L1157.3,612.8 L1157.4,615.4 L1157.5,618.0 L1157.6,620.8 L1157.7,623.7 L1157.8,626.6 L1157.9,629.5 L1158.0,632.4 L1158.1,635.3 L1158.2,638.3 L1158.3,641.3 L1158.4,644.2 L1158.5,647.2 L1158.6,650.1 L1158.7,653.0 L1158.8,655.9 L1158.9,658.7 L1159.0,661.6 L1159.1,664.5 L1159.2,667.4 L1159.3,670.3 L1159.4,673.3 L1159.5,676.2 L1159.6,679.0 L1159.7,681.9 L1159.8,684.7 L1159.9,687.5 L1160.0,690.3 L1160.1,693.0 L1160.2,695.7 L1160.3,698.4 L1160.4,701.1 L1160.5,703.7 L1160.6,706.4 L1160.7,709.1 L1160.8,711.9 L1160.9,714.6 L1161.0,717.3 L1161.1,720.0 L1161.2,722.7 L1161.3,725.4 L1161.4,728.0 L1161.5,730.6 L1161.6,733.1 L1161.7,735.6 L1161.8,738.1 L1161.9,740.5 L1162.0,742.8 L1162.1,745.1 L1162.2,747.3 L1162.3,749.5 L1162.4,751.7 L1162.5,753.8 L1162.6,755.8 L1162.7,757.8 L1162.8,759.7 L1162.9,761.7 L1163.0,763.6 L1163.1,765.5 L1163.2,767.3 L1163.3,769.2 L1163.4,771.0 L1163.5,772.7 L1163.6,774.5 L1163.7,776.2 L1163.8,777.8 L1163.9,779.5 L1164.0,781.1 L1164.1,782.6 L1164.2,784.1 L1164.3,785.6 L1164.4,787.1 L1164.5,788.5 L1164.6,790.0 L1164.7,791.4 L1164.9,794.3 L1165.1,797.1 L1165.3,799.9 L1165.5,802.6 L1165.7,805.1 L1165.9,807.5 L1166.1,809.8 L1166.3,812.0 L1166.5,814.1 L1166.7,816.2 L1166.9,818.2 L1167.1,820.1 L1167.3,821.8 L1167.5,823.5 L1167.7,824.8 L1167.9,826.1 L1168.1,827.3 L1168.4,829.0 L1168.7,830.9 L1169.0,832.7 L1169.3,834.4 L1169.6,836.0 L1169.9,837.5 L1170.3,839.3 L1170.7,841.0 L1171.1,842.7 L1171.5,844.2 L1171.9,845.7 L1172.4,847.4 L1172.9,848.7 L1173.6,850.0 L1174.5,851.1 L1175.6,851.7 L1175.8,851.8 L1177.2,851.4 L1178.4,850.5 L1179.4,849.4 L1179.9,848.0 L1180.2,846.7 L1180.5,845.0 L1180.8,843.0 L1181.0,841.6 L1181.2,840.1 L1181.4,838.4 L1181.6,836.7 L1181.8,834.8 L1182.0,832.8 L1182.2,830.8 L1182.4,828.8 L1182.6,826.9 L1182.8,824.9 L1183.0,822.6 L1183.2,820.1 L1183.3,818.8 L1183.4,817.4 L1183.5,815.9 L1183.6,814.4 L1183.7,812.8 L1183.8,811.2 L1183.9,809.6 L1184.0,808.0 L1184.1,806.3 L1184.2,804.6 L1184.3,803.0 L1184.4,801.3 L1184.5,799.6 L1184.6,797.8 L1184.7,796.1 L1184.8,794.4 L1184.9,792.7 L1185.0,790.9 L1185.1,789.2 L1185.2,787.4 L1185.3,785.6 L1185.4,783.7 L1185.5,781.9 L1185.6,779.9 L1185.7,778.0 L1185.8,776.1 L1185.9,774.1 L1186.0,772.1 L1186.1,770.1 L1186.2,768.1 L1186.3,766.1 L1186.4,764.0 L1186.5,762.0 L1186.6,760.0 L1186.7,757.9 L1186.8,755.8 L1186.9,753.5 L1187.0,751.1 L1187.1,748.6 L1187.2,746.1 L1187.3,743.6 L1187.4,741.1 L1187.5,738.6 L1187.6,736.4 L1187.7,734.2 L1187.8,732.2 L1187.9,730.3 L1188.0,728.7 L1188.1,727.2 L1188.3,725.1 L1188.5,723.3 L1188.7,721.5 L1188.9,719.9 L1189.1,718.4 L1189.4,716.4 L1189.7,714.6 L1190.0,712.9 L1190.3,711.2 L1190.6,709.4 L1190.9,707.8 L1191.3,705.8 L1191.7,704.2 L1192.1,703.0 L1192.5,701.7 L1192.9,699.8 L1193.2,698.2 L1193.5,696.4 L1193.8,694.3 L1194.0,692.8 L1194.2,691.2 L1194.4,689.5 L1194.6,687.8 L1194.8,685.9 L1195.0,684.0 L1195.2,681.8 L1195.4,679.5 L1195.6,677.0 L1195.8,674.1 L1195.9,672.3 L1196.0,670.4 L1196.1,668.3 L1196.2,666.0 L1196.3,663.7 L1196.4,661.3 L1196.5,658.8 L1196.6,656.4 L1196.7,654.1 L1196.8,651.7 L1196.9,649.5 L1197.0,647.3 L1197.1,645.1 L1197.2,642.7 L1197.3,640.1 L1197.4,637.5 L1197.5,634.9 L1197.6,632.3 L1197.7,630.0 L1197.8,628.1 L1198.0,625.8 L1198.2,624.0 L1198.5,621.9 L1198.9,620.7 L1199.1,620.7 L1199.5,622.5 L1199.7,624.0 L1199.9,625.9 L1200.1,628.2 L1200.3,630.8 L1200.5,633.6 L1200.6,635.0 L1200.7,636.6 L1200.8,638.6 L1200.9,641.1 L1201.0,644.0 L1201.1,647.2 L1201.2,650.7 L1201.3,654.4 L1201.4,658.3 L1201.5,662.2 L1201.6,666.2 L1201.7,670.2 L1201.8,674.0 L1201.9,677.6 L1202.0,680.9 L1202.1,684.3 L1202.2,687.9 L1202.3,691.6 L1202.4,695.3 L1202.5,698.8 L1202.6,701.9 L1202.7,704.6 L1202.8,706.6 L1202.9,708.0 L1203.1,709.6 L1203.3,711.0 L1203.6,712.6 L1204.0,714.4 L1204.5,716.1 L1204.9,717.5 L1205.3,719.5 L1205.6,721.4 L1205.8,723.2 L1206.0,725.4 L1206.2,728.1 L1206.3,729.5 L1206.4,731.1 L1206.5,732.6 L1206.6,734.3 L1206.7,735.9 L1206.8,737.6 L1206.9,739.4 L1207.0,741.1 L1207.1,742.8 L1207.2,744.6 L1207.3,746.3 L1207.4,747.9 L1207.5,749.6 L1207.6,751.4 L1207.7,753.2 L1207.8,755.1 L1207.9,756.9 L1208.0,758.9 L1208.1,760.8 L1208.2,762.8 L1208.3,764.7 L1208.4,766.7 L1208.5,768.7 L1208.6,770.6 L1208.7,772.6 L1208.8,774.5 L1208.9,776.4 L1209.0,778.3 L1209.1,780.1 L1209.2,782.0 L1209.3,783.9 L1209.4,785.8 L1209.5,787.7 L1209.6,789.8 L1209.7,791.8 L1209.8,793.8 L1209.9,795.9 L1210.0,797.9 L1210.1,799.9 L1210.2,801.8 L1210.3,803.6 L1210.4,805.4 L1210.5,807.1 L1210.6,808.7 L1210.7,810.1 L1210.9,812.7 L1211.1,815.1 L1211.3,817.4 L1211.5,819.6 L1211.7,821.7 L1211.9,823.7 L1212.1,825.6 L1212.3,827.3 L1212.5,828.8 L1212.8,830.9 L1213.1,832.6 L1213.5,834.5 L1213.9,835.7 L1214.6,836.5 L1215.4,835.2 L1215.9,833.6 L1216.4,832.2 L1216.9,831.5 L1217.9,832.4 L1218.6,833.8 L1219.2,835.8 L1219.8,837.5 L1220.3,838.8 L1220.8,840.3 L1221.2,841.5 L1221.6,842.8 L1222.0,844.2 L1222.4,845.6 L1222.8,847.2 L1223.2,848.8 L1223.6,850.5 L1224.0,852.1 L1224.4,853.8 L1224.7,855.2 L1225.0,856.6 L1225.3,858.2 L1225.6,860.0 L1225.8,861.6 L1226.0,863.3 L1226.2,865.2 L1226.4,867.3 L1226.6,869.3 L1226.8,871.3 L1227.0,873.3 L1227.2,875.3 L1227.4,877.1 L1227.6,878.9 L1227.8,880.5 L1228.0,882.0 L1228.2,883.4 L1228.4,884.8 L1228.6,886.2 L1228.9,888.3 L1229.2,890.4 L1229.5,892.4 L1229.8,894.2 L1230.1,895.9 L1230.4,897.7 L1230.7,899.7 L1231.0,901.8 L1231.3,904.1 L1231.6,906.1 L1231.9,908.0 L1232.2,909.8 L1232.5,911.6 L1232.8,913.8 L1233.1,916.0 L1233.4,918.2 L1233.7,920.2 L1234.0,922.2 L1234.3,924.1 L1234.6,925.8 L1234.9,927.5 L1235.2,929.0 L1235.5,930.5 L1235.8,932.2 L1236.1,933.8 L1236.4,935.4 L1236.7,936.8 L1237.0,938.2 L1237.3,939.6 L1237.6,941.1 L1237.9,942.7 L1238.2,944.5 L1238.5,946.4 L1238.8,948.4 L1239.1,950.5 L1239.4,952.6 L1239.7,954.3 L1240.0,955.9 L1240.4,957.5 L1240.8,959.2 L1241.2,960.7 L1241.7,962.4 L1242.2,963.8 L1242.7,965.3 L1243.2,967.0 L1243.6,968.4 L1244.0,970.0 L1244.4,971.6 L1244.8,973.3 L1245.2,974.9 L1245.6,976.5 L1246.1,978.1 L1246.6,979.6 L1247.1,980.9 L1247.6,982.2 L1248.2,983.7 L1248.8,985.4 L1249.4,987.2 L1250.1,987.9 L1250.8,988.9 L1251.5,990.5 L1252.3,992.1 L1253.1,993.2 L1254.0,994.4 L1255.0,995.6 L1256.0,996.2 L1257.0,997.0 L1258.0,998.0 L1259.0,999.3 L1260.0,1000.8 L1261.0,1001.5 L1262.0,1002.3 L1263.0,1003.3 L1264.0,1004.1 L1265.0,1005.2 L1266.0,1006.2 L1267.1,1007.1 L1268.4,1008.3 L1269.7,1009.1 L1271.0,1009.6 L1272.3,1010.2 L1273.4,1011.2 L1274.5,1012.3 L1275.7,1012.1 L1277.1,1013.5 L1278.5,1013.3 L1279.9,1014.0 L1281.3,1013.7 L1282.6,1014.7 L1283.6,1015.8 L1284.6,1016.7 L1285.8,1017.1 L1287.2,1017.9 L1288.6,1018.6 L1290.0,1018.6 L1291.4,1019.0 L1292.8,1018.9 L1294.2,1018.9 L1295.6,1019.5 L1297.0,1019.9 L1298.4,1019.8 L1299.8,1019.7 L1301.2,1020.2 L1302.6,1019.7 L1304.0,1020.5 L1305.4,1020.9 L1306.8,1020.6 L1308.2,1020.6 L1309.5,1021.2 L1310.7,1022.2 L1312.0,1022.7 L1312.4,1022.5 L1313.6,1021.7 L1314.6,1020.6 L1315.8,1019.6 L1317.2,1020.0 L1318.7,1020.0 L1320.2,1019.9 L1321.7,1020.0 L1323.1,1019.6 L1324.5,1020.1 L1325.9,1020.9 L1327.3,1021.3 L1328.2,1021.2 L1329.6,1021.2 L1331.0,1020.4 L1332.4,1019.4 L1333.7,1020.0 L1335.0,1019.0 L1336.3,1017.8 L1337.5,1016.4 L1338.6,1015.7 L1339.7,1015.2 L1340.8,1014.0 L1341.9,1012.8 L1342.9,1011.9 L1343.9,1011.0 L1344.9,1010.3 L1345.9,1009.2 L1347.0,1008.0 L1348.1,1007.1 L1349.2,1005.6 L1350.2,1004.8 L1351.0,1003.8 L1351.6,1002.3 L1352.1,1000.8 L1352.5,999.5 L1353.0,997.5 L1353.6,995.9 L1354.6,995.6 L1355.8,994.5 L1356.0,994.6 L1357.4,995.5 L1358.6,995.4 L1359.7,996.5 L1360.8,997.8 L1361.9,998.4 L1362.9,999.7 L1363.8,1001.2 L1364.6,1002.3 L1365.2,1003.9 L1365.7,1005.5 L1366.2,1007.0 L1366.7,1008.5 L1367.2,1009.8 L1367.9,1011.3 L1368.7,1012.9 L1369.6,1014.4 L1370.5,1014.8 L1371.5,1016.4 L1372.6,1017.4 L1373.7,1018.0 L1374.8,1018.9 L1376.0,1019.5 L1377.2,1020.5 L1378.4,1021.3 L1379.7,1022.3 L1381.0,1022.3 L1382.3,1023.0 L1383.6,1023.7 L1385.0,1024.2 L1386.4,1024.8 L1387.8,1024.7 L1389.2,1025.3 L1390.6,1025.3 L1392.0,1025.9 L1393.3,1026.3 L1394.6,1026.8 L1395.9,1027.1 L1397.3,1027.9 L1398.7,1028.0 L1400.1,1028.1 L1401.5,1028.4 L1402.9,1027.8 L1404.3,1028.4 L1405.7,1027.9 L1407.1,1028.7 L1408.4,1029.3 L1409.7,1029.9 L1411.1,1030.1 L1412.5,1030.2 L1413.9,1030.7 L1415.3,1030.4 L1416.7,1030.7 L1418.1,1030.9 L1419.5,1030.8 L1419.7,1030.9 L1421.1,1030.2 L1422.5,1030.9 L1423.9,1030.4 L1425.3,1030.4 L1426.7,1030.5 L1428.1,1031.4 L1429.5,1031.5 L1430.9,1031.5 L1432.3,1031.3 L1433.8,1031.4 L1435.3,1031.5 L1436.8,1032.1 L1438.2,1031.6 L1439.7,1031.9 L1441.2,1031.4 L1442.6,1031.7 L1444.0,1032.3 L1445.4,1032.5 L1446.8,1033.1 L1448.2,1033.4 L1449.0,1033.2 L1450.4,1032.4 L1451.8,1032.6 L1453.2,1032.3 L1454.6,1032.1 L1455.8,1031.9 L1457.2,1032.1 L1458.6,1031.8 L1460.0,1032.3 L1461.4,1032.6 L1462.8,1032.6 L1464.2,1032.7 L1464.9,1032.9 L1466.3,1032.8 L1467.7,1033.1 L1469.1,1032.7 L1470.5,1033.3 L1471.9,1032.9 L1473.3,1032.5 L1474.7,1032.3 L1476.1,1032.5 L1477.5,1033.0 L1478.9,1032.7 L1480.3,1032.5 L1481.7,1033.6 L1483.1,1032.6 L1484.5,1032.9 L1485.9,1032.7 L1487.3,1033.7 L1488.7,1033.5 L1490.2,1032.9 L1491.7,1032.7 L1493.1,1033.0 L1494.6,1032.9 L1496.1,1032.9 L1497.6,1033.4 L1499.0,1033.4 L1500.4,1033.2 L1501.5,1032.9" fill="none" stroke="#FF0000" stroke-width="3.1" stroke-linejoin="round" stroke-linecap="butt"/>
<path d="M161.5,654.5 L162.9,654.0 L164.3,654.3 L165.7,653.6 L167.1,653.8 L168.5,653.5 L169.9,653.2 L171.3,652.5 L172.7,652.3 L174.1,652.2 L175.5,651.8 L176.9,651.2 L178.3,650.9 L179.7,650.7 L181.1,650.7 L182.5,650.4 L183.8,647.8 L185.1,648.1 L186.4,647.7 L187.8,647.7 L188.2,647.7 L189.6,648.9 L190.9,647.8 L192.2,649.8 L193.5,650.1 L194.8,650.4 L196.1,649.8 L197.5,650.5 L198.9,649.9 L200.3,649.3 L201.7,649.1 L203.1,648.6 L204.5,648.5 L205.9,647.9 L207.3,647.8 L208.7,647.7 L210.1,646.6 L211.5,647.1 L211.9,646.8 L213.3,647.5 L214.5,647.4 L215.7,649.2 L216.5,648.9 L217.9,648.4 L219.3,648.8 L220.7,648.8 L222.1,648.0 L223.5,648.7 L224.9,648.3 L226.3,648.7 L227.7,647.5 L229.1,648.7 L230.5,647.9 L231.9,647.9 L233.3,648.2 L234.7,648.3 L236.1,647.2 L237.5,647.6 L238.9,647.6 L240.3,647.3 L241.5,645.3 L242.6,644.8 L243.8,645.0 L245.1,643.8 L245.8,643.4 L247.2,644.0 L248.6,644.5 L250.0,645.1 L251.4,645.2 L252.8,645.8 L254.2,645.2 L255.6,645.9 L257.1,645.5 L258.6,646.1 L260.1,646.1 L261.6,645.9 L263.1,646.6 L264.6,646.1 L266.1,645.2 L267.6,646.9 L269.0,645.6 L270.3,645.1 L271.5,644.2 L272.8,644.1 L274.2,643.6 L275.6,643.2 L277.0,643.3 L278.4,643.8 L279.8,643.8 L281.2,642.1 L282.6,643.8 L284.0,643.7 L285.4,642.1 L286.6,642.1 L287.7,640.5 L288.9,639.8 L289.9,639.9 L291.3,639.9 L292.7,640.5 L294.1,640.4 L295.5,641.0 L296.9,641.1 L297.7,641.3 L299.1,640.3 L300.2,640.4 L301.2,639.1 L302.1,637.7 L303.1,636.8 L304.2,635.5 L305.4,634.7 L306.7,634.4 L308.0,633.2 L309.3,633.2 L310.6,632.0 L311.9,631.2 L313.2,630.7 L314.4,631.1 L315.6,628.8 L316.8,628.2 L317.9,626.8 L319.0,627.0 L320.1,625.9 L321.3,624.6 L322.5,624.3 L323.7,623.6 L324.8,622.9 L325.9,622.0 L326.9,620.2 L327.9,618.9 L328.8,617.9 L329.7,616.7 L330.5,615.4 L331.2,614.1 L331.9,612.6 L332.4,611.3 L332.9,609.2 L333.3,607.3 L333.7,605.7 L334.0,604.8 L334.3,603.7 L334.6,602.4 L334.9,600.4 L335.2,598.3 L335.4,596.5 L335.6,594.6 L335.8,592.6 L336.0,590.4 L336.2,588.2 L336.4,585.8 L336.6,583.6 L336.8,581.6 L337.0,579.6 L337.2,577.7 L337.4,576.0 L337.6,574.2 L337.8,572.4 L338.0,570.6 L338.2,568.8 L338.4,567.0 L338.6,565.1 L338.8,563.0 L339.0,560.8 L339.2,558.6 L339.4,556.2 L339.6,553.8 L339.8,551.0 L339.9,549.5 L340.0,548.0 L340.1,546.4 L340.2,544.8 L340.3,543.1 L340.4,541.4 L340.5,539.7 L340.6,537.9 L340.7,536.2 L340.8,534.4 L340.9,532.7 L341.0,531.0 L341.1,529.4 L341.2,527.8 L341.3,526.2 L341.4,524.7 L341.6,522.3 L341.8,520.5 L342.0,518.9 L342.2,517.4 L342.4,516.0 L342.6,514.3 L342.8,512.4 L343.0,510.6 L343.2,508.8 L343.4,507.1 L343.7,504.8 L344.0,502.7 L344.3,500.7 L344.6,498.8 L344.9,497.2 L345.2,495.7 L345.5,494.3 L345.9,492.8 L346.4,491.5 L347.0,490.4 L347.6,491.4 L347.9,493.1 L348.2,495.1 L348.5,497.5 L348.7,498.8 L348.9,500.2 L349.1,501.6 L349.3,502.9 L349.5,504.4 L349.7,506.4 L349.9,508.5 L350.1,510.7 L350.3,513.1 L350.5,515.6 L350.7,518.0 L350.9,520.5 L351.1,523.0 L351.3,525.6 L351.5,528.2 L351.6,529.4 L351.7,530.7 L351.8,532.1 L351.9,533.6 L352.0,535.1 L352.1,536.7 L352.2,538.4 L352.3,540.0 L352.4,541.8 L352.5,543.5 L352.6,545.6 L352.7,547.7 L352.8,549.8 L352.9,551.8 L353.0,553.8 L353.1,555.8 L353.2,557.7 L353.3,559.5 L353.4,561.2 L353.5,562.8 L353.7,565.2 L353.9,567.1 L354.1,568.9 L354.3,570.5 L354.5,572.1 L354.7,574.0 L354.9,575.9 L355.1,577.7 L355.3,579.4 L355.6,581.8 L355.9,583.6 L356.2,585.5 L356.5,587.3 L356.8,589.4 L357.1,591.4 L357.4,593.3 L357.7,594.9 L358.0,596.2 L358.3,597.4 L358.7,599.3 L359.1,601.6 L359.5,603.8 L359.9,605.2 L360.4,606.8 L360.9,607.5 L361.5,607.9 L362.1,609.7 L362.8,611.3 L363.5,612.2 L364.3,613.8 L365.3,614.3 L366.7,616.3 L368.1,615.5 L369.5,616.3 L370.9,616.0 L372.3,616.3 L373.6,617.0 L374.9,617.4 L376.2,618.5 L377.5,619.0 L378.9,619.5 L379.0,619.5 L380.4,619.7 L381.8,618.6 L383.1,617.8 L384.4,617.0 L385.7,616.1 L387.0,615.9 L388.3,615.0 L389.6,615.2 L390.9,614.4 L392.2,612.8 L393.5,613.2 L394.7,612.2 L395.8,610.9 L396.9,610.4 L397.9,608.6 L398.8,607.6 L399.7,606.9 L400.6,605.5 L401.5,604.4 L402.3,602.4 L403.1,602.2 L403.9,601.3 L404.7,599.1 L405.5,597.3 L406.3,596.9 L407.0,595.6 L407.7,594.1 L408.4,593.0 L409.1,591.4 L409.8,589.9 L410.4,588.7 L411.0,587.5 L411.6,586.2 L412.2,584.5 L412.8,583.1 L413.4,582.1 L414.0,580.3 L414.5,578.7 L415.0,577.2 L415.5,575.6 L416.0,574.4 L416.5,573.1 L417.0,571.5 L417.4,570.2 L417.8,568.7 L418.2,567.1 L418.6,565.4 L419.0,563.7 L419.4,561.9 L419.8,560.5 L420.2,559.2 L420.6,557.6 L421.0,555.2 L421.3,553.4 L421.6,551.7 L421.9,550.4 L422.2,549.0 L422.5,547.6 L422.8,546.2 L423.1,544.7 L423.4,543.3 L423.7,541.5 L424.0,539.5 L424.3,537.4 L424.6,535.5 L424.9,533.7 L425.2,531.9 L425.4,530.7 L425.6,529.3 L425.8,527.9 L426.0,526.4 L426.2,524.8 L426.4,523.3 L426.6,521.8 L426.8,520.3 L427.0,518.8 L427.2,517.3 L427.4,515.8 L427.6,514.1 L427.8,512.2 L428.0,510.3 L428.2,508.3 L428.4,506.3 L428.6,504.3 L428.8,502.5 L429.0,500.6 L429.2,498.7 L429.4,496.8 L429.6,494.9 L429.8,493.1 L430.0,491.3 L430.2,489.4 L430.4,487.7 L430.6,485.7 L430.8,483.5 L431.0,481.3 L431.2,479.2 L431.4,477.1 L431.6,475.5 L431.8,474.4 L432.0,473.3 L432.2,472.2 L432.4,471.1 L432.6,469.5 L432.8,467.3 L433.0,465.1 L433.2,462.9 L433.4,460.8 L433.6,458.8 L433.8,457.1 L434.0,455.4 L434.2,453.8 L434.4,452.1 L434.6,450.5 L434.8,449.0 L435.0,447.5 L435.2,446.0 L435.4,444.5 L435.6,442.9 L435.8,441.1 L436.0,439.4 L436.2,437.6 L436.4,435.9 L436.6,434.2 L436.8,432.4 L437.0,430.6 L437.2,428.9 L437.4,427.3 L437.6,425.9 L437.9,424.2 L438.1,423.1 L438.3,422.0 L438.5,420.9 L438.7,419.5 L438.9,418.2 L439.2,416.2 L439.5,414.2 L439.8,412.1 L440.1,410.2 L440.4,408.3 L440.7,406.9 L441.1,405.4 L441.6,404.0 L442.3,403.0 L443.1,401.2 L443.7,399.6 L444.1,398.5 L444.4,396.6 L444.6,394.6 L444.8,392.3 L445.0,389.9 L445.2,387.9 L445.4,386.2 L446.0,384.7 L447.3,383.4 L448.7,383.4 L449.7,382.2 L450.4,381.8 L451.1,380.1 L451.8,378.6 L452.5,377.6 L453.3,375.9 L454.0,374.7 L454.8,373.3 L455.8,372.5 L457.1,374.2 L458.1,374.8 L458.9,375.4 L459.6,376.7 L460.1,378.5 L460.5,380.1 L460.9,381.4 L461.5,382.7 L462.5,383.7 L463.7,385.1 L464.7,386.1 L465.4,388.1 L466.0,389.3 L466.5,390.4 L467.0,392.1 L467.4,393.6 L467.8,395.2 L468.2,396.8 L468.6,398.4 L469.0,399.8 L469.4,401.3 L469.7,402.8 L470.0,404.6 L470.3,406.4 L470.6,408.0 L470.9,409.1 L471.2,410.2 L471.5,411.3 L471.8,412.8 L472.1,414.2 L472.4,415.6 L472.7,417.1 L473.0,418.7 L473.3,420.2 L473.6,421.8 L473.9,423.3 L474.2,424.9 L474.5,426.4 L474.8,427.7 L475.1,429.0 L475.4,430.3 L475.7,432.0 L476.0,433.7 L476.3,435.6 L476.6,437.3 L476.9,438.7 L477.2,440.2 L477.5,441.7 L477.8,444.0 L478.1,446.2 L478.4,448.5 L478.7,450.0 L479.0,451.2 L479.4,452.5 L479.8,453.7 L480.3,455.0 L480.9,456.5 L481.5,457.8 L482.1,459.4 L482.7,461.1 L483.2,462.7 L483.6,464.1 L484.0,465.4 L484.4,466.8 L484.8,468.4 L485.2,470.1 L485.6,471.7 L486.0,473.4 L486.4,474.9 L486.9,476.4 L487.5,477.6 L488.2,479.5 L488.9,481.1 L489.8,482.2 L490.8,482.4 L492.2,481.4 L493.5,481.6 L494.2,481.2 L495.2,482.4 L495.8,484.2 L496.3,486.0 L496.8,487.0 L497.3,487.3 L497.8,488.8 L498.3,491.1 L498.7,492.7 L499.1,493.9 L499.5,495.0 L499.9,496.9 L500.4,499.0 L500.9,500.1 L501.5,500.7 L502.1,502.3 L502.8,504.1 L503.5,505.6 L504.3,507.1 L505.2,508.1 L506.3,508.6 L507.5,509.4 L508.8,510.9 L510.0,510.9 L510.9,512.2 L511.6,514.4 L512.2,515.5 L512.8,517.0 L513.4,518.6 L514.0,519.6 L514.6,520.7 L515.3,522.5 L516.2,523.1 L517.2,524.4 L518.3,525.1 L519.4,526.6 L520.3,528.0 L521.0,528.7 L521.6,529.5 L522.2,531.3 L522.7,532.9 L523.2,534.3 L523.7,535.9 L524.2,537.6 L524.8,539.2 L525.4,540.5 L526.0,541.4 L526.6,542.4 L527.2,544.5 L527.8,546.3 L528.4,547.7 L529.0,549.4 L529.7,550.7 L530.5,550.1 L531.4,551.9 L532.5,554.1 L533.6,553.4 L534.7,554.7 L535.7,556.6 L536.6,558.0 L537.3,558.5 L538.0,560.1 L538.6,561.7 L539.2,562.9 L539.8,564.4 L540.5,566.4 L541.2,567.1 L541.9,568.3 L542.6,569.8 L543.4,570.3 L544.1,571.6 L544.8,573.1 L545.5,574.4 L546.2,576.2 L546.8,577.7 L547.4,578.9 L548.0,580.1 L548.5,581.0 L549.1,583.0 L549.7,584.7 L550.4,586.0 L551.3,586.7 L552.4,587.5 L553.6,588.3 L554.9,588.7 L556.2,590.1 L557.5,590.2 L558.8,591.5 L560.1,591.5 L561.5,592.3 L562.9,593.2 L564.3,593.1 L565.7,593.6 L567.1,593.7 L568.5,592.7 L569.9,592.7 L571.3,592.9 L572.2,593.0 L573.6,592.4 L574.8,592.8 L575.9,591.4 L577.0,590.2 L578.1,589.4 L579.3,588.2 L580.5,587.5 L581.8,586.8 L583.1,586.3 L584.3,585.1 L585.4,584.8 L586.4,582.9 L587.2,581.9 L587.9,580.8 L588.6,579.4 L589.2,578.5 L589.8,576.9 L590.4,574.8 L591.0,574.0 L591.6,573.2 L592.2,571.3 L592.8,569.6 L593.4,568.1 L594.0,566.6 L594.6,565.1 L595.2,564.0 L595.8,562.7 L596.4,560.9 L596.9,559.3 L597.4,557.6 L597.9,555.9 L598.3,554.6 L598.7,553.3 L599.2,551.8 L599.7,550.4 L600.3,548.8 L601.0,548.1 L601.7,547.4 L602.5,546.2 L603.4,544.7 L604.5,543.5 L605.0,543.2 L606.4,543.7 L607.5,545.2 L608.5,547.2 L609.4,547.7 L610.3,548.4 L611.1,549.5 L611.8,550.8 L612.4,552.0 L613.0,553.3 L613.6,554.7 L614.2,556.4 L614.8,558.1 L615.4,559.7 L616.0,561.6 L616.6,563.5 L617.2,564.3 L617.8,565.7 L618.4,567.7 L619.0,569.5 L619.6,571.1 L620.1,571.9 L620.6,573.1 L621.1,575.1 L621.6,577.0 L622.1,578.3 L622.6,579.6 L623.1,580.8 L623.6,582.0 L624.1,583.6 L624.7,585.1 L625.4,586.3 L626.2,587.4 L627.1,588.6 L628.0,589.9 L629.0,591.1 L630.1,591.7 L631.3,592.5 L632.7,592.5 L634.1,593.8 L635.5,593.9 L636.9,594.4 L638.2,594.6 L639.3,595.5 L639.9,597.3 L640.4,599.2 L640.8,600.8 L641.2,602.3 L641.7,603.8 L642.5,604.6 L643.7,606.5 L645.0,606.1 L646.4,607.1 L647.8,606.7 L649.1,607.0 L650.3,608.5 L651.4,610.3 L652.4,610.9 L653.4,611.8 L654.5,612.5 L655.7,613.6 L657.0,613.8 L658.3,615.1 L659.6,615.0 L661.0,616.1 L661.5,615.1 L662.9,615.1 L664.3,615.8 L665.7,614.5 L667.0,614.6 L668.3,613.8 L669.5,612.0 L670.6,611.6 L671.7,611.5 L672.9,609.4 L674.3,609.7 L675.8,610.2 L677.3,610.2 L678.8,609.6 L680.3,610.2 L681.7,609.2 L683.1,610.7 L684.5,608.6 L685.8,608.8 L687.1,607.6 L688.0,605.7 L688.5,604.2 L689.0,602.7 L689.4,601.5 L689.8,600.3 L690.3,599.1 L691.0,598.0 L692.0,597.2 L693.1,596.6 L694.3,594.9 L695.5,595.1 L696.7,594.9 L697.8,593.4 L698.8,592.1 L699.8,590.9 L701.0,589.8 L702.1,589.6 L703.5,589.6 L704.9,590.4 L706.3,589.6 L707.7,590.4 L709.1,589.8 L710.4,589.0 L711.7,588.2 L713.0,587.9 L714.4,588.3 L715.8,587.4 L717.2,586.5 L718.6,586.2 L720.0,585.8 L721.3,586.3 L722.7,586.2 L724.1,586.0 L725.5,586.3 L726.9,587.3 L728.3,585.2 L729.5,585.5 L730.7,585.5 L731.4,584.8 L732.7,585.4 L733.6,586.0 L734.4,586.2 L735.2,587.4 L736.1,588.8 L737.0,590.3 L737.9,591.9 L738.8,593.2 L739.7,594.4 L740.6,595.2 L741.4,597.0 L742.2,597.9 L743.0,598.9 L743.8,600.4 L744.6,602.3 L745.4,602.7 L746.2,603.0 L747.1,604.5 L748.0,606.4 L748.9,607.1 L749.8,607.6 L750.8,609.8 L751.9,610.6 L753.0,611.1 L754.2,612.3 L755.4,613.3 L756.5,615.3 L757.5,615.8 L758.5,615.8 L759.5,617.3 L760.6,619.2 L761.9,620.1 L763.3,620.0 L764.7,621.1 L766.1,620.5 L767.5,620.2 L768.8,621.8 L770.1,622.3 L771.4,622.9 L772.7,623.1 L774.0,624.7 L775.3,624.9 L776.6,625.9 L778.0,626.4 L779.4,627.5 L780.8,627.3 L782.2,627.3 L783.6,627.7 L785.0,628.5 L786.4,630.1 L787.8,629.5 L789.2,628.6 L790.6,629.7 L792.0,628.3 L793.4,629.8 L794.7,629.5 L796.0,630.4 L796.9,630.9 L798.2,630.5 L799.3,629.5 L800.4,628.7 L801.5,627.9 L802.9,628.2 L804.3,627.5 L805.7,627.5 L807.1,628.2 L808.5,629.6 L809.4,629.2 L810.8,628.5 L812.2,628.3 L813.6,628.2 L815.0,627.5 L816.4,627.5 L817.8,627.5 L819.2,626.5 L820.6,625.4 L822.0,626.0 L823.4,624.6 L824.8,626.0 L825.2,626.4 L826.6,626.0 L828.0,626.8 L829.4,625.8 L830.8,627.4 L832.2,626.0 L833.3,626.0 L834.4,625.0 L835.5,623.4 L836.7,623.2 L837.6,622.3 L839.0,622.7 L840.4,623.3 L841.8,623.1 L843.2,623.8 L844.5,623.7 L845.5,621.3 L846.4,620.3 L847.3,619.7 L848.2,617.2 L849.2,616.2 L850.3,616.5 L851.4,615.5 L852.5,614.8 L853.6,613.2 L854.7,612.7 L855.8,611.1 L857.0,609.8 L858.1,609.2 L859.2,608.6 L860.4,607.6 L861.6,605.0 L862.8,605.2 L864.0,605.2 L865.2,604.2 L866.4,603.0 L867.6,601.5 L868.8,602.3 L870.0,601.0 L871.2,601.0 L872.4,599.5 L873.7,598.4 L875.1,597.7 L876.5,597.8 L877.9,597.4 L879.3,597.4 L880.6,597.2 L881.9,595.7 L883.1,594.6 L884.2,593.1 L885.3,592.2 L886.4,591.0 L887.5,591.2 L888.6,590.2 L889.7,589.2 L890.8,587.6 L891.9,586.6 L893.0,585.3 L894.2,585.0 L895.5,584.4 L896.8,583.1 L898.1,582.3 L899.5,582.2 L900.9,581.7 L901.0,581.7 L902.4,581.9 L903.6,583.9 L904.8,584.7 L906.1,585.3 L907.5,584.2 L909.0,584.5 L910.5,585.3 L912.0,585.5 L913.4,584.8 L914.8,585.4 L916.2,585.4 L917.5,586.7 L918.8,587.1 L920.2,587.4 L921.6,588.3 L923.0,588.3 L924.3,589.6 L925.6,590.3 L926.8,591.3 L928.0,590.9 L929.0,592.7 L929.7,594.7 L930.4,596.2 L931.1,597.0 L931.8,597.9 L932.6,598.9 L933.5,600.7 L934.5,600.8 L935.6,602.6 L936.7,602.8 L937.8,604.4 L938.9,605.1 L939.9,607.3 L940.8,608.7 L941.7,609.3 L942.6,610.8 L943.5,611.2 L944.5,612.2 L945.5,612.8 L946.5,615.4 L947.5,615.8 L948.6,617.6 L949.8,617.0 L951.2,617.7 L952.7,618.6 L954.2,617.8 L955.6,617.1 L956.7,618.2 L957.6,620.8 L958.5,621.2 L959.6,621.8 L961.0,621.8 L962.4,621.8 L963.8,623.6 L965.2,623.4 L966.6,622.9 L968.1,624.1 L969.6,622.7 L971.1,623.2 L972.6,623.6 L974.0,623.3 L975.4,622.8 L976.8,623.0 L978.2,622.8 L979.6,622.8 L981.0,622.5 L982.4,622.0 L983.6,621.9 L984.6,620.2 L985.7,619.3 L987.0,619.2 L988.5,618.9 L990.0,618.5 L991.5,619.1 L992.9,619.4 L994.1,617.6 L995.1,616.7 L996.1,615.6 L997.2,614.6 L998.5,614.2 L999.9,613.6 L1001.3,613.4 L1002.7,613.4 L1004.1,613.4 L1004.8,613.5 L1006.2,612.4 L1007.6,613.0 L1009.0,612.7 L1010.4,614.3 L1011.8,615.0 L1013.1,615.4 L1014.2,616.1 L1015.4,617.1 L1016.7,618.4 L1017.3,618.6 L1018.7,617.9 L1020.1,618.3 L1021.5,616.9 L1022.9,617.2 L1024.3,617.0 L1025.1,616.5 L1026.5,617.7 L1027.8,617.7 L1029.1,618.9 L1030.4,618.0 L1031.8,618.3 L1031.9,618.3 L1033.1,617.9 L1034.0,616.9 L1034.8,615.6 L1035.7,614.3 L1036.9,613.3 L1038.3,613.9 L1039.7,612.3 L1041.1,612.8 L1042.5,612.5 L1043.9,612.6 L1045.2,612.5 L1046.4,611.3 L1047.4,609.4 L1048.4,609.8 L1049.3,608.0 L1050.2,606.3 L1051.1,605.1 L1052.0,604.0 L1052.9,603.4 L1053.8,602.7 L1054.6,600.8 L1055.4,599.5 L1056.2,597.4 L1057.0,596.6 L1057.8,595.8 L1058.5,593.8 L1059.2,592.4 L1059.9,591.5 L1060.7,590.6 L1061.6,588.7 L1062.7,588.7 L1064.0,587.4 L1065.4,587.0 L1066.8,586.0 L1068.1,586.4 L1069.2,584.8 L1070.2,584.7 L1071.2,583.3 L1072.3,581.6 L1073.6,581.7 L1075.0,581.1 L1076.4,580.9 L1077.8,580.3 L1079.2,580.4 L1080.5,579.2 L1081.8,578.9 L1083.0,577.3 L1084.1,577.4 L1085.0,576.2 L1085.8,574.5 L1086.5,573.8 L1087.2,571.9 L1087.9,570.3 L1088.7,568.9 L1089.8,568.3 L1091.1,567.6 L1092.5,566.7 L1093.9,566.3 L1094.0,566.2 L1095.3,567.4 L1096.3,568.7 L1097.3,570.1 L1098.3,570.0 L1099.6,571.9 L1099.7,571.8 L1100.9,570.4 L1101.8,569.0 L1102.6,568.4 L1103.3,567.5 L1104.1,566.1 L1105.0,564.8 L1106.1,564.1 L1106.5,564.1 L1107.9,564.0 L1109.3,562.8 L1110.7,563.7 L1111.0,563.9 L1112.4,563.4 L1113.7,563.3 L1114.8,562.3 L1115.9,561.4 L1116.9,560.2 L1117.7,558.1 L1118.3,557.5 L1118.9,555.9 L1119.4,554.2 L1119.9,552.6 L1120.4,551.1 L1120.9,550.0 L1121.4,549.0 L1122.0,547.2 L1122.6,545.5 L1123.2,544.8 L1123.8,543.4 L1124.5,541.1 L1125.1,540.2 L1125.7,539.0 L1126.3,537.3 L1126.8,536.0 L1127.3,534.8 L1127.8,533.3 L1128.3,531.7 L1128.8,529.9 L1129.2,528.3 L1129.6,526.8 L1130.0,525.7 L1130.4,524.4 L1130.7,522.9 L1131.0,521.1 L1131.3,519.2 L1131.6,517.3 L1131.9,515.7 L1132.2,514.0 L1132.5,512.4 L1132.8,511.0 L1133.1,509.6 L1133.4,508.3 L1133.7,506.8 L1134.0,505.3 L1134.3,503.8 L1134.6,502.3 L1134.9,500.7 L1135.2,499.2 L1135.5,497.6 L1135.8,496.0 L1136.1,494.3 L1136.4,492.5 L1136.7,490.9 L1137.0,489.4 L1137.3,487.7 L1137.5,486.4 L1137.7,484.5 L1137.9,482.5 L1138.1,480.4 L1138.3,478.3 L1138.5,476.2 L1138.7,474.6 L1138.9,472.9 L1139.1,471.2 L1139.3,469.6 L1139.5,468.0 L1139.7,466.3 L1139.9,464.6 L1140.1,463.0 L1140.3,461.5 L1140.5,460.1 L1140.7,458.9 L1141.0,457.2 L1141.3,455.5 L1141.6,453.8 L1141.9,451.8 L1142.2,449.7 L1142.5,447.7 L1142.8,445.9 L1143.1,444.1 L1143.4,442.2 L1143.6,440.8 L1143.8,439.3 L1144.0,437.8 L1144.2,436.3 L1144.4,434.7 L1144.6,433.1 L1144.8,431.4 L1145.0,429.6 L1145.2,427.8 L1145.4,426.1 L1145.6,424.3 L1145.8,422.6 L1146.0,420.9 L1146.2,419.2 L1146.4,417.4 L1146.6,415.8 L1146.8,414.1 L1147.0,412.5 L1147.2,410.9 L1147.4,409.2 L1147.6,407.7 L1147.8,406.4 L1148.0,405.1 L1148.2,403.8 L1148.4,402.5 L1148.6,400.9 L1148.8,399.0 L1149.0,397.2 L1149.2,395.4 L1149.4,393.7 L1149.6,392.0 L1149.8,390.4 L1150.0,388.9 L1150.2,387.5 L1150.5,385.4 L1150.8,383.4 L1151.1,381.4 L1151.4,379.5 L1151.7,377.7 L1152.0,376.1 L1152.3,374.5 L1152.6,373.0 L1152.9,371.5 L1153.2,370.0 L1153.5,368.6 L1153.8,367.2 L1154.2,365.4 L1154.6,363.5 L1155.0,361.2 L1155.4,359.1 L1155.8,358.0 L1156.3,357.3 L1156.8,356.1 L1157.3,354.6 L1157.9,353.3 L1158.6,352.2 L1159.5,351.4 L1160.8,352.4 L1161.7,353.3 L1162.4,354.9 L1163.1,355.2 L1163.7,355.9 L1164.3,358.0 L1164.7,360.1 L1165.0,362.0 L1165.3,364.2 L1165.6,366.0 L1165.9,367.2 L1166.2,368.4 L1166.5,369.5 L1166.8,371.1 L1167.2,372.9 L1167.7,374.5 L1168.3,376.2 L1169.0,377.1 L1169.8,378.3 L1170.6,380.0 L1171.5,380.0 L1172.4,380.9 L1173.3,382.4 L1174.2,383.5 L1175.1,385.1 L1176.0,386.5 L1176.9,387.7 L1177.8,388.8 L1178.7,389.9 L1179.5,392.9 L1180.3,392.8 L1181.3,393.6 L1182.4,394.4 L1183.8,393.5 L1184.9,392.5 L1185.9,392.0 L1186.9,391.2 L1188.0,390.2 L1189.2,388.7 L1190.3,387.5 L1191.5,388.3 L1192.8,386.4 L1193.7,386.6 L1195.1,387.2 L1196.4,386.4 L1197.7,387.4 L1199.0,388.2 L1200.3,387.7 L1201.7,389.1 L1203.0,389.3 L1204.3,391.0 L1205.5,391.8 L1206.6,391.8 L1207.5,394.2 L1208.2,394.6 L1208.9,395.6 L1209.5,396.8 L1210.1,398.3 L1210.7,399.9 L1211.3,401.5 L1211.9,403.3 L1212.4,405.0 L1212.9,406.7 L1213.4,408.4 L1213.9,409.4 L1214.3,410.1 L1214.7,411.4 L1215.1,413.3 L1215.5,415.2 L1215.9,417.2 L1216.3,419.1 L1216.7,420.9 L1217.1,422.4 L1217.5,424.0 L1217.8,425.5 L1218.1,427.0 L1218.4,428.5 L1218.7,429.9 L1219.0,431.1 L1219.3,432.4 L1219.6,434.0 L1219.9,436.1 L1220.2,438.3 L1220.5,440.4 L1220.8,441.7 L1221.1,442.9 L1221.4,444.2 L1221.7,446.0 L1222.0,448.1 L1222.3,450.2 L1222.6,452.3 L1222.9,454.3 L1223.2,456.4 L1223.5,458.4 L1223.8,460.4 L1224.1,462.3 L1224.4,464.4 L1224.7,466.2 L1225.0,468.0 L1225.2,469.3 L1225.4,470.5 L1225.6,471.9 L1225.8,473.3 L1226.0,474.8 L1226.2,476.2 L1226.5,478.3 L1226.8,480.1 L1227.1,481.7 L1227.4,483.2 L1227.7,484.8 L1228.0,486.4 L1228.3,487.9 L1228.6,489.5 L1228.9,491.1 L1229.3,493.3 L1229.7,495.1 L1230.1,496.6 L1230.5,498.1 L1230.8,499.5 L1231.1,500.9 L1231.4,502.4 L1231.7,503.7 L1232.0,504.9 L1232.3,506.2 L1232.6,507.7 L1232.9,509.5 L1233.2,511.3 L1233.5,513.1 L1233.8,514.7 L1234.1,516.3 L1234.4,517.9 L1234.7,519.3 L1235.0,520.5 L1235.3,521.7 L1235.6,523.0 L1235.9,524.5 L1236.2,526.0 L1236.5,527.4 L1236.8,529.2 L1237.1,531.0 L1237.4,532.7 L1237.7,534.1 L1238.0,535.2 L1238.3,536.3 L1238.6,537.5 L1238.9,538.8 L1239.2,540.2 L1239.5,541.5 L1239.8,542.7 L1240.1,544.0 L1240.4,545.2 L1240.7,546.6 L1241.0,548.1 L1241.3,549.6 L1241.6,551.1 L1241.9,552.6 L1242.2,554.0 L1242.5,555.5 L1242.8,557.3 L1243.1,559.1 L1243.4,560.9 L1243.7,562.3 L1244.0,563.5 L1244.3,564.6 L1244.6,565.9 L1245.0,568.2 L1245.4,570.4 L1245.8,571.4 L1246.3,572.1 L1246.8,573.3 L1247.4,575.1 L1248.0,576.9 L1248.6,578.5 L1249.2,579.5 L1249.8,580.5 L1250.4,581.7 L1251.0,583.3 L1251.6,584.9 L1252.2,586.4 L1252.8,587.5 L1253.4,588.0 L1254.0,589.6 L1254.6,591.3 L1255.2,592.7 L1255.9,594.1 L1256.5,595.3 L1257.1,597.1 L1257.7,598.5 L1258.3,599.4 L1258.9,600.6 L1259.6,602.2 L1260.3,603.6 L1261.1,605.2 L1262.1,606.1 L1263.2,607.6 L1264.4,607.5 L1265.6,609.4 L1266.8,609.2 L1267.9,610.5 L1269.0,612.1 L1270.1,613.1 L1271.2,613.2 L1272.3,614.7 L1273.4,615.1 L1274.5,615.5 L1275.6,617.1 L1276.7,617.9 L1277.8,618.9 L1278.9,619.4 L1280.0,620.8 L1281.0,621.8 L1281.9,622.7 L1282.7,623.7 L1283.5,624.7 L1284.3,626.7 L1285.2,627.7 L1286.2,628.8 L1287.4,628.9 L1288.7,628.2 L1289.8,626.8 L1290.8,626.9 L1292.2,627.5 L1293.3,628.6 L1294.4,629.4 L1295.6,630.7 L1297.0,629.6 L1298.5,630.4 L1300.0,629.8 L1301.4,630.5 L1302.8,630.7 L1303.7,631.8 L1304.6,632.7 L1305.8,633.8 L1307.2,634.7 L1308.6,633.7 L1310.0,634.4 L1311.4,633.5 L1312.8,634.2 L1314.2,634.3 L1315.6,635.1 L1317.0,634.5 L1318.4,634.1 L1319.8,635.2 L1321.2,635.2 L1322.6,636.1 L1324.0,636.5 L1324.6,636.9 L1325.9,635.5 L1327.0,635.0 L1328.1,633.6 L1329.2,632.3 L1330.5,634.5 L1331.7,633.7 L1332.6,634.5 L1333.9,634.8 L1335.0,633.3 L1336.0,631.9 L1337.0,631.1 L1338.1,630.6 L1339.4,631.0 L1340.7,628.3 L1342.0,627.8 L1343.2,627.0 L1344.1,626.0 L1344.9,625.2 L1345.6,624.8 L1346.2,622.9 L1346.8,621.0 L1347.4,619.2 L1347.9,617.7 L1348.3,616.4 L1348.7,614.8 L1349.1,613.1 L1349.5,611.4 L1349.9,609.7 L1350.2,608.5 L1350.5,607.2 L1350.8,605.8 L1351.1,604.2 L1351.4,602.5 L1351.7,600.9 L1352.0,599.3 L1352.3,597.6 L1352.6,596.0 L1352.9,594.5 L1353.2,593.0 L1353.5,591.6 L1353.8,590.1 L1354.2,588.3 L1354.6,586.4 L1355.0,584.3 L1355.4,582.3 L1355.8,580.6 L1356.3,578.9 L1357.0,577.8 L1357.4,577.7 L1358.7,579.3 L1359.7,579.7 L1360.5,580.8 L1361.2,582.4 L1361.9,583.5 L1362.4,584.4 L1362.8,585.8 L1363.2,587.7 L1363.5,589.3 L1363.8,591.2 L1364.1,593.1 L1364.4,595.1 L1364.7,596.7 L1365.0,598.2 L1365.3,599.5 L1365.6,600.8 L1365.9,602.3 L1366.2,603.7 L1366.5,605.2 L1366.8,606.9 L1367.1,608.5 L1367.4,610.1 L1367.7,611.5 L1368.1,613.0 L1368.5,614.4 L1368.9,615.7 L1369.4,617.2 L1369.9,618.7 L1370.5,620.3 L1371.1,622.1 L1371.7,623.8 L1372.3,625.2 L1372.8,626.3 L1373.3,627.5 L1373.8,629.0 L1374.3,630.7 L1374.9,632.5 L1375.6,634.2 L1376.5,636.1 L1377.4,635.6 L1378.4,637.2 L1379.5,637.9 L1380.7,639.4 L1382.0,640.3 L1383.3,640.8 L1384.6,640.7 L1386.0,641.3 L1387.4,641.7 L1388.9,642.7 L1390.4,640.9 L1391.8,641.4 L1393.3,640.5 L1394.7,642.0 L1396.1,641.9 L1397.4,643.8 L1398.6,643.1 L1399.8,644.1 L1401.0,645.6 L1402.1,646.2 L1403.2,647.2 L1404.3,648.2 L1405.6,648.7 L1407.0,648.4 L1408.4,648.3 L1409.8,649.3 L1411.2,649.4 L1412.6,650.3 L1413.9,650.3 L1415.2,651.9 L1416.1,651.9 L1417.5,652.2 L1418.9,651.6 L1420.3,650.7 L1421.7,650.0 L1422.9,650.2 L1424.3,651.1 L1425.6,651.5 L1426.8,652.5 L1428.1,653.3 L1429.5,653.4 L1429.7,653.4 L1431.1,653.4 L1432.5,653.2 L1433.9,653.6 L1435.3,652.9 L1436.7,653.5 L1438.1,652.8 L1439.5,653.8 L1440.9,652.0 L1442.4,653.0 L1443.8,651.7 L1445.3,652.9 L1446.7,653.2 L1448.1,652.3 L1449.4,651.8 L1450.0,651.4 L1451.1,652.8 L1451.9,654.4 L1452.8,655.2 L1454.2,654.3 L1455.7,655.6 L1457.2,655.8 L1458.7,655.4 L1460.1,654.9 L1461.5,655.4 L1462.9,655.0 L1464.3,654.3 L1465.7,654.7 L1466.9,653.4 L1468.3,654.1 L1469.5,655.8 L1470.7,656.8 L1471.5,656.9 L1472.9,656.0 L1474.3,656.7 L1475.7,655.8 L1477.1,655.3 L1478.5,654.9 L1479.9,655.2 L1481.3,654.6 L1482.7,653.4 L1484.1,654.6 L1485.5,654.7 L1486.9,654.4 L1487.2,654.5 L1488.6,655.2 L1489.8,655.5 L1491.0,656.1 L1492.3,655.9 L1493.7,656.5 L1495.1,656.7 L1496.5,658.6 L1497.4,658.7 L1498.8,658.2 L1500.2,658.0 L1501.5,656.9" fill="none" stroke="#0000FF" stroke-width="3.1" stroke-linejoin="round" stroke-linecap="butt"/>
<g stroke="#000" stroke-width="6.2" fill="none" stroke-linecap="butt">
<path d="M161.5,18.9 L161.5,2139.9"/>
<path d="M1502.0,18.9 L1502.0,2139.9"/>
<path d="M158.4,22.0 L1505.1,22.0"/>
<path d="M158.4,1412.2 L1505.1,1412.2"/>
<path d="M158.4,1582.9 L1505.1,1582.9"/>
<path d="M158.4,1721.0 L1505.1,1721.0"/>
<path d="M158.4,1858.6 L1505.1,1858.6"/>
<path d="M158.4,1998.5 L1505.1,1998.5"/>
<path d="M158.4,2136.8 L1505.1,2136.8"/>
</g>
<g stroke="#000" stroke-width="5.6" stroke-linecap="round">
<path d="M161.3,2136.8 L161.3,2164.5"/>
<path d="M295.4,2136.8 L295.4,2151"/>
<path d="M429.5,2136.8 L429.5,2164.5"/>
<path d="M563.6,2136.8 L563.6,2151"/>
<path d="M697.7,2136.8 L697.7,2164.5"/>
<path d="M831.8,2136.8 L831.8,2151"/>
<path d="M965.9,2136.8 L965.9,2164.5"/>
<path d="M1100.0,2136.8 L1100.0,2151"/>
<path d="M1234.1,2136.8 L1234.1,2164.5"/>
<path d="M1368.2,2136.8 L1368.2,2151"/>
<path d="M1502.3,2136.8 L1502.3,2164.5"/>
</g>
<rect x="155" y="1995.4" width="6" height="6.2" fill="#000"/>
<path d="M460.4,1583.0 L460.4,1457.6 Q460.4,1454.2 463.8,1454.2 L465.2,1454.2 Q468.6,1454.2 468.6,1457.6 L468.6,1583.0 Z" fill="#000"/>
<path d="M534.1,1583.0 L534.1,1470.4 Q534.1,1467.0 537.5,1467.0 L538.9,1467.0 Q542.3,1467.0 542.3,1470.4 L542.3,1583.0 Z" fill="#000"/>
<path d="M1170.1,1583.0 L1170.1,1535.7 Q1170.1,1532.3 1173.5,1532.3 L1174.3,1532.3 Q1177.8,1532.3 1177.8,1535.7 L1177.8,1583.0 Z" fill="#000"/>
<path d="M1224.2,1583.0 L1224.2,1495.4 Q1224.2,1492.0 1227.7,1492.0 L1229.3,1492.0 Q1232.8,1492.0 1232.8,1495.4 L1232.8,1583.0 Z" fill="#000"/>
<path d="M342.2,1720.6 L342.2,1595.4 Q342.2,1592.0 345.6,1592.0 L346.6,1592.0 Q350.0,1592.0 350.0,1595.4 L350.0,1720.6 Z" fill="#000"/>
<path d="M1354.0,1720.6 L1354.0,1635.0 Q1354.0,1631.6 1357.4,1631.6 L1359.4,1631.6 Q1362.8,1631.6 1362.8,1635.0 L1362.8,1720.6 Z" fill="#000"/>
<path d="M329.4,1858.6 L329.4,1768.6 Q329.4,1765.2 332.8,1765.2 L333.2,1765.2 Q336.6,1765.2 336.6,1768.6 L336.6,1858.6 Z" fill="#000"/>
<path d="M1337.1,1858.6 L1337.1,1733.1 Q1337.1,1729.7 1340.5,1729.7 L1341.1,1729.7 Q1344.5,1729.7 1344.5,1733.1 L1344.5,1858.6 Z" fill="#000"/>
<path d="M558.8,1858.6 L558.8,1857.0 Q558.8,1854.5 561.3,1854.5 L561.3,1854.5 Q563.8,1854.5 563.8,1857.0 L563.8,1858.6 Z" fill="#000"/>
<path d="M215.5,1998.5 L215.5,1984.4 Q215.5,1981.0 218.9,1981.0 L220.4,1981.0 Q223.8,1981.0 223.8,1984.4 L223.8,1998.5 Z" fill="#000"/>
<path d="M317.1,1998.5 L317.1,1984.4 Q317.1,1981.0 320.4,1981.0 L321.9,1981.0 Q325.3,1981.0 325.3,1984.4 L325.3,1998.5 Z" fill="#000"/>
<path d="M442.6,1998.5 L442.6,1985.8 Q442.6,1982.4 445.9,1982.4 L447.4,1982.4 Q450.8,1982.4 450.8,1985.8 L450.8,1998.5 Z" fill="#000"/>
<path d="M448.6,1998.5 L448.6,1870.1 Q448.6,1866.7 451.9,1866.7 L453.4,1866.7 Q456.8,1866.7 456.8,1870.1 L456.8,1998.5 Z" fill="#000"/>
<path d="M473.5,1998.5 L473.5,1935.4 Q473.5,1932.0 476.9,1932.0 L478.4,1932.0 Q481.8,1932.0 481.8,1935.4 L481.8,1998.5 Z" fill="#000"/>
<path d="M515.8,1998.5 L515.8,1914.6 Q515.8,1911.2 519.1,1911.2 L520.6,1911.2 Q524.0,1911.2 524.0,1914.6 L524.0,1998.5 Z" fill="#000"/>
<path d="M603.6,1998.5 L603.6,1941.4 Q603.6,1938.0 607.0,1938.0 L608.5,1938.0 Q611.9,1938.0 611.9,1941.4 L611.9,1998.5 Z" fill="#000"/>
<path d="M684.2,1998.5 L684.2,1970.4 Q684.2,1967.0 687.6,1967.0 L689.1,1967.0 Q692.5,1967.0 692.5,1970.4 L692.5,1998.5 Z" fill="#000"/>
<path d="M724.9,1998.5 L724.9,1953.8 Q724.9,1950.4 728.2,1950.4 L729.8,1950.4 Q733.1,1950.4 733.1,1953.8 L733.1,1998.5 Z" fill="#000"/>
<path d="M920.5,1998.5 L920.5,1958.5 Q920.5,1955.1 923.9,1955.1 L925.4,1955.1 Q928.8,1955.1 928.8,1958.5 L928.8,1998.5 Z" fill="#000"/>
<path d="M928.6,1998.5 L928.6,1948.7 Q928.6,1945.3 932.0,1945.3 L933.5,1945.3 Q936.9,1945.3 936.9,1948.7 L936.9,1998.5 Z" fill="#000"/>
<path d="M990.9,1998.5 L990.9,1976.9 Q990.9,1973.5 994.2,1973.5 L995.8,1973.5 Q999.1,1973.5 999.1,1976.9 L999.1,1998.5 Z" fill="#000"/>
<path d="M1020.6,1998.5 L1020.6,1983.4 Q1020.6,1980.0 1024.0,1980.0 L1025.5,1980.0 Q1028.9,1980.0 1028.9,1983.4 L1028.9,1998.5 Z" fill="#000"/>
<path d="M1095.8,1998.5 L1095.8,1954.7 Q1095.8,1951.3 1099.2,1951.3 L1100.8,1951.3 Q1104.2,1951.3 1104.2,1954.7 L1104.2,1998.5 Z" fill="#000"/>
<path d="M1141.8,1998.5 L1141.8,1881.4 Q1141.8,1878.0 1145.2,1878.0 L1146.8,1878.0 Q1150.2,1878.0 1150.2,1881.4 L1150.2,1998.5 Z" fill="#000"/>
<path d="M1175.2,1998.5 L1175.2,1983.4 Q1175.2,1980.0 1178.7,1980.0 L1180.2,1980.0 Q1183.6,1980.0 1183.6,1983.4 L1183.6,1998.5 Z" fill="#000"/>
<path d="M1199.8,1998.5 L1199.8,1919.7 Q1199.8,1916.3 1203.2,1916.3 L1204.7,1916.3 Q1208.1,1916.3 1208.1,1919.7 L1208.1,1998.5 Z" fill="#000"/>
<path d="M1207.5,1998.5 L1207.5,1920.6 Q1207.5,1917.2 1211.0,1917.2 L1212.5,1917.2 Q1215.9,1917.2 1215.9,1920.6 L1215.9,1998.5 Z" fill="#000"/>
<path d="M1210.8,1998.5 L1210.8,1960.6 Q1210.8,1957.2 1214.2,1957.2 L1215.8,1957.2 Q1219.2,1957.2 1219.2,1960.6 L1219.2,1998.5 Z" fill="#000"/>
<path d="M1226.8,1998.5 L1226.8,1962.7 Q1226.8,1959.3 1230.2,1959.3 L1231.8,1959.3 Q1235.2,1959.3 1235.2,1962.7 L1235.2,1998.5 Z" fill="#000"/>
<path d="M1295.1,1998.5 L1295.1,1985.0 Q1295.1,1981.6 1298.5,1981.6 L1300.0,1981.6 Q1303.5,1981.6 1303.5,1985.0 L1303.5,1998.5 Z" fill="#000"/>
<path d="M1354.1,1998.5 L1354.1,1985.0 Q1354.1,1981.6 1357.5,1981.6 L1359.0,1981.6 Q1362.5,1981.6 1362.5,1985.0 L1362.5,1998.5 Z" fill="#000"/>
<path d="M1405.8,1998.5 L1405.8,1985.0 Q1405.8,1981.6 1409.2,1981.6 L1410.8,1981.6 Q1414.2,1981.6 1414.2,1985.0 L1414.2,1998.5 Z" fill="#000"/>
<path d="M1460.4,1998.5 L1460.4,1985.0 Q1460.4,1981.6 1463.8,1981.6 L1465.3,1981.6 Q1468.8,1981.6 1468.8,1985.0 L1468.8,1998.5 Z" fill="#000"/>
<path d="M191.8,2136.8 L191.8,2120.0 Q191.8,2116.6 195.2,2116.6 L196.8,2116.6 Q200.2,2116.6 200.2,2120.0 L200.2,2136.8 Z" fill="#000"/>
<path d="M317.1,2136.8 L317.1,2118.8 Q317.1,2115.4 320.4,2115.4 L321.9,2115.4 Q325.3,2115.4 325.3,2118.8 L325.3,2136.8 Z" fill="#000"/>
<path d="M413.0,2136.8 L413.0,2122.4 Q413.0,2119.0 416.4,2119.0 L417.9,2119.0 Q421.2,2119.0 421.2,2122.4 L421.2,2136.8 Z" fill="#000"/>
<path d="M438.1,2136.8 L438.1,2005.4 Q438.1,2002.0 441.4,2002.0 L442.9,2002.0 Q446.3,2002.0 446.3,2005.4 L446.3,2136.8 Z" fill="#000"/>
<path d="M464.2,2136.8 L464.2,2070.4 Q464.2,2067.0 467.6,2067.0 L469.1,2067.0 Q472.4,2067.0 472.4,2070.4 L472.4,2136.8 Z" fill="#000"/>
<path d="M497.9,2136.8 L497.9,2055.6 Q497.9,2052.2 501.2,2052.2 L502.8,2052.2 Q506.1,2052.2 506.1,2055.6 L506.1,2136.8 Z" fill="#000"/>
<path d="M600.9,2136.8 L600.9,2066.6 Q600.9,2063.2 604.2,2063.2 L605.8,2063.2 Q609.1,2063.2 609.1,2066.6 L609.1,2136.8 Z" fill="#000"/>
<path d="M693.8,2136.8 L693.8,2107.5 Q693.8,2104.1 697.1,2104.1 L698.6,2104.1 Q702.0,2104.1 702.0,2107.5 L702.0,2136.8 Z" fill="#000"/>
<path d="M720.1,2136.8 L720.1,2091.4 Q720.1,2088.0 723.5,2088.0 L725.0,2088.0 Q728.4,2088.0 728.4,2091.4 L728.4,2136.8 Z" fill="#000"/>
<path d="M876.4,2136.8 L876.4,2089.7 Q876.4,2086.3 879.8,2086.3 L881.2,2086.3 Q884.6,2086.3 884.6,2089.7 L884.6,2136.8 Z" fill="#000"/>
<path d="M899.0,2136.8 L899.0,2091.4 Q899.0,2088.0 902.4,2088.0 L903.9,2088.0 Q907.2,2088.0 907.2,2091.4 L907.2,2136.8 Z" fill="#000"/>
<path d="M998.4,2136.8 L998.4,2109.0 Q998.4,2105.6 1001.8,2105.6 L1003.2,2105.6 Q1006.6,2105.6 1006.6,2109.0 L1006.6,2136.8 Z" fill="#000"/>
<path d="M1021.6,2136.8 L1021.6,2121.8 Q1021.6,2118.4 1025.0,2118.4 L1026.5,2118.4 Q1030.0,2118.4 1030.0,2121.8 L1030.0,2136.8 Z" fill="#000"/>
<path d="M1069.2,2136.8 L1069.2,2086.7 Q1069.2,2083.3 1072.7,2083.3 L1074.2,2083.3 Q1077.6,2083.3 1077.6,2086.7 L1077.6,2136.8 Z" fill="#000"/>
<path d="M1149.8,2136.8 L1149.8,2011.7 Q1149.8,2008.3 1153.2,2008.3 L1154.8,2008.3 Q1158.2,2008.3 1158.2,2011.7 L1158.2,2136.8 Z" fill="#000"/>
<path d="M1156.2,2136.8 L1156.2,2121.8 Q1156.2,2118.4 1159.7,2118.4 L1161.2,2118.4 Q1164.6,2118.4 1164.6,2121.8 L1164.6,2136.8 Z" fill="#000"/>
<path d="M1163.3,2136.8 L1163.3,2030.4 Q1163.3,2027.0 1166.8,2027.0 L1168.2,2027.0 Q1171.7,2027.0 1171.7,2030.4 L1171.7,2136.8 Z" fill="#000"/>
<path d="M1194.6,2136.8 L1194.6,2082.3 Q1194.6,2078.9 1198.0,2078.9 L1199.5,2078.9 Q1203.0,2078.9 1203.0,2082.3 L1203.0,2136.8 Z" fill="#000"/>
<path d="M1203.4,2136.8 L1203.4,2047.6 Q1203.4,2044.2 1206.8,2044.2 L1208.3,2044.2 Q1211.8,2044.2 1211.8,2047.6 L1211.8,2136.8 Z" fill="#000"/>
<path d="M1246.1,2136.8 L1246.1,2121.8 Q1246.1,2118.4 1249.5,2118.4 L1251.0,2118.4 Q1254.5,2118.4 1254.5,2121.8 L1254.5,2136.8 Z" fill="#000"/>
<path d="M1344.6,2136.8 L1344.6,2122.4 Q1344.6,2119.0 1348.0,2119.0 L1349.5,2119.0 Q1353.0,2119.0 1353.0,2122.4 L1353.0,2136.8 Z" fill="#000"/>
<path d="M1400.1,2136.8 L1400.1,2122.4 Q1400.1,2119.0 1403.5,2119.0 L1405.0,2119.0 Q1408.5,2119.0 1408.5,2122.4 L1408.5,2136.8 Z" fill="#000"/>
<path d="M1457.1,2136.8 L1457.1,2121.4 Q1457.1,2118.0 1460.5,2118.0 L1462.0,2118.0 Q1465.5,2118.0 1465.5,2121.4 L1465.5,2136.8 Z" fill="#000"/>
<path d="M519.2,911.9 L519.2,879.9 A8.0,8.0 0 1 0 511.20000000000005,887.9 L543.2,887.9 A8.0,8.0 0 1 0 535.2,879.9 L535.2,911.9 A8.0,8.0 0 1 0 543.2,903.9 L511.20000000000005,903.9 A8.0,8.0 0 1 0 519.2,911.9 Z" fill="none" stroke="#FF8000" stroke-width="5.9"/>
<path d="M924.0,962.0 L924.0,930.0 A8.0,8.0 0 1 0 916.0,938.0 L948.0,938.0 A8.0,8.0 0 1 0 940.0,930.0 L940.0,962.0 A8.0,8.0 0 1 0 948.0,954.0 L916.0,954.0 A8.0,8.0 0 1 0 924.0,962.0 Z" fill="none" stroke="#FF8000" stroke-width="5.9"/>
<polygon points="463.0,971.3 481.5,1002.7 444.5,1002.7" fill="#8BBB4E" stroke="#8BBB4E" stroke-width="5.0" stroke-linejoin="round"/>
<polygon points="530.6,980.4 549.1,1012.6 512.1,1012.6" fill="#8BBB4E" stroke="#8BBB4E" stroke-width="5.0" stroke-linejoin="round"/>
<polygon points="1159.4,1183.8 1177.9,1215.4 1140.9,1215.4" fill="#8BBB4E" stroke="#8BBB4E" stroke-width="5.0" stroke-linejoin="round"/>
<polygon points="1221.0,1108.2 1239.5,1139.4 1202.5,1139.4" fill="#8BBB4E" stroke="#8BBB4E" stroke-width="5.0" stroke-linejoin="round"/>
<polygon points="327.2,432.6 352.8,432.6 352.8,452.1 366.0,452.1 340.0,475.8 314.0,452.1 327.2,452.1" fill="#2480BE"/>
<polygon points="1346.6,506.0 1372.2,506.0 1372.2,525.5 1385.4,525.5 1359.4,549.2 1333.4,525.5 1346.6,525.5" fill="#2480BE"/>
<polygon points="320.2,871.8 345.8,871.8 345.8,891.3 359.0,891.3 333.0,915.0 307.0,891.3 320.2,891.3" fill="#2480BE"/>
<polygon points="1340.8,920.0 1366.4,920.0 1366.4,939.5 1379.6,939.5 1353.6,963.2 1327.6,939.5 1340.8,939.5" fill="#2480BE"/>
<polygon points="324.2,1261.9 349.8,1261.9 349.8,1281.4 363.0,1281.4 337.0,1305.1 311.0,1281.4 324.2,1281.4" fill="#2480BE"/>
<polygon points="1312.2,1243.2 1337.8,1243.2 1337.8,1262.7 1351.0,1262.7 1325.0,1286.4 1299.0,1262.7 1312.2,1262.7" fill="#2480BE"/>
<polygon points="184.4,924.8 190.1,946.2 208.4,946.2 193.6,959.4 199.2,980.8 184.4,967.6 169.6,980.8 175.2,959.4 160.4,946.2 178.7,946.2" fill="#DA4E4E"/>
<polygon points="432.1,616.9 437.8,638.3 456.1,638.3 441.3,651.5 446.9,672.9 432.1,659.7 417.3,672.9 422.9,651.5 408.1,638.3 426.4,638.3" fill="#DA4E4E"/>
<polygon points="476.1,645.2 481.8,666.6 500.1,666.6 485.3,679.8 490.9,701.2 476.1,688.0 461.3,701.2 466.9,679.8 452.1,666.6 470.4,666.6" fill="#DA4E4E"/>
<polygon points="514.0,734.4 519.7,755.8 538.0,755.8 523.2,769.0 528.8,790.4 514.0,777.2 499.2,790.4 504.8,769.0 490.0,755.8 508.3,755.8" fill="#DA4E4E"/>
<polygon points="598.7,777.3 604.4,798.7 622.7,798.7 607.9,811.9 613.5,833.3 598.7,820.1 583.9,833.3 589.5,811.9 574.7,798.7 593.0,798.7" fill="#DA4E4E"/>
<polygon points="678.9,886.3 684.6,907.7 702.9,907.7 688.1,920.9 693.7,942.3 678.9,929.1 664.1,942.3 669.7,920.9 654.9,907.7 673.2,907.7" fill="#DA4E4E"/>
<polygon points="716.1,847.9 721.8,869.3 740.1,869.3 725.3,882.5 730.9,903.9 716.1,890.7 701.3,903.9 706.9,882.5 692.1,869.3 710.4,869.3" fill="#DA4E4E"/>
<polygon points="861.9,829.2 867.6,850.6 885.9,850.6 871.1,863.8 876.7,885.2 861.9,872.0 847.1,885.2 852.7,863.8 837.9,850.6 856.2,850.6" fill="#DA4E4E"/>
<polygon points="913.4,835.3 919.1,856.7 937.4,856.7 922.6,869.9 928.2,891.3 913.4,878.1 898.6,891.3 904.2,869.9 889.4,856.7 907.7,856.7" fill="#DA4E4E"/>
<polygon points="989.0,910.5 994.7,931.9 1013.0,931.9 998.2,945.1 1003.8,966.5 989.0,953.3 974.2,966.5 979.8,945.1 965.0,931.9 983.3,931.9" fill="#DA4E4E"/>
<polygon points="1055.0,848.4 1060.7,869.8 1079.0,869.8 1064.2,883.0 1069.8,904.4 1055.0,891.2 1040.2,904.4 1045.8,883.0 1031.0,869.8 1049.3,869.8" fill="#DA4E4E"/>
<polygon points="1148.9,465.3 1154.6,486.7 1172.9,486.7 1158.1,499.9 1163.7,521.3 1148.9,508.1 1134.1,521.3 1139.7,499.9 1124.9,486.7 1143.2,486.7" fill="#DA4E4E"/>
<polygon points="1198.8,566.6 1204.5,588.0 1222.8,588.0 1208.0,601.2 1213.6,622.6 1198.8,609.4 1184.0,622.6 1189.6,601.2 1174.8,588.0 1193.1,588.0" fill="#DA4E4E"/>
<polygon points="680.4,50.8 706.0,50.8 706.0,70.3 719.2,70.3 693.2,94.0 667.2,70.3 680.4,70.3" fill="#2480BE"/>
<polygon points="694.4,126.7 717.0,170.3 671.8,170.3" fill="#8BBB4E" stroke="#8BBB4E" stroke-width="6" stroke-linejoin="round"/>
<polygon points="695.2,207.8 703.7,236.5 731.2,236.5 709.0,254.2 717.5,282.9 695.2,265.2 672.9,282.9 681.4,254.2 659.2,236.5 686.7,236.5" fill="#DA4E4E"/>
<path d="M690.1,381.0 L690.1,349.0 A8.0,8.0 0 1 0 682.1,357.0 L714.1,357.0 A8.0,8.0 0 1 0 706.1,349.0 L706.1,381.0 A8.0,8.0 0 1 0 714.1,373.0 L682.1,373.0 A8.0,8.0 0 1 0 690.1,381.0 Z" fill="none" stroke="#FF8000" stroke-width="5.9"/>
<text x="746.17" y="92.00" font-family='"Liberation Serif", serif' font-size="69.5" fill="#000">Si</text>
<text transform="translate(820.40,92.00) scale(1.0130,1.0)" font-family='"Liberation Serif", serif' font-size="69.5" fill="#000">/</text>
<text x="853.00" y="92.00" font-family='"Liberation Serif", serif' font-size="69.5" fill="#000">NiSi</text>
<text x="978.38" y="118.60" font-family='"Liberation Serif", serif' font-size="58.5" fill="#000">2</text>
<text transform="translate(746.01,174.70) scale(0.9919,1.0)" font-family='"Liberation Serif", serif' font-size="69.5" fill="#000">Sn</text>
<text transform="translate(748.82,280.60) scale(1.0423,1.0)" font-family='"Liberation Serif", serif' font-size="67.8" fill="#000">Ni</text>
<text transform="translate(818.38,325.60) scale(0.9511,1.0)" font-family='"Liberation Serif", serif' font-size="58.5" fill="#000">3.4</text>
<text transform="translate(887.28,280.60) scale(1.0045,1.0)" font-family='"Liberation Serif", serif' font-size="67.8" fill="#000">Sn</text>
<text transform="translate(959.06,325.60) scale(0.9211,1.0)" font-family='"Liberation Serif", serif' font-size="58.5" fill="#000">4</text>
<text transform="translate(745.81,383.50) scale(1.0454,1.0)" font-family='"Liberation Serif", serif' font-size="67.8" fill="#000">Ni</text>
<text transform="translate(816.27,428.50) scale(0.9196,1.0)" font-family='"Liberation Serif", serif' font-size="58.5" fill="#000">3</text>
<text transform="translate(843.17,383.50) scale(1.0061,1.0)" font-family='"Liberation Serif", serif' font-size="67.8" fill="#000">Sn</text>
<text transform="translate(914.55,428.60) scale(0.9321,1.0)" font-family='"Liberation Serif", serif' font-size="58.5" fill="#000">4</text>
<text transform="translate(208.72,1549.60) scale(1.0125,1.0)" font-family='"Liberation Serif", serif' font-size="69.5" fill="#000">Sn</text>
<text transform="translate(229.39,1695.00) scale(1.0192,1.0)" font-family='"Liberation Serif", serif' font-size="69.5" fill="#000">Si</text>
<text x="175.00" y="1815.80" font-family='"Liberation Serif", serif' font-size="69.5" fill="#000">NiSi</text>
<text transform="translate(300.09,1842.60) scale(1.0310,1.0)" font-family='"Liberation Serif", serif' font-size="58.5" fill="#000">2</text>
<text transform="translate(193.22,1941.80) scale(1.0377,1.0)" font-family='"Liberation Serif", serif' font-size="67.8" fill="#000">Ni</text>
<text transform="translate(262.24,1986.80) scale(0.9320,1.0)" font-family='"Liberation Serif", serif' font-size="58.5" fill="#000">3</text>
<text transform="translate(290.08,1941.80) scale(1.0045,1.0)" font-family='"Liberation Serif", serif' font-size="67.8" fill="#000">Sn</text>
<text transform="translate(360.77,1986.60) scale(0.9174,1.0)" font-family='"Liberation Serif", serif' font-size="58.5" fill="#000">4</text>
<text transform="translate(193.24,2065.80) scale(1.0299,1.0)" font-family='"Liberation Serif", serif' font-size="67.8" fill="#000">Ni</text>
<text transform="translate(262.22,2110.40) scale(0.9367,1.0)" font-family='"Liberation Serif", serif' font-size="58.5" fill="#000">3.4</text>
<text transform="translate(330.75,2065.80) scale(1.0121,1.0)" font-family='"Liberation Serif", serif' font-size="67.8" fill="#000">Sn</text>
<text transform="translate(401.97,2110.40) scale(0.9174,1.0)" font-family='"Liberation Serif", serif' font-size="58.5" fill="#000">4</text>
<text transform="translate(675.04,699.70) scale(0.9803,1.025)" font-family='"Liberation Sans", sans-serif' font-size="69" font-weight="bold" fill="#0000FF">Si</text>
<text transform="translate(738.38,727.20) scale(0.9952,1.0)" font-family='"Liberation Sans", sans-serif' font-size="40" font-weight="bold" fill="#0000FF">C</text>
<text transform="translate(767.31,699.70) scale(0.9779,1.025)" font-family='"Liberation Sans", sans-serif' font-size="69" font-weight="bold" fill="#0000FF">-NiSn</text>
<text transform="translate(690.84,1085.80) scale(0.9820,1.025)" font-family='"Liberation Sans", sans-serif' font-size="69" font-weight="bold" fill="#FF0000">Si</text>
<text transform="translate(754.45,1112.00) scale(1.0126,1.0)" font-family='"Liberation Sans", sans-serif' font-size="40" font-weight="bold" fill="#FF0000">O</text>
<text transform="translate(785.29,1085.80) scale(0.9843,1.025)" font-family='"Liberation Sans", sans-serif' font-size="69" font-weight="bold" fill="#FF0000">-NiSn</text>
<text transform="translate(694.73,1350.80) scale(0.9871,1.025)" font-family='"Liberation Sans", sans-serif' font-size="69" font-weight="bold" fill="#000">Si</text>
<text transform="translate(758.34,1377.50) scale(1.0128,1.0)" font-family='"Liberation Sans", sans-serif' font-size="40" font-weight="bold" fill="#000">R</text>
<text transform="translate(787.32,1350.80) scale(0.9762,1.025)" font-family='"Liberation Sans", sans-serif' font-size="69" font-weight="bold" fill="#000">-NiSn</text>
<text x="161.3" y="2239" text-anchor="middle" font-family='"Liberation Sans", sans-serif' font-size="70" fill="#000">25</text>
<text x="429.5" y="2239" text-anchor="middle" font-family='"Liberation Sans", sans-serif' font-size="70" fill="#000">30</text>
<text x="697.7" y="2239" text-anchor="middle" font-family='"Liberation Sans", sans-serif' font-size="70" fill="#000">35</text>
<text x="965.9" y="2239" text-anchor="middle" font-family='"Liberation Sans", sans-serif' font-size="70" fill="#000">40</text>
<text x="1234.1" y="2239" text-anchor="middle" font-family='"Liberation Sans", sans-serif' font-size="70" fill="#000">45</text>
<text x="1502.3" y="2239" text-anchor="middle" font-family='"Liberation Sans", sans-serif' font-size="70" fill="#000">50</text>
<text transform="translate(721.98,2345.00) scale(1.0049,1.0)" font-family='"Liberation Sans", sans-serif' font-size="90" fill="#000">2</text>
<text transform="translate(793.57,2345.00) scale(1.2650,1.0)" font-family='"Liberation Serif", serif' font-size="75" fill="#000">θ</text>
<text transform="translate(857.24,2343.50) scale(0.9949,1.0)" font-family='"Liberation Serif", serif' font-size="76" fill="#000">(</text>
<text transform="translate(883.34,2343.50) scale(1.0087,1.0)" font-family='"Liberation Serif", serif' font-size="76" fill="#000">°</text>
<text x="913.50" y="2343.50" font-family='"Liberation Serif", serif' font-size="76" fill="#000">)</text>
<text transform="translate(85.0,1315.6) rotate(-90) scale(0.9859,1)" font-family='"Liberation Sans", sans-serif' font-size="98" fill="#000">Intensity / a.u.</text>
</svg>
</body></html>
